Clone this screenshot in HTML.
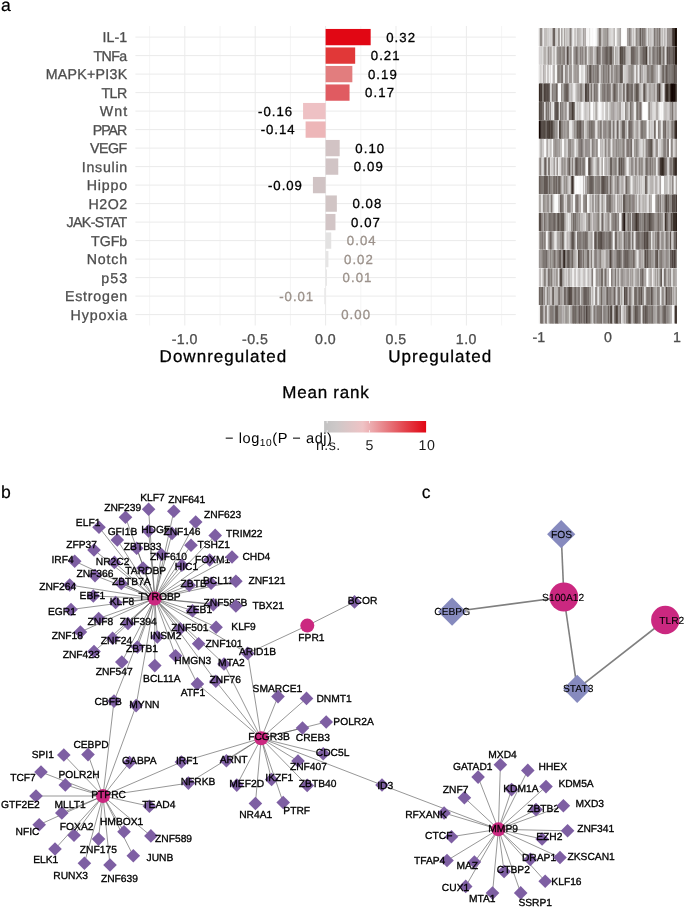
<!DOCTYPE html>
<html><head><meta charset="utf-8"><title>figure</title>
<style>html,body{margin:0;padding:0;background:#fff;}body{width:685px;height:908px;overflow:hidden;font-family:"Liberation Sans", sans-serif;}svg{display:block;position:absolute;left:0;top:0;will-change:transform;}text{text-rendering:geometricPrecision;}</style></head>
<body>
<svg width="685" height="908" viewBox="0 0 685 908" font-family='"Liberation Sans", sans-serif'>
<g id="bars" class="t" stroke-width="0.3"><line x1="135.4" x2="515.8" y1="37.10" y2="37.10" stroke="#ebebeb" stroke-width="1"/>
<line x1="135.4" x2="515.8" y1="55.60" y2="55.60" stroke="#ebebeb" stroke-width="1"/>
<line x1="135.4" x2="515.8" y1="74.10" y2="74.10" stroke="#ebebeb" stroke-width="1"/>
<line x1="135.4" x2="515.8" y1="92.60" y2="92.60" stroke="#ebebeb" stroke-width="1"/>
<line x1="135.4" x2="515.8" y1="111.10" y2="111.10" stroke="#ebebeb" stroke-width="1"/>
<line x1="135.4" x2="515.8" y1="129.60" y2="129.60" stroke="#ebebeb" stroke-width="1"/>
<line x1="135.4" x2="515.8" y1="148.10" y2="148.10" stroke="#ebebeb" stroke-width="1"/>
<line x1="135.4" x2="515.8" y1="166.60" y2="166.60" stroke="#ebebeb" stroke-width="1"/>
<line x1="135.4" x2="515.8" y1="185.10" y2="185.10" stroke="#ebebeb" stroke-width="1"/>
<line x1="135.4" x2="515.8" y1="203.60" y2="203.60" stroke="#ebebeb" stroke-width="1"/>
<line x1="135.4" x2="515.8" y1="222.10" y2="222.10" stroke="#ebebeb" stroke-width="1"/>
<line x1="135.4" x2="515.8" y1="240.60" y2="240.60" stroke="#ebebeb" stroke-width="1"/>
<line x1="135.4" x2="515.8" y1="259.10" y2="259.10" stroke="#ebebeb" stroke-width="1"/>
<line x1="135.4" x2="515.8" y1="277.60" y2="277.60" stroke="#ebebeb" stroke-width="1"/>
<line x1="135.4" x2="515.8" y1="296.10" y2="296.10" stroke="#ebebeb" stroke-width="1"/>
<line x1="135.4" x2="515.8" y1="314.60" y2="314.60" stroke="#ebebeb" stroke-width="1"/>
<line x1="149.60" x2="149.60" y1="26.0" y2="325.5" stroke="#ebebeb" stroke-width="0.55"/>
<line x1="184.80" x2="184.80" y1="26.0" y2="325.5" stroke="#ebebeb" stroke-width="1.0"/>
<line x1="220.00" x2="220.00" y1="26.0" y2="325.5" stroke="#ebebeb" stroke-width="0.55"/>
<line x1="255.20" x2="255.20" y1="26.0" y2="325.5" stroke="#ebebeb" stroke-width="1.0"/>
<line x1="290.40" x2="290.40" y1="26.0" y2="325.5" stroke="#ebebeb" stroke-width="0.55"/>
<line x1="325.60" x2="325.60" y1="26.0" y2="325.5" stroke="#ebebeb" stroke-width="1.0"/>
<line x1="360.80" x2="360.80" y1="26.0" y2="325.5" stroke="#ebebeb" stroke-width="0.55"/>
<line x1="396.00" x2="396.00" y1="26.0" y2="325.5" stroke="#ebebeb" stroke-width="1.0"/>
<line x1="431.20" x2="431.20" y1="26.0" y2="325.5" stroke="#ebebeb" stroke-width="0.55"/>
<line x1="466.40" x2="466.40" y1="26.0" y2="325.5" stroke="#ebebeb" stroke-width="1.0"/>
<line x1="501.60" x2="501.60" y1="26.0" y2="325.5" stroke="#ebebeb" stroke-width="0.55"/>
<rect x="325.60" y="28.95" width="45.06" height="16.3" fill="#e10714"/>
<text x="102.60" y="42.20" textLength="24.6" lengthAdjust="spacing" font-size="14.2" fill="#4d4d4d" stroke="#4d4d4d">IL-1</text>
<text x="386.21" y="41.80" textLength="28.9" lengthAdjust="spacing" font-size="13.2" fill="#000" stroke="#000">0.32</text>
<rect x="325.60" y="47.45" width="29.57" height="16.3" fill="#e13838"/>
<text x="93.50" y="60.70" textLength="33.7" lengthAdjust="spacing" font-size="14.2" fill="#4d4d4d" stroke="#4d4d4d">TNFa</text>
<text x="370.72" y="60.30" textLength="28.9" lengthAdjust="spacing" font-size="13.2" fill="#000" stroke="#000">0.21</text>
<rect x="325.60" y="65.95" width="26.75" height="16.3" fill="#e27d7e"/>
<text x="45.70" y="79.20" textLength="81.5" lengthAdjust="spacing" font-size="14.2" fill="#4d4d4d" stroke="#4d4d4d">MAPK+PI3K</text>
<text x="367.90" y="78.80" textLength="28.9" lengthAdjust="spacing" font-size="13.2" fill="#000" stroke="#000">0.19</text>
<rect x="325.60" y="84.45" width="23.94" height="16.3" fill="#e05b61"/>
<text x="101.40" y="97.70" textLength="25.8" lengthAdjust="spacing" font-size="14.2" fill="#4d4d4d" stroke="#4d4d4d">TLR</text>
<text x="365.09" y="97.30" textLength="28.9" lengthAdjust="spacing" font-size="13.2" fill="#000" stroke="#000">0.17</text>
<rect x="303.07" y="102.95" width="22.53" height="16.3" fill="#eec1c4"/>
<text x="99.70" y="116.20" textLength="27.5" lengthAdjust="spacing" font-size="14.2" fill="#4d4d4d" stroke="#4d4d4d">Wnt</text>
<text x="258.12" y="115.80" textLength="33.9" lengthAdjust="spacing" font-size="13.2" fill="#000" stroke="#000">-0.16</text>
<rect x="305.61" y="121.45" width="19.99" height="16.3" fill="#edb6b8"/>
<text x="92.70" y="134.70" textLength="34.5" lengthAdjust="spacing" font-size="14.2" fill="#4d4d4d" stroke="#4d4d4d">PPAR</text>
<text x="260.66" y="134.30" textLength="33.9" lengthAdjust="spacing" font-size="13.2" fill="#000" stroke="#000">-0.14</text>
<rect x="325.60" y="139.95" width="14.08" height="16.3" fill="#d2c3c4"/>
<text x="90.10" y="153.20" textLength="37.1" lengthAdjust="spacing" font-size="14.2" fill="#4d4d4d" stroke="#4d4d4d">VEGF</text>
<text x="355.23" y="152.80" textLength="28.9" lengthAdjust="spacing" font-size="13.2" fill="#000" stroke="#000">0.10</text>
<rect x="325.60" y="158.45" width="12.67" height="16.3" fill="#d1c4c5"/>
<text x="81.80" y="171.70" textLength="45.4" lengthAdjust="spacing" font-size="14.2" fill="#4d4d4d" stroke="#4d4d4d">Insulin</text>
<text x="353.82" y="171.30" textLength="28.9" lengthAdjust="spacing" font-size="13.2" fill="#000" stroke="#000">0.09</text>
<rect x="312.93" y="176.95" width="12.67" height="16.3" fill="#d0c3c4"/>
<text x="86.70" y="190.20" textLength="40.5" lengthAdjust="spacing" font-size="14.2" fill="#4d4d4d" stroke="#4d4d4d">Hippo</text>
<text x="267.98" y="189.80" textLength="33.9" lengthAdjust="spacing" font-size="13.2" fill="#000" stroke="#000">-0.09</text>
<rect x="325.60" y="195.45" width="11.26" height="16.3" fill="#d1c5c5"/>
<text x="88.60" y="208.70" textLength="38.6" lengthAdjust="spacing" font-size="14.2" fill="#4d4d4d" stroke="#4d4d4d">H2O2</text>
<text x="352.41" y="208.30" textLength="28.9" lengthAdjust="spacing" font-size="13.2" fill="#000" stroke="#000">0.08</text>
<rect x="325.60" y="213.95" width="9.86" height="16.3" fill="#d2c5c6"/>
<text x="66.40" y="227.20" textLength="60.8" lengthAdjust="spacing" font-size="14.2" fill="#4d4d4d" stroke="#4d4d4d">JAK-STAT</text>
<text x="351.01" y="226.80" textLength="28.9" lengthAdjust="spacing" font-size="13.2" fill="#000" stroke="#000">0.07</text>
<rect x="325.60" y="232.45" width="5.63" height="16.3" fill="#e3e2e2"/>
<text x="91.00" y="245.70" textLength="36.2" lengthAdjust="spacing" font-size="14.2" fill="#4d4d4d" stroke="#4d4d4d">TGFb</text>
<text x="346.78" y="245.30" textLength="28.9" lengthAdjust="spacing" font-size="13.2" fill="#9c928b" stroke="#9c928b">0.04</text>
<rect x="325.60" y="250.95" width="2.82" height="16.3" fill="#e6e5e5"/>
<text x="86.70" y="264.20" textLength="40.5" lengthAdjust="spacing" font-size="14.2" fill="#4d4d4d" stroke="#4d4d4d">Notch</text>
<text x="343.97" y="263.80" textLength="28.9" lengthAdjust="spacing" font-size="13.2" fill="#9c928b" stroke="#9c928b">0.02</text>
<rect x="325.60" y="269.45" width="1.41" height="16.3" fill="#e9e8e8"/>
<text x="101.20" y="282.70" textLength="26.0" lengthAdjust="spacing" font-size="14.2" fill="#4d4d4d" stroke="#4d4d4d">p53</text>
<text x="342.56" y="282.30" textLength="28.9" lengthAdjust="spacing" font-size="13.2" fill="#9c928b" stroke="#9c928b">0.01</text>
<rect x="324.19" y="287.95" width="1.41" height="16.3" fill="#ebeaea"/>
<text x="65.00" y="301.20" textLength="62.2" lengthAdjust="spacing" font-size="14.2" fill="#4d4d4d" stroke="#4d4d4d">Estrogen</text>
<text x="279.24" y="300.80" textLength="33.9" lengthAdjust="spacing" font-size="13.2" fill="#9c928b" stroke="#9c928b">-0.01</text>
<text x="70.60" y="319.70" textLength="56.6" lengthAdjust="spacing" font-size="14.2" fill="#4d4d4d" stroke="#4d4d4d">Hypoxia</text>
<text x="341.15" y="319.30" textLength="28.9" lengthAdjust="spacing" font-size="13.2" fill="#9c928b" stroke="#9c928b">0.00</text>
<text x="184.80" y="343.7" text-anchor="middle" font-size="14.2" letter-spacing="0.45" fill="#4d4d4d" stroke="#4d4d4d">-1.0</text>
<text x="255.20" y="343.7" text-anchor="middle" font-size="14.2" letter-spacing="0.45" fill="#4d4d4d" stroke="#4d4d4d">-0.5</text>
<text x="325.60" y="343.7" text-anchor="middle" font-size="14.2" letter-spacing="0.45" fill="#4d4d4d" stroke="#4d4d4d">0.0</text>
<text x="396.00" y="343.7" text-anchor="middle" font-size="14.2" letter-spacing="0.45" fill="#4d4d4d" stroke="#4d4d4d">0.5</text>
<text x="466.40" y="343.7" text-anchor="middle" font-size="14.2" letter-spacing="0.45" fill="#4d4d4d" stroke="#4d4d4d">1.0</text>
<text x="159.6" y="362.2" textLength="126.6" lengthAdjust="spacing" font-size="17" fill="#000" stroke="#000">Downregulated</text>
<text x="388.2" y="362.2" textLength="103" lengthAdjust="spacing" font-size="17" fill="#000" stroke="#000">Upregulated</text>
<text x="282.2" y="398" textLength="86.6" lengthAdjust="spacing" font-size="17" fill="#000" stroke="#000">Mean rank</text>
<defs><linearGradient id="lg" x1="0" x2="1" y1="0" y2="0"><stop offset="0" stop-color="#c2c2c2"/><stop offset="0.12" stop-color="#cdc8c8"/><stop offset="0.38" stop-color="#efc3c5"/><stop offset="0.6" stop-color="#e78085"/><stop offset="0.8" stop-color="#e3414a"/><stop offset="1" stop-color="#e10714"/></linearGradient></defs>
<rect x="324.1" y="421" width="102" height="11.5" fill="url(#lg)"/>
<line x1="327.2" x2="327.2" y1="421" y2="423.3" stroke="#fff" stroke-width="0.7"/>
<line x1="327.2" x2="327.2" y1="430.2" y2="432.5" stroke="#fff" stroke-width="0.7"/>
<line x1="369.5" x2="369.5" y1="421" y2="423.3" stroke="#fff" stroke-width="0.7"/>
<line x1="369.5" x2="369.5" y1="430.2" y2="432.5" stroke="#fff" stroke-width="0.7"/>
<text x="225" y="443" font-size="14.6" letter-spacing="0.55" fill="#000">− log<tspan font-size="10.2" dy="2.6">10</tspan><tspan dy="-2.6">(P − adj)</tspan></text>
<text x="328.3" y="450.2" text-anchor="middle" font-size="14.2" letter-spacing="0.4" fill="#1a1a1a">n.s.</text>
<text x="369.5" y="450.2" text-anchor="middle" font-size="14.2" fill="#1a1a1a">5</text>
<text x="427" y="450.2" text-anchor="middle" font-size="14.2" letter-spacing="0.6" fill="#1a1a1a">10</text></g>
<g id="heat" shape-rendering="auto"><g transform="translate(0,28.10)"><path d="M538.80 0h0.62v18.09h-0.62z" fill="#ffffff"/><path d="M538.82 0h1.21v18.09h-1.21z" fill="#bab7b5"/><path d="M539.43 0h1.21v18.09h-1.21z" fill="#dfdddc"/><path d="M540.04 0h1.24v18.09h-1.24z" fill="#817a76"/><path d="M540.68 0h1.24v18.09h-1.24z" fill="#aca7a4"/><path d="M541.32 0h1.24v18.09h-1.24z" fill="#817a77"/><path d="M541.96 0h1.24v18.09h-1.24z" fill="#c4c1bf"/><path d="M542.60 0h1.37v18.09h-1.37z" fill="#dbd9d8"/><path d="M543.36 0h1.37v18.09h-1.37z" fill="#f2f1f1"/><path d="M544.13 0h1.24v18.09h-1.24z" fill="#b8b4b2"/><path d="M544.77 0h1.24v18.09h-1.24z" fill="#cac7c5"/><path d="M545.41 0h1.24v18.09h-1.24z" fill="#bcb9b7"/><path d="M546.05 0h1.24v18.09h-1.24z" fill="#b3afad"/><path d="M546.69 0h1.37v18.09h-1.37z" fill="#dfdddc"/><path d="M547.45 0h1.37v18.09h-1.37z" fill="#c3bfbd"/><path d="M548.22 0h1.24v18.09h-1.24z" fill="#cac7c6"/><path d="M548.86 0h1.24v18.09h-1.24z" fill="#dfdedd"/><path d="M549.50 0h1.24v18.09h-1.24z" fill="#d3d0cf"/><path d="M550.14 0h1.24v18.09h-1.24z" fill="#c9c6c5"/><path d="M550.77 0h1.28v18.09h-1.28z" fill="#eeedec"/><path d="M551.45 0h1.28v18.09h-1.28z" fill="#c3c0be"/><path d="M552.14 0h1.28v18.09h-1.28z" fill="#b6b2b0"/><path d="M552.82 0h1.24v18.09h-1.24z" fill="#736c67"/><path d="M553.46 0h1.24v18.09h-1.24z" fill="#665d59"/><path d="M554.09 0h1.24v18.09h-1.24z" fill="#68605c"/><path d="M554.73 0h1.24v18.09h-1.24z" fill="#69615c"/><path d="M555.37 0h1.24v18.09h-1.24z" fill="#fafafa"/><path d="M556.01 0h1.24v18.09h-1.24z" fill="#d2cfce"/><path d="M556.65 0h1.24v18.09h-1.24z" fill="#d5d3d1"/><path d="M557.29 0h1.24v18.09h-1.24z" fill="#dfdddc"/><path d="M557.93 0h1.37v18.09h-1.37z" fill="#aba7a4"/><path d="M558.69 0h1.37v18.09h-1.37z" fill="#7e7773"/><path d="M559.46 0h1.37v18.09h-1.37z" fill="#cfcdcb"/><path d="M560.23 0h1.37v18.09h-1.37z" fill="#ffffff"/><path d="M560.99 0h1.32v18.09h-1.32z" fill="#a5a09d"/><path d="M561.71 0h1.32v18.09h-1.32z" fill="#bbb7b5"/><path d="M562.42 0h1.32v18.09h-1.32z" fill="#cfcdcb"/><path d="M563.14 0h1.32v18.09h-1.32z" fill="#f0efee"/><path d="M563.85 0h1.32v18.09h-1.32z" fill="#afaba8"/><path d="M564.57 0h1.28v18.09h-1.28z" fill="#a19c99"/><path d="M565.25 0h1.28v18.09h-1.28z" fill="#dfdddc"/><path d="M565.93 0h1.28v18.09h-1.28z" fill="#c7c4c2"/><path d="M566.61 0h1.37v18.09h-1.37z" fill="#bfbcba"/><path d="M567.38 0h1.37v18.09h-1.37z" fill="#d0cecc"/><path d="M568.15 0h1.37v18.09h-1.37z" fill="#ccc9c7"/><path d="M568.91 0h1.37v18.09h-1.37z" fill="#cdcac9"/><path d="M569.68 0h1.28v18.09h-1.28z" fill="#6c6460"/><path d="M570.36 0h1.28v18.09h-1.28z" fill="#8f8885"/><path d="M571.04 0h1.28v18.09h-1.28z" fill="#938d8a"/><path d="M571.72 0h1.28v18.09h-1.28z" fill="#e7e5e5"/><path d="M572.40 0h1.28v18.09h-1.28z" fill="#dddbda"/><path d="M573.09 0h1.28v18.09h-1.28z" fill="#f5f4f4"/><path d="M573.77 0h1.37v18.09h-1.37z" fill="#dbd9d8"/><path d="M574.53 0h1.37v18.09h-1.37z" fill="#bdb9b7"/><path d="M575.30 0h1.37v18.09h-1.37z" fill="#c8c5c4"/><path d="M576.07 0h1.37v18.09h-1.37z" fill="#e6e5e4"/><path d="M576.83 0h1.37v18.09h-1.37z" fill="#b6b2b0"/><path d="M577.60 0h1.37v18.09h-1.37z" fill="#b2adab"/><path d="M578.36 0h1.37v18.09h-1.37z" fill="#bcb9b7"/><path d="M579.13 0h1.37v18.09h-1.37z" fill="#b8b4b1"/><path d="M579.90 0h1.37v18.09h-1.37z" fill="#d1cfce"/><path d="M580.66 0h1.37v18.09h-1.37z" fill="#aba6a4"/><path d="M581.43 0h1.37v18.09h-1.37z" fill="#f4f4f4"/><path d="M582.20 0h1.37v18.09h-1.37z" fill="#d5d3d2"/><path d="M582.96 0h1.37v18.09h-1.37z" fill="#9b9592"/><path d="M583.73 0h1.37v18.09h-1.37z" fill="#c0bdbb"/><path d="M584.50 0h1.37v18.09h-1.37z" fill="#b3aeac"/><path d="M585.26 0h1.37v18.09h-1.37z" fill="#ada8a6"/><path d="M586.03 0h1.37v18.09h-1.37z" fill="#f4f3f3"/><path d="M586.80 0h1.37v18.09h-1.37z" fill="#ffffff"/><path d="M587.56 0h1.37v18.09h-1.37z" fill="#eae9e8"/><path d="M588.33 0h1.37v18.09h-1.37z" fill="#fffefe"/><path d="M589.09 0h1.62v18.09h-1.62z" fill="#e3e2e1"/><path d="M590.12 0h1.28v18.09h-1.28z" fill="#f9f9f8"/><path d="M590.80 0h1.28v18.09h-1.28z" fill="#fafafa"/><path d="M591.48 0h1.28v18.09h-1.28z" fill="#fefefe"/><path d="M592.16 0h1.28v18.09h-1.28z" fill="#f7f6f6"/><path d="M592.84 0h1.28v18.09h-1.28z" fill="#fbfbfb"/><path d="M593.52 0h1.28v18.09h-1.28z" fill="#ffffff"/><path d="M594.20 0h1.28v18.09h-1.28z" fill="#ffffff"/><path d="M594.89 0h1.28v18.09h-1.28z" fill="#fefefe"/><path d="M595.57 0h1.28v18.09h-1.28z" fill="#f6f6f6"/><path d="M596.25 0h1.28v18.09h-1.28z" fill="#f1f0f0"/><path d="M596.93 0h1.28v18.09h-1.28z" fill="#cdcac9"/><path d="M597.61 0h1.28v18.09h-1.28z" fill="#d1cfcd"/><path d="M598.29 0h1.32v18.09h-1.32z" fill="#a5a09d"/><path d="M599.01 0h1.32v18.09h-1.32z" fill="#78716d"/><path d="M599.72 0h1.32v18.09h-1.32z" fill="#7e7773"/><path d="M600.44 0h1.32v18.09h-1.32z" fill="#827c78"/><path d="M601.15 0h1.32v18.09h-1.32z" fill="#c1bebc"/><path d="M601.87 0h1.37v18.09h-1.37z" fill="#c1bdbc"/><path d="M602.64 0h1.37v18.09h-1.37z" fill="#cdcac8"/><path d="M603.40 0h1.37v18.09h-1.37z" fill="#948e8b"/><path d="M604.17 0h1.37v18.09h-1.37z" fill="#a49f9d"/><path d="M604.93 0h1.37v18.09h-1.37z" fill="#a39e9b"/><path d="M605.70 0h1.37v18.09h-1.37z" fill="#9e9996"/><path d="M606.47 0h1.37v18.09h-1.37z" fill="#a9a4a1"/><path d="M607.23 0h1.37v18.09h-1.37z" fill="#837c79"/><path d="M608.00 0h1.37v18.09h-1.37z" fill="#b7b3b0"/><path d="M608.77 0h1.37v18.09h-1.37z" fill="#b9b5b3"/><path d="M609.53 0h1.28v18.09h-1.28z" fill="#eae9e8"/><path d="M610.21 0h1.28v18.09h-1.28z" fill="#cfcdcb"/><path d="M610.90 0h1.28v18.09h-1.28z" fill="#c5c2c0"/><path d="M611.58 0h1.28v18.09h-1.28z" fill="#fafafa"/><path d="M612.26 0h1.28v18.09h-1.28z" fill="#d3d0cf"/><path d="M612.94 0h1.28v18.09h-1.28z" fill="#dddbda"/><path d="M613.62 0h1.37v18.09h-1.37z" fill="#aea9a7"/><path d="M614.39 0h1.37v18.09h-1.37z" fill="#c8c5c3"/><path d="M615.15 0h1.37v18.09h-1.37z" fill="#ffffff"/><path d="M615.92 0h1.37v18.09h-1.37z" fill="#f5f5f4"/><path d="M616.69 0h1.28v18.09h-1.28z" fill="#d4d2d0"/><path d="M617.37 0h1.28v18.09h-1.28z" fill="#c2bfbd"/><path d="M618.05 0h1.28v18.09h-1.28z" fill="#c3bfbe"/><path d="M618.73 0h1.28v18.09h-1.28z" fill="#b4b0ae"/><path d="M619.41 0h1.28v18.09h-1.28z" fill="#b7b4b1"/><path d="M620.09 0h1.28v18.09h-1.28z" fill="#8d8683"/><path d="M620.77 0h1.28v18.09h-1.28z" fill="#f8f8f8"/><path d="M621.45 0h1.28v18.09h-1.28z" fill="#f8f8f8"/><path d="M622.14 0h1.28v18.09h-1.28z" fill="#fffefe"/><path d="M622.82 0h1.28v18.09h-1.28z" fill="#fefefe"/><path d="M623.50 0h1.28v18.09h-1.28z" fill="#ffffff"/><path d="M624.18 0h1.28v18.09h-1.28z" fill="#ffffff"/><path d="M624.86 0h1.28v18.09h-1.28z" fill="#fbfbfb"/><path d="M625.54 0h1.28v18.09h-1.28z" fill="#ffffff"/><path d="M626.22 0h1.28v18.09h-1.28z" fill="#ffffff"/><path d="M626.91 0h1.37v18.09h-1.37z" fill="#a09a97"/><path d="M627.67 0h1.37v18.09h-1.37z" fill="#b5b1af"/><path d="M628.44 0h1.37v18.09h-1.37z" fill="#9c9794"/><path d="M629.20 0h1.37v18.09h-1.37z" fill="#7f7875"/><path d="M629.97 0h1.37v18.09h-1.37z" fill="#a29d9a"/><path d="M630.74 0h1.37v18.09h-1.37z" fill="#8f8986"/><path d="M631.50 0h1.24v18.09h-1.24z" fill="#dedcdb"/><path d="M632.14 0h1.24v18.09h-1.24z" fill="#d2d0cf"/><path d="M632.78 0h1.24v18.09h-1.24z" fill="#e2e1e0"/><path d="M633.42 0h1.24v18.09h-1.24z" fill="#b1adaa"/><path d="M634.06 0h1.28v18.09h-1.28z" fill="#e7e5e5"/><path d="M634.74 0h1.28v18.09h-1.28z" fill="#d8d6d5"/><path d="M635.42 0h1.28v18.09h-1.28z" fill="#b6b2b0"/><path d="M636.10 0h1.32v18.09h-1.32z" fill="#89827f"/><path d="M636.82 0h1.32v18.09h-1.32z" fill="#9b9592"/><path d="M637.53 0h1.32v18.09h-1.32z" fill="#a8a4a1"/><path d="M638.25 0h1.32v18.09h-1.32z" fill="#a39e9b"/><path d="M638.96 0h1.32v18.09h-1.32z" fill="#a39e9b"/><path d="M639.68 0h1.32v18.09h-1.32z" fill="#5c534e"/><path d="M640.39 0h1.32v18.09h-1.32z" fill="#6c6460"/><path d="M641.11 0h1.32v18.09h-1.32z" fill="#9e9896"/><path d="M641.82 0h1.32v18.09h-1.32z" fill="#88817e"/><path d="M642.54 0h1.32v18.09h-1.32z" fill="#645c57"/><path d="M643.26 0h1.37v18.09h-1.37z" fill="#8e8885"/><path d="M644.02 0h1.37v18.09h-1.37z" fill="#837c78"/><path d="M644.79 0h1.37v18.09h-1.37z" fill="#8b8581"/><path d="M645.55 0h1.37v18.09h-1.37z" fill="#b7b3b1"/><path d="M646.32 0h1.28v18.09h-1.28z" fill="#cdcac9"/><path d="M647.00 0h1.28v18.09h-1.28z" fill="#e8e7e6"/><path d="M647.68 0h1.28v18.09h-1.28z" fill="#d5d3d2"/><path d="M648.36 0h1.24v18.09h-1.24z" fill="#a49f9c"/><path d="M649.00 0h1.24v18.09h-1.24z" fill="#b5b1af"/><path d="M649.64 0h1.24v18.09h-1.24z" fill="#f0f0ef"/><path d="M650.28 0h1.24v18.09h-1.24z" fill="#b2aeac"/><path d="M650.92 0h1.24v18.09h-1.24z" fill="#b7b3b1"/><path d="M651.56 0h1.24v18.09h-1.24z" fill="#e5e4e3"/><path d="M652.20 0h1.24v18.09h-1.24z" fill="#cecbca"/><path d="M652.84 0h1.24v18.09h-1.24z" fill="#ccc9c8"/><path d="M653.47 0h1.28v18.09h-1.28z" fill="#afaaa8"/><path d="M654.16 0h1.28v18.09h-1.28z" fill="#6d6561"/><path d="M654.84 0h1.28v18.09h-1.28z" fill="#9a9491"/><path d="M655.52 0h1.37v18.09h-1.37z" fill="#a39e9b"/><path d="M656.28 0h1.37v18.09h-1.37z" fill="#9c9693"/><path d="M657.05 0h1.37v18.09h-1.37z" fill="#807976"/><path d="M657.82 0h1.37v18.09h-1.37z" fill="#a8a4a1"/><path d="M658.58 0h1.37v18.09h-1.37z" fill="#8e8885"/><path d="M659.35 0h1.37v18.09h-1.37z" fill="#6c635f"/><path d="M660.12 0h1.24v18.09h-1.24z" fill="#9d9794"/><path d="M660.76 0h1.24v18.09h-1.24z" fill="#d2d0cf"/><path d="M661.39 0h1.24v18.09h-1.24z" fill="#c8c5c4"/><path d="M662.03 0h1.24v18.09h-1.24z" fill="#9d9895"/><path d="M662.67 0h1.28v18.09h-1.28z" fill="#ffffff"/><path d="M663.35 0h1.28v18.09h-1.28z" fill="#cac7c5"/><path d="M664.03 0h1.28v18.09h-1.28z" fill="#b9b5b3"/><path d="M664.72 0h1.28v18.09h-1.28z" fill="#bfbcba"/><path d="M665.40 0h1.28v18.09h-1.28z" fill="#d5d3d2"/><path d="M666.08 0h1.28v18.09h-1.28z" fill="#e3e1e1"/><path d="M666.76 0h1.37v18.09h-1.37z" fill="#a6a19e"/><path d="M667.53 0h1.37v18.09h-1.37z" fill="#88827e"/><path d="M668.29 0h1.28v18.09h-1.28z" fill="#9e9996"/><path d="M668.97 0h1.28v18.09h-1.28z" fill="#8c8582"/><path d="M669.65 0h1.28v18.09h-1.28z" fill="#a8a3a1"/><path d="M670.34 0h1.21v18.09h-1.21z" fill="#8f8885"/><path d="M670.95 0h1.21v18.09h-1.21z" fill="#a09b98"/><path d="M671.56 0h1.21v18.09h-1.21z" fill="#817a76"/><path d="M672.18 0h1.29v18.09h-1.29z" fill="#4a403b"/><path d="M672.86 0h1.29v18.09h-1.29z" fill="#423832"/><path d="M673.55 0h1.29v18.09h-1.29z" fill="#3c312b"/><path d="M674.24 0h1.29v18.09h-1.29z" fill="#3c322c"/><path d="M674.93 0h1.29v18.09h-1.29z" fill="#160902"/><path d="M675.62 0h1.29v18.09h-1.29z" fill="#150902"/><path d="M676.31 0h0.69v18.09h-0.69z" fill="#1b0e07"/></g>
<g transform="translate(0,46.59)"><path d="M538.80 0h0.62v18.09h-0.62z" fill="#ffffff"/><path d="M538.82 0h1.21v18.09h-1.21z" fill="#c1bdbb"/><path d="M539.43 0h1.21v18.09h-1.21z" fill="#e6e5e4"/><path d="M540.04 0h1.28v18.09h-1.28z" fill="#cdcac9"/><path d="M540.73 0h1.28v18.09h-1.28z" fill="#e5e4e3"/><path d="M541.41 0h1.28v18.09h-1.28z" fill="#c3c0be"/><path d="M542.09 0h1.37v18.09h-1.37z" fill="#e2e0df"/><path d="M542.85 0h1.37v18.09h-1.37z" fill="#d8d6d5"/><path d="M543.62 0h1.28v18.09h-1.28z" fill="#aca7a5"/><path d="M544.30 0h1.28v18.09h-1.28z" fill="#b4afad"/><path d="M544.98 0h1.28v18.09h-1.28z" fill="#ada9a6"/><path d="M545.66 0h1.28v18.09h-1.28z" fill="#c7c4c2"/><path d="M546.35 0h1.28v18.09h-1.28z" fill="#d8d6d4"/><path d="M547.03 0h1.28v18.09h-1.28z" fill="#cecbca"/><path d="M547.71 0h1.37v18.09h-1.37z" fill="#a5a09d"/><path d="M548.47 0h1.37v18.09h-1.37z" fill="#8d8683"/><path d="M549.24 0h1.30v18.09h-1.30z" fill="#c1bebc"/><path d="M549.94 0h1.30v18.09h-1.30z" fill="#a9a4a1"/><path d="M550.65 0h1.30v18.09h-1.30z" fill="#aca7a5"/><path d="M551.35 0h1.30v18.09h-1.30z" fill="#c0bdbb"/><path d="M552.05 0h1.30v18.09h-1.30z" fill="#e8e7e6"/><path d="M552.75 0h1.30v18.09h-1.30z" fill="#d1cfce"/><path d="M553.46 0h1.30v18.09h-1.30z" fill="#bdbab8"/><path d="M554.16 0h1.30v18.09h-1.30z" fill="#b9b6b4"/><path d="M554.86 0h1.37v18.09h-1.37z" fill="#e6e4e3"/><path d="M555.63 0h1.37v18.09h-1.37z" fill="#eeedec"/><path d="M556.39 0h1.37v18.09h-1.37z" fill="#aaa5a3"/><path d="M557.16 0h1.37v18.09h-1.37z" fill="#8d8784"/><path d="M557.93 0h1.37v18.09h-1.37z" fill="#958f8c"/><path d="M558.69 0h1.37v18.09h-1.37z" fill="#8a8480"/><path d="M559.46 0h1.37v18.09h-1.37z" fill="#8b8581"/><path d="M560.23 0h1.37v18.09h-1.37z" fill="#807975"/><path d="M560.99 0h1.28v18.09h-1.28z" fill="#aeaaa7"/><path d="M561.67 0h1.28v18.09h-1.28z" fill="#87817d"/><path d="M562.36 0h1.28v18.09h-1.28z" fill="#9b9592"/><path d="M563.04 0h1.28v18.09h-1.28z" fill="#908a87"/><path d="M563.72 0h1.28v18.09h-1.28z" fill="#756d69"/><path d="M564.40 0h1.28v18.09h-1.28z" fill="#938d89"/><path d="M565.08 0h1.37v18.09h-1.37z" fill="#c1bebc"/><path d="M565.85 0h1.37v18.09h-1.37z" fill="#d4d2d1"/><path d="M566.61 0h1.28v18.09h-1.28z" fill="#665d59"/><path d="M567.29 0h1.28v18.09h-1.28z" fill="#483e39"/><path d="M567.98 0h1.28v18.09h-1.28z" fill="#4f4540"/><path d="M568.66 0h1.37v18.09h-1.37z" fill="#d2d0ce"/><path d="M569.42 0h1.37v18.09h-1.37z" fill="#928c88"/><path d="M570.19 0h1.37v18.09h-1.37z" fill="#918b88"/><path d="M570.96 0h1.37v18.09h-1.37z" fill="#948e8b"/><path d="M571.72 0h1.37v18.09h-1.37z" fill="#f3f2f2"/><path d="M572.49 0h1.37v18.09h-1.37z" fill="#f1f1f0"/><path d="M573.26 0h1.28v18.09h-1.28z" fill="#a5a09d"/><path d="M573.94 0h1.28v18.09h-1.28z" fill="#a19c99"/><path d="M574.62 0h1.28v18.09h-1.28z" fill="#89827f"/><path d="M575.30 0h1.28v18.09h-1.28z" fill="#8a8380"/><path d="M575.98 0h1.28v18.09h-1.28z" fill="#746c68"/><path d="M576.66 0h1.28v18.09h-1.28z" fill="#726b66"/><path d="M577.34 0h1.24v18.09h-1.24z" fill="#918b87"/><path d="M577.98 0h1.24v18.09h-1.24z" fill="#afaaa8"/><path d="M578.62 0h1.24v18.09h-1.24z" fill="#a29d9a"/><path d="M579.26 0h1.24v18.09h-1.24z" fill="#b0aca9"/><path d="M579.90 0h1.24v18.09h-1.24z" fill="#918b88"/><path d="M580.54 0h1.24v18.09h-1.24z" fill="#7b7470"/><path d="M581.18 0h1.24v18.09h-1.24z" fill="#a9a4a2"/><path d="M581.81 0h1.24v18.09h-1.24z" fill="#736c68"/><path d="M582.45 0h1.24v18.09h-1.24z" fill="#9d9794"/><path d="M583.09 0h1.24v18.09h-1.24z" fill="#a19c99"/><path d="M583.73 0h1.24v18.09h-1.24z" fill="#c1bdbb"/><path d="M584.37 0h1.24v18.09h-1.24z" fill="#a7a29f"/><path d="M585.01 0h1.28v18.09h-1.28z" fill="#7d7672"/><path d="M585.69 0h1.28v18.09h-1.28z" fill="#958f8c"/><path d="M586.37 0h1.28v18.09h-1.28z" fill="#a39e9c"/><path d="M587.05 0h1.21v18.09h-1.21z" fill="#e4e2e1"/><path d="M587.66 0h1.21v18.09h-1.21z" fill="#e1dfde"/><path d="M588.28 0h1.33v18.09h-1.33z" fill="#b1adaa"/><path d="M589.01 0h1.33v18.09h-1.33z" fill="#afaaa8"/><path d="M589.74 0h1.33v18.09h-1.33z" fill="#aeaaa7"/><path d="M590.47 0h1.33v18.09h-1.33z" fill="#8b8581"/><path d="M591.21 0h1.33v18.09h-1.33z" fill="#a19b99"/><path d="M591.94 0h1.33v18.09h-1.33z" fill="#a29d9a"/><path d="M592.67 0h1.28v18.09h-1.28z" fill="#ada8a6"/><path d="M593.35 0h1.28v18.09h-1.28z" fill="#eae9e8"/><path d="M594.03 0h1.28v18.09h-1.28z" fill="#d3d1d0"/><path d="M594.72 0h1.28v18.09h-1.28z" fill="#999390"/><path d="M595.40 0h1.28v18.09h-1.28z" fill="#cecbca"/><path d="M596.08 0h1.28v18.09h-1.28z" fill="#a39e9b"/><path d="M596.76 0h1.36v18.09h-1.36z" fill="#615954"/><path d="M597.52 0h1.36v18.09h-1.36z" fill="#6f6763"/><path d="M598.27 0h1.36v18.09h-1.36z" fill="#7c7470"/><path d="M599.03 0h1.36v18.09h-1.36z" fill="#817a76"/><path d="M599.78 0h1.36v18.09h-1.36z" fill="#6f6763"/><path d="M600.54 0h1.21v18.09h-1.21z" fill="#c0bcba"/><path d="M601.15 0h1.21v18.09h-1.21z" fill="#c3c0be"/><path d="M601.77 0h1.21v18.09h-1.21z" fill="#c1bdbb"/><path d="M602.38 0h1.37v18.09h-1.37z" fill="#726a66"/><path d="M603.15 0h1.37v18.09h-1.37z" fill="#87817d"/><path d="M603.91 0h1.37v18.09h-1.37z" fill="#7e7673"/><path d="M604.68 0h1.37v18.09h-1.37z" fill="#89827f"/><path d="M605.45 0h1.24v18.09h-1.24z" fill="#5f5652"/><path d="M606.08 0h1.24v18.09h-1.24z" fill="#5e5651"/><path d="M606.72 0h1.24v18.09h-1.24z" fill="#6c6460"/><path d="M607.36 0h1.24v18.09h-1.24z" fill="#69615c"/><path d="M608.00 0h1.28v18.09h-1.28z" fill="#8c8683"/><path d="M608.68 0h1.28v18.09h-1.28z" fill="#625a55"/><path d="M609.36 0h1.28v18.09h-1.28z" fill="#79726e"/><path d="M610.04 0h1.28v18.09h-1.28z" fill="#615854"/><path d="M610.73 0h1.28v18.09h-1.28z" fill="#473d38"/><path d="M611.41 0h1.28v18.09h-1.28z" fill="#716965"/><path d="M612.09 0h1.37v18.09h-1.37z" fill="#a39e9b"/><path d="M612.85 0h1.37v18.09h-1.37z" fill="#756d69"/><path d="M613.62 0h1.37v18.09h-1.37z" fill="#dedcdb"/><path d="M614.39 0h1.37v18.09h-1.37z" fill="#e5e3e2"/><path d="M615.15 0h1.28v18.09h-1.28z" fill="#999491"/><path d="M615.83 0h1.28v18.09h-1.28z" fill="#ccc9c8"/><path d="M616.52 0h1.28v18.09h-1.28z" fill="#ada8a6"/><path d="M617.20 0h1.37v18.09h-1.37z" fill="#bab6b4"/><path d="M617.96 0h1.37v18.09h-1.37z" fill="#dddbda"/><path d="M618.73 0h1.37v18.09h-1.37z" fill="#aca7a5"/><path d="M619.50 0h1.37v18.09h-1.37z" fill="#98928f"/><path d="M620.26 0h1.37v18.09h-1.37z" fill="#322620"/><path d="M621.03 0h1.37v18.09h-1.37z" fill="#635a55"/><path d="M621.80 0h1.37v18.09h-1.37z" fill="#4e453f"/><path d="M622.56 0h1.37v18.09h-1.37z" fill="#6b625e"/><path d="M623.33 0h1.24v18.09h-1.24z" fill="#7d7672"/><path d="M623.97 0h1.24v18.09h-1.24z" fill="#6a625e"/><path d="M624.61 0h1.24v18.09h-1.24z" fill="#6a625d"/><path d="M625.24 0h1.24v18.09h-1.24z" fill="#999390"/><path d="M625.88 0h1.37v18.09h-1.37z" fill="#c3bfbd"/><path d="M626.65 0h1.37v18.09h-1.37z" fill="#afaba8"/><path d="M627.42 0h1.28v18.09h-1.28z" fill="#cac7c6"/><path d="M628.10 0h1.28v18.09h-1.28z" fill="#bdbab8"/><path d="M628.78 0h1.28v18.09h-1.28z" fill="#cac7c5"/><path d="M629.46 0h1.37v18.09h-1.37z" fill="#c7c3c2"/><path d="M630.23 0h1.37v18.09h-1.37z" fill="#aeaaa7"/><path d="M630.99 0h1.33v18.09h-1.33z" fill="#6f6763"/><path d="M631.72 0h1.33v18.09h-1.33z" fill="#5c534e"/><path d="M632.45 0h1.33v18.09h-1.33z" fill="#78716d"/><path d="M633.18 0h1.33v18.09h-1.33z" fill="#635a56"/><path d="M633.91 0h1.33v18.09h-1.33z" fill="#756d69"/><path d="M634.64 0h1.33v18.09h-1.33z" fill="#847d79"/><path d="M635.37 0h1.33v18.09h-1.33z" fill="#8b8481"/><path d="M636.10 0h1.24v18.09h-1.24z" fill="#948e8b"/><path d="M636.74 0h1.24v18.09h-1.24z" fill="#8a8480"/><path d="M637.38 0h1.24v18.09h-1.24z" fill="#96908d"/><path d="M638.02 0h1.24v18.09h-1.24z" fill="#b6b2af"/><path d="M638.66 0h1.37v18.09h-1.37z" fill="#cac7c5"/><path d="M639.42 0h1.37v18.09h-1.37z" fill="#a5a19e"/><path d="M640.19 0h1.32v18.09h-1.32z" fill="#8b8581"/><path d="M640.91 0h1.32v18.09h-1.32z" fill="#716964"/><path d="M641.62 0h1.32v18.09h-1.32z" fill="#b2aeac"/><path d="M642.34 0h1.32v18.09h-1.32z" fill="#625954"/><path d="M643.05 0h1.32v18.09h-1.32z" fill="#69615d"/><path d="M643.77 0h1.32v18.09h-1.32z" fill="#655d58"/><path d="M644.48 0h1.32v18.09h-1.32z" fill="#736b67"/><path d="M645.20 0h1.32v18.09h-1.32z" fill="#605752"/><path d="M645.91 0h1.32v18.09h-1.32z" fill="#4d443e"/><path d="M646.63 0h1.32v18.09h-1.32z" fill="#443a34"/><path d="M647.34 0h1.37v18.09h-1.37z" fill="#e3e2e1"/><path d="M648.11 0h1.37v18.09h-1.37z" fill="#dcdad9"/><path d="M648.88 0h1.28v18.09h-1.28z" fill="#7c7571"/><path d="M649.56 0h1.28v18.09h-1.28z" fill="#b3afac"/><path d="M650.24 0h1.28v18.09h-1.28z" fill="#98928f"/><path d="M650.92 0h1.37v18.09h-1.37z" fill="#c9c7c5"/><path d="M651.69 0h1.37v18.09h-1.37z" fill="#a9a4a2"/><path d="M652.45 0h1.24v18.09h-1.24z" fill="#847e7a"/><path d="M653.09 0h1.24v18.09h-1.24z" fill="#7a736f"/><path d="M653.73 0h1.24v18.09h-1.24z" fill="#7a736f"/><path d="M654.37 0h1.24v18.09h-1.24z" fill="#8d8784"/><path d="M655.01 0h1.28v18.09h-1.28z" fill="#999390"/><path d="M655.69 0h1.28v18.09h-1.28z" fill="#928d89"/><path d="M656.37 0h1.28v18.09h-1.28z" fill="#8f8986"/><path d="M657.05 0h1.28v18.09h-1.28z" fill="#6f6763"/><path d="M657.73 0h1.28v18.09h-1.28z" fill="#7d7672"/><path d="M658.41 0h1.28v18.09h-1.28z" fill="#948e8b"/><path d="M659.09 0h1.28v18.09h-1.28z" fill="#645b57"/><path d="M659.78 0h1.28v18.09h-1.28z" fill="#5c534e"/><path d="M660.46 0h1.28v18.09h-1.28z" fill="#736b67"/><path d="M661.14 0h1.37v18.09h-1.37z" fill="#a5a19e"/><path d="M661.91 0h1.37v18.09h-1.37z" fill="#aba6a3"/><path d="M662.67 0h1.28v18.09h-1.28z" fill="#87807d"/><path d="M663.35 0h1.28v18.09h-1.28z" fill="#6e6661"/><path d="M664.03 0h1.28v18.09h-1.28z" fill="#928c89"/><path d="M664.72 0h1.37v18.09h-1.37z" fill="#dcdad9"/><path d="M665.48 0h1.37v18.09h-1.37z" fill="#e2e0df"/><path d="M666.25 0h1.37v18.09h-1.37z" fill="#958f8c"/><path d="M667.01 0h1.37v18.09h-1.37z" fill="#524944"/><path d="M667.78 0h1.37v18.09h-1.37z" fill="#7d7572"/><path d="M668.55 0h1.37v18.09h-1.37z" fill="#645b57"/><path d="M669.31 0h1.24v18.09h-1.24z" fill="#625955"/><path d="M669.95 0h1.24v18.09h-1.24z" fill="#69615d"/><path d="M670.59 0h1.24v18.09h-1.24z" fill="#857e7a"/><path d="M671.23 0h1.24v18.09h-1.24z" fill="#6b625e"/><path d="M671.87 0h1.37v18.09h-1.37z" fill="#7f7874"/><path d="M672.64 0h1.37v18.09h-1.37z" fill="#534944"/><path d="M673.40 0h1.37v18.09h-1.37z" fill="#5c534f"/><path d="M674.17 0h1.37v18.09h-1.37z" fill="#5f5752"/><path d="M674.93 0h1.29v18.09h-1.29z" fill="#261a13"/><path d="M675.62 0h1.29v18.09h-1.29z" fill="#231710"/><path d="M676.31 0h0.69v18.09h-0.69z" fill="#21150e"/></g>
<g transform="translate(0,65.08)"><path d="M538.80 0h0.62v18.09h-0.62z" fill="#ffffff"/><path d="M538.82 0h1.21v18.09h-1.21z" fill="#c4c1bf"/><path d="M539.43 0h1.21v18.09h-1.21z" fill="#fafafa"/><path d="M540.04 0h1.37v18.09h-1.37z" fill="#d1cfcd"/><path d="M540.81 0h1.37v18.09h-1.37z" fill="#cbc8c6"/><path d="M541.58 0h1.37v18.09h-1.37z" fill="#f2f1f0"/><path d="M542.34 0h1.37v18.09h-1.37z" fill="#e0dedd"/><path d="M543.11 0h1.37v18.09h-1.37z" fill="#aba6a4"/><path d="M543.88 0h1.37v18.09h-1.37z" fill="#c4c0bf"/><path d="M544.64 0h1.24v18.09h-1.24z" fill="#c1bebc"/><path d="M545.28 0h1.24v18.09h-1.24z" fill="#c2bebc"/><path d="M545.92 0h1.24v18.09h-1.24z" fill="#f1f1f0"/><path d="M546.56 0h1.24v18.09h-1.24z" fill="#f1f0f0"/><path d="M547.20 0h1.37v18.09h-1.37z" fill="#bebbb9"/><path d="M547.96 0h1.37v18.09h-1.37z" fill="#c3c0be"/><path d="M548.73 0h1.28v18.09h-1.28z" fill="#dfdedd"/><path d="M549.41 0h1.28v18.09h-1.28z" fill="#f9f8f8"/><path d="M550.09 0h1.28v18.09h-1.28z" fill="#d3d0cf"/><path d="M550.77 0h1.37v18.09h-1.37z" fill="#fafafa"/><path d="M551.54 0h1.37v18.09h-1.37z" fill="#fbfbfb"/><path d="M552.31 0h1.24v18.09h-1.24z" fill="#d5d3d2"/><path d="M552.95 0h1.24v18.09h-1.24z" fill="#b3afad"/><path d="M553.58 0h1.24v18.09h-1.24z" fill="#bdb9b7"/><path d="M554.22 0h1.24v18.09h-1.24z" fill="#aeaaa7"/><path d="M554.86 0h1.28v18.09h-1.28z" fill="#f8f8f7"/><path d="M555.54 0h1.28v18.09h-1.28z" fill="#f8f8f7"/><path d="M556.22 0h1.28v18.09h-1.28z" fill="#fafafa"/><path d="M556.91 0h1.37v18.09h-1.37z" fill="#a39e9b"/><path d="M557.67 0h1.37v18.09h-1.37z" fill="#837c78"/><path d="M558.44 0h1.37v18.09h-1.37z" fill="#857e7a"/><path d="M559.20 0h1.37v18.09h-1.37z" fill="#89827f"/><path d="M559.97 0h1.37v18.09h-1.37z" fill="#98928f"/><path d="M560.74 0h1.37v18.09h-1.37z" fill="#9f9a97"/><path d="M561.50 0h1.37v18.09h-1.37z" fill="#5c534e"/><path d="M562.27 0h1.37v18.09h-1.37z" fill="#7c7571"/><path d="M563.04 0h1.28v18.09h-1.28z" fill="#d2cfce"/><path d="M563.72 0h1.28v18.09h-1.28z" fill="#f4f4f3"/><path d="M564.40 0h1.28v18.09h-1.28z" fill="#d3d0cf"/><path d="M565.08 0h1.24v18.09h-1.24z" fill="#8a8380"/><path d="M565.72 0h1.24v18.09h-1.24z" fill="#918b88"/><path d="M566.36 0h1.24v18.09h-1.24z" fill="#9e9996"/><path d="M567.00 0h1.24v18.09h-1.24z" fill="#8c8582"/><path d="M567.64 0h1.37v18.09h-1.37z" fill="#d6d3d2"/><path d="M568.40 0h1.37v18.09h-1.37z" fill="#d4d2d1"/><path d="M569.17 0h1.24v18.09h-1.24z" fill="#938d89"/><path d="M569.81 0h1.24v18.09h-1.24z" fill="#96918e"/><path d="M570.45 0h1.24v18.09h-1.24z" fill="#a39d9b"/><path d="M571.08 0h1.24v18.09h-1.24z" fill="#827b78"/><path d="M571.72 0h1.28v18.09h-1.28z" fill="#e6e5e4"/><path d="M572.40 0h1.28v18.09h-1.28z" fill="#e5e4e3"/><path d="M573.09 0h1.28v18.09h-1.28z" fill="#bdb9b7"/><path d="M573.77 0h1.32v18.09h-1.32z" fill="#b1adab"/><path d="M574.48 0h1.32v18.09h-1.32z" fill="#9a9491"/><path d="M575.20 0h1.32v18.09h-1.32z" fill="#9b9693"/><path d="M575.91 0h1.32v18.09h-1.32z" fill="#a19b99"/><path d="M576.63 0h1.32v18.09h-1.32z" fill="#aba7a4"/><path d="M577.34 0h1.37v18.09h-1.37z" fill="#938d8a"/><path d="M578.11 0h1.37v18.09h-1.37z" fill="#96908d"/><path d="M578.88 0h1.24v18.09h-1.24z" fill="#e4e3e2"/><path d="M579.51 0h1.24v18.09h-1.24z" fill="#ffffff"/><path d="M580.15 0h1.24v18.09h-1.24z" fill="#fafafa"/><path d="M580.79 0h1.24v18.09h-1.24z" fill="#eae9e8"/><path d="M581.43 0h1.28v18.09h-1.28z" fill="#ccc9c8"/><path d="M582.11 0h1.28v18.09h-1.28z" fill="#dcdbd9"/><path d="M582.79 0h1.28v18.09h-1.28z" fill="#d5d3d1"/><path d="M583.47 0h1.47v18.09h-1.47z" fill="#fafafa"/><path d="M584.34 0h1.47v18.09h-1.47z" fill="#eeeded"/><path d="M585.21 0h1.38v18.09h-1.38z" fill="#a8a3a0"/><path d="M585.99 0h1.38v18.09h-1.38z" fill="#bebab8"/><path d="M586.76 0h1.38v18.09h-1.38z" fill="#9a9592"/><path d="M587.54 0h1.38v18.09h-1.38z" fill="#716965"/><path d="M588.32 0h1.38v18.09h-1.38z" fill="#b4afad"/><path d="M589.09 0h1.37v18.09h-1.37z" fill="#69615d"/><path d="M589.86 0h1.37v18.09h-1.37z" fill="#59504b"/><path d="M590.63 0h1.37v18.09h-1.37z" fill="#625954"/><path d="M591.39 0h1.37v18.09h-1.37z" fill="#9a9491"/><path d="M592.16 0h1.24v18.09h-1.24z" fill="#948e8b"/><path d="M592.80 0h1.24v18.09h-1.24z" fill="#928c89"/><path d="M593.44 0h1.24v18.09h-1.24z" fill="#776f6b"/><path d="M594.08 0h1.24v18.09h-1.24z" fill="#9b9693"/><path d="M594.72 0h1.28v18.09h-1.28z" fill="#8f8986"/><path d="M595.40 0h1.28v18.09h-1.28z" fill="#857e7b"/><path d="M596.08 0h1.28v18.09h-1.28z" fill="#928c89"/><path d="M596.76 0h1.28v18.09h-1.28z" fill="#79726e"/><path d="M597.44 0h1.28v18.09h-1.28z" fill="#766e6a"/><path d="M598.12 0h1.28v18.09h-1.28z" fill="#7d7672"/><path d="M598.80 0h1.28v18.09h-1.28z" fill="#a6a19e"/><path d="M599.48 0h1.28v18.09h-1.28z" fill="#f1f0f0"/><path d="M600.17 0h1.28v18.09h-1.28z" fill="#c6c3c1"/><path d="M600.85 0h1.24v18.09h-1.24z" fill="#ada8a6"/><path d="M601.49 0h1.24v18.09h-1.24z" fill="#908a86"/><path d="M602.12 0h1.24v18.09h-1.24z" fill="#a39e9b"/><path d="M602.76 0h1.24v18.09h-1.24z" fill="#9c9794"/><path d="M603.40 0h1.28v18.09h-1.28z" fill="#68605b"/><path d="M604.08 0h1.28v18.09h-1.28z" fill="#8f8986"/><path d="M604.76 0h1.28v18.09h-1.28z" fill="#948e8b"/><path d="M605.45 0h1.24v18.09h-1.24z" fill="#938d8a"/><path d="M606.08 0h1.24v18.09h-1.24z" fill="#807975"/><path d="M606.72 0h1.24v18.09h-1.24z" fill="#9d9794"/><path d="M607.36 0h1.24v18.09h-1.24z" fill="#999390"/><path d="M608.00 0h1.37v18.09h-1.37z" fill="#77706b"/><path d="M608.77 0h1.37v18.09h-1.37z" fill="#746d69"/><path d="M609.53 0h1.37v18.09h-1.37z" fill="#d4d1d0"/><path d="M610.30 0h1.37v18.09h-1.37z" fill="#c0bdbb"/><path d="M611.07 0h1.37v18.09h-1.37z" fill="#8c8682"/><path d="M611.83 0h1.37v18.09h-1.37z" fill="#948e8b"/><path d="M612.60 0h1.37v18.09h-1.37z" fill="#a29d9a"/><path d="M613.36 0h1.37v18.09h-1.37z" fill="#cac7c5"/><path d="M614.13 0h1.37v18.09h-1.37z" fill="#928c89"/><path d="M614.90 0h1.37v18.09h-1.37z" fill="#a29d9b"/><path d="M615.66 0h1.28v18.09h-1.28z" fill="#857e7a"/><path d="M616.35 0h1.28v18.09h-1.28z" fill="#827c78"/><path d="M617.03 0h1.28v18.09h-1.28z" fill="#918b88"/><path d="M617.71 0h1.28v18.09h-1.28z" fill="#928c89"/><path d="M618.39 0h1.28v18.09h-1.28z" fill="#a6a19e"/><path d="M619.07 0h1.28v18.09h-1.28z" fill="#9d9895"/><path d="M619.75 0h1.37v18.09h-1.37z" fill="#5e5550"/><path d="M620.52 0h1.37v18.09h-1.37z" fill="#645b57"/><path d="M621.28 0h1.37v18.09h-1.37z" fill="#584f4a"/><path d="M622.05 0h1.37v18.09h-1.37z" fill="#625954"/><path d="M622.82 0h1.28v18.09h-1.28z" fill="#d1cecd"/><path d="M623.50 0h1.28v18.09h-1.28z" fill="#e6e4e4"/><path d="M624.18 0h1.28v18.09h-1.28z" fill="#cfcdcb"/><path d="M624.86 0h1.28v18.09h-1.28z" fill="#b9b6b3"/><path d="M625.54 0h1.28v18.09h-1.28z" fill="#e7e6e5"/><path d="M626.22 0h1.28v18.09h-1.28z" fill="#c0bcba"/><path d="M626.91 0h1.28v18.09h-1.28z" fill="#bebab8"/><path d="M627.59 0h1.28v18.09h-1.28z" fill="#c9c6c4"/><path d="M628.27 0h1.28v18.09h-1.28z" fill="#9f9a97"/><path d="M628.95 0h1.28v18.09h-1.28z" fill="#9f9a97"/><path d="M629.63 0h1.28v18.09h-1.28z" fill="#a09b98"/><path d="M630.31 0h1.28v18.09h-1.28z" fill="#9a9491"/><path d="M630.99 0h1.24v18.09h-1.24z" fill="#928c88"/><path d="M631.63 0h1.24v18.09h-1.24z" fill="#8e8884"/><path d="M632.27 0h1.24v18.09h-1.24z" fill="#96908d"/><path d="M632.91 0h1.24v18.09h-1.24z" fill="#716a65"/><path d="M633.55 0h1.24v18.09h-1.24z" fill="#e4e3e2"/><path d="M634.19 0h1.24v18.09h-1.24z" fill="#d1cecd"/><path d="M634.82 0h1.24v18.09h-1.24z" fill="#f4f4f4"/><path d="M635.46 0h1.24v18.09h-1.24z" fill="#dedddc"/><path d="M636.10 0h1.37v18.09h-1.37z" fill="#999491"/><path d="M636.87 0h1.37v18.09h-1.37z" fill="#b5b1af"/><path d="M637.64 0h1.28v18.09h-1.28z" fill="#d2d0ce"/><path d="M638.32 0h1.28v18.09h-1.28z" fill="#faf9f9"/><path d="M639.00 0h1.28v18.09h-1.28z" fill="#dfdedd"/><path d="M639.68 0h1.37v18.09h-1.37z" fill="#746c68"/><path d="M640.45 0h1.37v18.09h-1.37z" fill="#98928f"/><path d="M641.21 0h1.37v18.09h-1.37z" fill="#b4b0ae"/><path d="M641.98 0h1.37v18.09h-1.37z" fill="#a6a19f"/><path d="M642.74 0h1.37v18.09h-1.37z" fill="#c5c2c0"/><path d="M643.51 0h1.37v18.09h-1.37z" fill="#dedddc"/><path d="M644.28 0h1.37v18.09h-1.37z" fill="#b5b1af"/><path d="M645.04 0h1.37v18.09h-1.37z" fill="#c7c4c2"/><path d="M645.81 0h1.37v18.09h-1.37z" fill="#bcb8b6"/><path d="M646.58 0h1.37v18.09h-1.37z" fill="#b1adaa"/><path d="M647.34 0h1.37v18.09h-1.37z" fill="#6e6762"/><path d="M648.11 0h1.37v18.09h-1.37z" fill="#847d79"/><path d="M648.88 0h1.24v18.09h-1.24z" fill="#97918e"/><path d="M649.51 0h1.24v18.09h-1.24z" fill="#918b88"/><path d="M650.15 0h1.24v18.09h-1.24z" fill="#999491"/><path d="M650.79 0h1.24v18.09h-1.24z" fill="#79726e"/><path d="M651.43 0h1.28v18.09h-1.28z" fill="#807975"/><path d="M652.11 0h1.28v18.09h-1.28z" fill="#756d69"/><path d="M652.79 0h1.28v18.09h-1.28z" fill="#7c7571"/><path d="M653.47 0h1.24v18.09h-1.24z" fill="#9e9896"/><path d="M654.11 0h1.24v18.09h-1.24z" fill="#9a9491"/><path d="M654.75 0h1.24v18.09h-1.24z" fill="#a5a09d"/><path d="M655.39 0h1.24v18.09h-1.24z" fill="#afaba9"/><path d="M656.03 0h1.28v18.09h-1.28z" fill="#bcb8b6"/><path d="M656.71 0h1.28v18.09h-1.28z" fill="#c8c5c4"/><path d="M657.39 0h1.28v18.09h-1.28z" fill="#b3afac"/><path d="M658.07 0h1.28v18.09h-1.28z" fill="#eeeded"/><path d="M658.75 0h1.28v18.09h-1.28z" fill="#e6e5e4"/><path d="M659.44 0h1.28v18.09h-1.28z" fill="#cdcac8"/><path d="M660.12 0h1.24v18.09h-1.24z" fill="#c1bdbb"/><path d="M660.76 0h1.24v18.09h-1.24z" fill="#98928f"/><path d="M661.39 0h1.24v18.09h-1.24z" fill="#aba6a4"/><path d="M662.03 0h1.24v18.09h-1.24z" fill="#8f8986"/><path d="M662.67 0h1.37v18.09h-1.37z" fill="#524944"/><path d="M663.44 0h1.37v18.09h-1.37z" fill="#827b77"/><path d="M664.20 0h1.37v18.09h-1.37z" fill="#97928f"/><path d="M664.97 0h1.37v18.09h-1.37z" fill="#8a8480"/><path d="M665.74 0h1.32v18.09h-1.32z" fill="#716964"/><path d="M666.45 0h1.32v18.09h-1.32z" fill="#564d48"/><path d="M667.17 0h1.32v18.09h-1.32z" fill="#716965"/><path d="M667.88 0h1.32v18.09h-1.32z" fill="#999490"/><path d="M668.60 0h1.32v18.09h-1.32z" fill="#6d6561"/><path d="M669.31 0h1.24v18.09h-1.24z" fill="#857f7b"/><path d="M669.95 0h1.24v18.09h-1.24z" fill="#89837f"/><path d="M670.59 0h1.24v18.09h-1.24z" fill="#837c79"/><path d="M671.23 0h1.24v18.09h-1.24z" fill="#7c7571"/><path d="M671.87 0h1.24v18.09h-1.24z" fill="#89837f"/><path d="M672.51 0h1.24v18.09h-1.24z" fill="#6a625d"/><path d="M673.15 0h1.24v18.09h-1.24z" fill="#726b67"/><path d="M673.78 0h1.24v18.09h-1.24z" fill="#6e6661"/><path d="M674.42 0h1.24v18.09h-1.24z" fill="#493f39"/><path d="M675.07 0h1.24v18.09h-1.24z" fill="#68605c"/><path d="M675.71 0h1.24v18.09h-1.24z" fill="#635b56"/><path d="M676.36 0h0.64v18.09h-0.64z" fill="#6f6763"/></g>
<g transform="translate(0,83.57)"><path d="M538.80 0h0.62v18.09h-0.62z" fill="#ffffff"/><path d="M538.82 0h1.21v18.09h-1.21z" fill="#5d544f"/><path d="M539.43 0h1.21v18.09h-1.21z" fill="#180c05"/><path d="M540.04 0h1.28v18.09h-1.28z" fill="#493f3a"/><path d="M540.73 0h1.28v18.09h-1.28z" fill="#4b413c"/><path d="M541.41 0h1.28v18.09h-1.28z" fill="#433933"/><path d="M542.09 0h1.28v18.09h-1.28z" fill="#86807c"/><path d="M542.77 0h1.28v18.09h-1.28z" fill="#7d7672"/><path d="M543.45 0h1.28v18.09h-1.28z" fill="#817a76"/><path d="M544.13 0h1.30v18.09h-1.30z" fill="#3d332d"/><path d="M544.83 0h1.30v18.09h-1.30z" fill="#4b413b"/><path d="M545.54 0h1.30v18.09h-1.30z" fill="#5c534e"/><path d="M546.24 0h1.30v18.09h-1.30z" fill="#554b46"/><path d="M546.94 0h1.30v18.09h-1.30z" fill="#514843"/><path d="M547.64 0h1.30v18.09h-1.30z" fill="#5b524d"/><path d="M548.35 0h1.30v18.09h-1.30z" fill="#584f4a"/><path d="M549.05 0h1.30v18.09h-1.30z" fill="#483e39"/><path d="M549.75 0h1.28v18.09h-1.28z" fill="#f2f2f1"/><path d="M550.43 0h1.28v18.09h-1.28z" fill="#c4c1bf"/><path d="M551.11 0h1.28v18.09h-1.28z" fill="#dedcdc"/><path d="M551.80 0h1.37v18.09h-1.37z" fill="#817a76"/><path d="M552.56 0h1.37v18.09h-1.37z" fill="#88817e"/><path d="M553.33 0h1.37v18.09h-1.37z" fill="#999491"/><path d="M554.09 0h1.37v18.09h-1.37z" fill="#918b87"/><path d="M554.86 0h1.28v18.09h-1.28z" fill="#908a87"/><path d="M555.54 0h1.28v18.09h-1.28z" fill="#8d8683"/><path d="M556.22 0h1.28v18.09h-1.28z" fill="#59504b"/><path d="M556.91 0h1.62v18.09h-1.62z" fill="#8e8885"/><path d="M557.93 0h1.37v18.09h-1.37z" fill="#fbfbfb"/><path d="M558.69 0h1.37v18.09h-1.37z" fill="#fcfcfc"/><path d="M559.46 0h1.37v18.09h-1.37z" fill="#fcfcfc"/><path d="M560.23 0h1.37v18.09h-1.37z" fill="#fefefe"/><path d="M560.99 0h1.28v18.09h-1.28z" fill="#7e7773"/><path d="M561.67 0h1.28v18.09h-1.28z" fill="#c5c2c0"/><path d="M562.36 0h1.28v18.09h-1.28z" fill="#a39e9b"/><path d="M563.04 0h1.28v18.09h-1.28z" fill="#aba6a4"/><path d="M563.72 0h1.28v18.09h-1.28z" fill="#96918d"/><path d="M564.40 0h1.28v18.09h-1.28z" fill="#68605b"/><path d="M565.08 0h1.37v18.09h-1.37z" fill="#706864"/><path d="M565.85 0h1.37v18.09h-1.37z" fill="#615853"/><path d="M566.61 0h1.28v18.09h-1.28z" fill="#6b635e"/><path d="M567.29 0h1.28v18.09h-1.28z" fill="#605752"/><path d="M567.98 0h1.28v18.09h-1.28z" fill="#6f6763"/><path d="M568.66 0h1.33v18.09h-1.33z" fill="#b6b2b0"/><path d="M569.39 0h1.33v18.09h-1.33z" fill="#c0bcbb"/><path d="M570.12 0h1.33v18.09h-1.33z" fill="#c7c4c3"/><path d="M570.85 0h1.33v18.09h-1.33z" fill="#b8b4b2"/><path d="M571.58 0h1.33v18.09h-1.33z" fill="#bebbb9"/><path d="M572.31 0h1.33v18.09h-1.33z" fill="#d3d1d0"/><path d="M573.04 0h1.33v18.09h-1.33z" fill="#edecec"/><path d="M573.77 0h1.24v18.09h-1.24z" fill="#e2e0df"/><path d="M574.41 0h1.24v18.09h-1.24z" fill="#f6f6f6"/><path d="M575.04 0h1.24v18.09h-1.24z" fill="#d0cdcb"/><path d="M575.68 0h1.24v18.09h-1.24z" fill="#dddbda"/><path d="M576.32 0h1.32v18.09h-1.32z" fill="#b0aca9"/><path d="M577.04 0h1.32v18.09h-1.32z" fill="#b5b1af"/><path d="M577.75 0h1.32v18.09h-1.32z" fill="#958f8c"/><path d="M578.47 0h1.32v18.09h-1.32z" fill="#b5b1af"/><path d="M579.18 0h1.32v18.09h-1.32z" fill="#aca8a5"/><path d="M579.90 0h1.28v18.09h-1.28z" fill="#8f8985"/><path d="M580.58 0h1.28v18.09h-1.28z" fill="#87817d"/><path d="M581.26 0h1.28v18.09h-1.28z" fill="#807975"/><path d="M581.94 0h1.37v18.09h-1.37z" fill="#aba7a4"/><path d="M582.71 0h1.37v18.09h-1.37z" fill="#b8b5b2"/><path d="M583.47 0h1.37v18.09h-1.37z" fill="#c0bdbb"/><path d="M584.24 0h1.37v18.09h-1.37z" fill="#c1bebc"/><path d="M585.01 0h1.28v18.09h-1.28z" fill="#473d37"/><path d="M585.69 0h1.28v18.09h-1.28z" fill="#524843"/><path d="M586.37 0h1.28v18.09h-1.28z" fill="#524944"/><path d="M587.05 0h1.28v18.09h-1.28z" fill="#69615d"/><path d="M587.73 0h1.28v18.09h-1.28z" fill="#6d6561"/><path d="M588.41 0h1.28v18.09h-1.28z" fill="#514742"/><path d="M589.09 0h1.37v18.09h-1.37z" fill="#b1adab"/><path d="M589.86 0h1.37v18.09h-1.37z" fill="#bbb7b5"/><path d="M590.63 0h1.37v18.09h-1.37z" fill="#87807d"/><path d="M591.39 0h1.37v18.09h-1.37z" fill="#736b67"/><path d="M592.16 0h1.37v18.09h-1.37z" fill="#c6c3c1"/><path d="M592.93 0h1.37v18.09h-1.37z" fill="#bbb7b5"/><path d="M593.69 0h1.37v18.09h-1.37z" fill="#908a87"/><path d="M594.46 0h1.37v18.09h-1.37z" fill="#5f5752"/><path d="M595.23 0h1.28v18.09h-1.28z" fill="#96908d"/><path d="M595.91 0h1.28v18.09h-1.28z" fill="#635b56"/><path d="M596.59 0h1.28v18.09h-1.28z" fill="#b3aeac"/><path d="M597.27 0h1.62v18.09h-1.62z" fill="#87807d"/><path d="M598.29 0h1.28v18.09h-1.28z" fill="#f4f3f3"/><path d="M598.97 0h1.28v18.09h-1.28z" fill="#f8f8f8"/><path d="M599.65 0h1.28v18.09h-1.28z" fill="#f6f5f5"/><path d="M600.34 0h1.37v18.09h-1.37z" fill="#95908c"/><path d="M601.10 0h1.37v18.09h-1.37z" fill="#b0aca9"/><path d="M601.87 0h1.28v18.09h-1.28z" fill="#766f6a"/><path d="M602.55 0h1.28v18.09h-1.28z" fill="#9c9794"/><path d="M603.23 0h1.28v18.09h-1.28z" fill="#7d7672"/><path d="M603.91 0h1.28v18.09h-1.28z" fill="#726a66"/><path d="M604.59 0h1.28v18.09h-1.28z" fill="#867f7c"/><path d="M605.27 0h1.28v18.09h-1.28z" fill="#8f8986"/><path d="M605.96 0h1.28v18.09h-1.28z" fill="#98928f"/><path d="M606.64 0h1.28v18.09h-1.28z" fill="#918b88"/><path d="M607.32 0h1.28v18.09h-1.28z" fill="#6a625d"/><path d="M608.00 0h1.37v18.09h-1.37z" fill="#7c7571"/><path d="M608.77 0h1.37v18.09h-1.37z" fill="#89827e"/><path d="M609.53 0h1.37v18.09h-1.37z" fill="#7c7470"/><path d="M610.30 0h1.37v18.09h-1.37z" fill="#9b9592"/><path d="M611.07 0h1.37v18.09h-1.37z" fill="#cbc8c6"/><path d="M611.83 0h1.37v18.09h-1.37z" fill="#d0cdcc"/><path d="M612.60 0h1.37v18.09h-1.37z" fill="#776f6b"/><path d="M613.36 0h1.37v18.09h-1.37z" fill="#7f7874"/><path d="M614.13 0h1.28v18.09h-1.28z" fill="#4e443f"/><path d="M614.81 0h1.28v18.09h-1.28z" fill="#958f8b"/><path d="M615.49 0h1.28v18.09h-1.28z" fill="#605752"/><path d="M616.18 0h1.37v18.09h-1.37z" fill="#918b88"/><path d="M616.94 0h1.37v18.09h-1.37z" fill="#7c7571"/><path d="M617.71 0h1.37v18.09h-1.37z" fill="#dad8d7"/><path d="M618.47 0h1.37v18.09h-1.37z" fill="#c0bdbb"/><path d="M619.24 0h1.28v18.09h-1.28z" fill="#97918e"/><path d="M619.92 0h1.28v18.09h-1.28z" fill="#a8a4a1"/><path d="M620.60 0h1.28v18.09h-1.28z" fill="#9d9794"/><path d="M621.28 0h1.37v18.09h-1.37z" fill="#b9b5b3"/><path d="M622.05 0h1.37v18.09h-1.37z" fill="#dbd9d8"/><path d="M622.82 0h1.28v18.09h-1.28z" fill="#7a736f"/><path d="M623.50 0h1.28v18.09h-1.28z" fill="#7d7672"/><path d="M624.18 0h1.28v18.09h-1.28z" fill="#7f7874"/><path d="M624.86 0h1.37v18.09h-1.37z" fill="#c8c5c3"/><path d="M625.63 0h1.37v18.09h-1.37z" fill="#d9d7d6"/><path d="M626.39 0h1.24v18.09h-1.24z" fill="#534944"/><path d="M627.03 0h1.24v18.09h-1.24z" fill="#483e39"/><path d="M627.67 0h1.24v18.09h-1.24z" fill="#837c78"/><path d="M628.31 0h1.24v18.09h-1.24z" fill="#5d544f"/><path d="M628.95 0h1.28v18.09h-1.28z" fill="#7c7470"/><path d="M629.63 0h1.28v18.09h-1.28z" fill="#89837f"/><path d="M630.31 0h1.28v18.09h-1.28z" fill="#79726e"/><path d="M630.99 0h1.28v18.09h-1.28z" fill="#6b635f"/><path d="M631.67 0h1.28v18.09h-1.28z" fill="#7f7874"/><path d="M632.36 0h1.28v18.09h-1.28z" fill="#706864"/><path d="M633.04 0h1.37v18.09h-1.37z" fill="#bebab8"/><path d="M633.80 0h1.37v18.09h-1.37z" fill="#aaa6a3"/><path d="M634.57 0h1.37v18.09h-1.37z" fill="#6f6863"/><path d="M635.34 0h1.37v18.09h-1.37z" fill="#847d79"/><path d="M636.10 0h1.37v18.09h-1.37z" fill="#564d48"/><path d="M636.87 0h1.37v18.09h-1.37z" fill="#574e49"/><path d="M637.64 0h1.37v18.09h-1.37z" fill="#706864"/><path d="M638.40 0h1.37v18.09h-1.37z" fill="#7b736f"/><path d="M639.17 0h1.24v18.09h-1.24z" fill="#b5b1ae"/><path d="M639.81 0h1.24v18.09h-1.24z" fill="#a5a09d"/><path d="M640.45 0h1.24v18.09h-1.24z" fill="#cbc8c7"/><path d="M641.08 0h1.24v18.09h-1.24z" fill="#bdbab8"/><path d="M641.72 0h1.37v18.09h-1.37z" fill="#f0efee"/><path d="M642.49 0h1.37v18.09h-1.37z" fill="#b8b4b2"/><path d="M643.26 0h1.37v18.09h-1.37z" fill="#69605c"/><path d="M644.02 0h1.37v18.09h-1.37z" fill="#574e49"/><path d="M644.79 0h1.28v18.09h-1.28z" fill="#7b7470"/><path d="M645.47 0h1.28v18.09h-1.28z" fill="#9c9794"/><path d="M646.15 0h1.28v18.09h-1.28z" fill="#9f9a97"/><path d="M646.83 0h1.37v18.09h-1.37z" fill="#c8c5c3"/><path d="M647.60 0h1.37v18.09h-1.37z" fill="#ccc9c8"/><path d="M648.36 0h1.24v18.09h-1.24z" fill="#bab7b5"/><path d="M649.00 0h1.24v18.09h-1.24z" fill="#aca8a5"/><path d="M649.64 0h1.24v18.09h-1.24z" fill="#9d9895"/><path d="M650.28 0h1.24v18.09h-1.24z" fill="#a9a5a2"/><path d="M650.92 0h1.28v18.09h-1.28z" fill="#c4c1bf"/><path d="M651.60 0h1.28v18.09h-1.28z" fill="#a9a4a2"/><path d="M652.28 0h1.28v18.09h-1.28z" fill="#b8b4b2"/><path d="M652.96 0h1.28v18.09h-1.28z" fill="#afaaa8"/><path d="M653.64 0h1.28v18.09h-1.28z" fill="#b5b1af"/><path d="M654.33 0h1.28v18.09h-1.28z" fill="#928c88"/><path d="M655.01 0h1.28v18.09h-1.28z" fill="#c1bebc"/><path d="M655.69 0h1.28v18.09h-1.28z" fill="#c6c2c1"/><path d="M656.37 0h1.28v18.09h-1.28z" fill="#b3afad"/><path d="M657.05 0h1.24v18.09h-1.24z" fill="#6e6662"/><path d="M657.69 0h1.24v18.09h-1.24z" fill="#625954"/><path d="M658.33 0h1.24v18.09h-1.24z" fill="#726b67"/><path d="M658.97 0h1.24v18.09h-1.24z" fill="#2e221c"/><path d="M659.61 0h1.37v18.09h-1.37z" fill="#6e6662"/><path d="M660.37 0h1.37v18.09h-1.37z" fill="#a29c9a"/><path d="M661.14 0h1.24v18.09h-1.24z" fill="#c0bcba"/><path d="M661.78 0h1.24v18.09h-1.24z" fill="#b8b4b1"/><path d="M662.42 0h1.24v18.09h-1.24z" fill="#e0dedd"/><path d="M663.05 0h1.24v18.09h-1.24z" fill="#fafafa"/><path d="M663.69 0h1.37v18.09h-1.37z" fill="#c4c1c0"/><path d="M664.46 0h1.37v18.09h-1.37z" fill="#a5a09d"/><path d="M665.23 0h1.37v18.09h-1.37z" fill="#392e28"/><path d="M665.99 0h1.37v18.09h-1.37z" fill="#362b25"/><path d="M666.76 0h1.37v18.09h-1.37z" fill="#332822"/><path d="M667.53 0h1.37v18.09h-1.37z" fill="#362b25"/><path d="M668.29 0h1.28v18.09h-1.28z" fill="#574e49"/><path d="M668.97 0h1.28v18.09h-1.28z" fill="#5e5550"/><path d="M669.65 0h1.28v18.09h-1.28z" fill="#625954"/><path d="M670.34 0h1.33v18.09h-1.33z" fill="#170a03"/><path d="M671.07 0h1.33v18.09h-1.33z" fill="#140700"/><path d="M671.80 0h1.33v18.09h-1.33z" fill="#0e0100"/><path d="M672.53 0h1.33v18.09h-1.33z" fill="#160902"/><path d="M673.26 0h1.33v18.09h-1.33z" fill="#100200"/><path d="M673.99 0h1.33v18.09h-1.33z" fill="#1b0e07"/><path d="M674.72 0h1.33v18.09h-1.33z" fill="#110300"/><path d="M675.45 0h1.38v18.09h-1.38z" fill="#504741"/><path d="M676.22 0h0.78v18.09h-0.78z" fill="#504741"/></g>
<g transform="translate(0,102.06)"><path d="M538.80 0h0.62v18.09h-0.62z" fill="#ffffff"/><path d="M538.82 0h1.47v18.09h-1.47z" fill="#4d433d"/><path d="M539.69 0h1.47v18.09h-1.47z" fill="#534a45"/><path d="M540.55 0h1.28v18.09h-1.28z" fill="#675f5a"/><path d="M541.24 0h1.28v18.09h-1.28z" fill="#524944"/><path d="M541.92 0h1.28v18.09h-1.28z" fill="#726a66"/><path d="M542.60 0h1.37v18.09h-1.37z" fill="#837c79"/><path d="M543.36 0h1.37v18.09h-1.37z" fill="#736b67"/><path d="M544.13 0h1.37v18.09h-1.37z" fill="#e3e1e1"/><path d="M544.90 0h1.37v18.09h-1.37z" fill="#dcdad9"/><path d="M545.66 0h1.32v18.09h-1.32z" fill="#6c635f"/><path d="M546.38 0h1.32v18.09h-1.32z" fill="#79726e"/><path d="M547.09 0h1.32v18.09h-1.32z" fill="#928c89"/><path d="M547.81 0h1.32v18.09h-1.32z" fill="#908a87"/><path d="M548.53 0h1.32v18.09h-1.32z" fill="#69615c"/><path d="M549.24 0h1.37v18.09h-1.37z" fill="#c9c6c4"/><path d="M550.01 0h1.37v18.09h-1.37z" fill="#807975"/><path d="M550.77 0h1.24v18.09h-1.24z" fill="#dddbda"/><path d="M551.41 0h1.24v18.09h-1.24z" fill="#e3e1e1"/><path d="M552.05 0h1.24v18.09h-1.24z" fill="#d9d7d6"/><path d="M552.69 0h1.24v18.09h-1.24z" fill="#dedcdb"/><path d="M553.33 0h1.62v18.09h-1.62z" fill="#f5f5f4"/><path d="M554.35 0h1.28v18.09h-1.28z" fill="#5f5652"/><path d="M555.03 0h1.28v18.09h-1.28z" fill="#6c635f"/><path d="M555.71 0h1.28v18.09h-1.28z" fill="#4f4641"/><path d="M556.39 0h1.28v18.09h-1.28z" fill="#645c57"/><path d="M557.08 0h1.28v18.09h-1.28z" fill="#5e5651"/><path d="M557.76 0h1.28v18.09h-1.28z" fill="#352a24"/><path d="M558.44 0h1.37v18.09h-1.37z" fill="#c5c2c0"/><path d="M559.20 0h1.37v18.09h-1.37z" fill="#dddbda"/><path d="M559.97 0h1.28v18.09h-1.28z" fill="#726a66"/><path d="M560.65 0h1.28v18.09h-1.28z" fill="#918b88"/><path d="M561.33 0h1.28v18.09h-1.28z" fill="#97928f"/><path d="M562.01 0h1.33v18.09h-1.33z" fill="#86807c"/><path d="M562.74 0h1.33v18.09h-1.33z" fill="#9b9592"/><path d="M563.47 0h1.33v18.09h-1.33z" fill="#b1adaa"/><path d="M564.20 0h1.33v18.09h-1.33z" fill="#aea9a7"/><path d="M564.93 0h1.33v18.09h-1.33z" fill="#8c8682"/><path d="M565.66 0h1.33v18.09h-1.33z" fill="#b4afad"/><path d="M566.39 0h1.33v18.09h-1.33z" fill="#a6a19f"/><path d="M567.12 0h1.37v18.09h-1.37z" fill="#e8e7e6"/><path d="M567.89 0h1.37v18.09h-1.37z" fill="#ffffff"/><path d="M568.66 0h1.24v18.09h-1.24z" fill="#7a726e"/><path d="M569.30 0h1.24v18.09h-1.24z" fill="#726b67"/><path d="M569.93 0h1.24v18.09h-1.24z" fill="#7e7773"/><path d="M570.57 0h1.24v18.09h-1.24z" fill="#78716d"/><path d="M571.21 0h1.32v18.09h-1.32z" fill="#6d6561"/><path d="M571.93 0h1.32v18.09h-1.32z" fill="#524943"/><path d="M572.64 0h1.32v18.09h-1.32z" fill="#312620"/><path d="M573.36 0h1.32v18.09h-1.32z" fill="#736b67"/><path d="M574.07 0h1.32v18.09h-1.32z" fill="#645c57"/><path d="M574.79 0h1.28v18.09h-1.28z" fill="#e6e5e4"/><path d="M575.47 0h1.28v18.09h-1.28z" fill="#dcdbda"/><path d="M576.15 0h1.28v18.09h-1.28z" fill="#dad8d7"/><path d="M576.83 0h1.28v18.09h-1.28z" fill="#cecbca"/><path d="M577.51 0h1.28v18.09h-1.28z" fill="#b9b6b4"/><path d="M578.19 0h1.28v18.09h-1.28z" fill="#dbd9d8"/><path d="M578.88 0h1.28v18.09h-1.28z" fill="#cecbca"/><path d="M579.56 0h1.28v18.09h-1.28z" fill="#b9b5b3"/><path d="M580.24 0h1.28v18.09h-1.28z" fill="#d1cfce"/><path d="M580.92 0h1.28v18.09h-1.28z" fill="#ebeaea"/><path d="M581.60 0h1.28v18.09h-1.28z" fill="#f1f1f0"/><path d="M582.28 0h1.28v18.09h-1.28z" fill="#fdfcfc"/><path d="M582.96 0h1.28v18.09h-1.28z" fill="#ffffff"/><path d="M583.64 0h1.28v18.09h-1.28z" fill="#bcb9b7"/><path d="M584.33 0h1.28v18.09h-1.28z" fill="#d9d7d6"/><path d="M585.01 0h1.28v18.09h-1.28z" fill="#c6c3c1"/><path d="M585.69 0h1.28v18.09h-1.28z" fill="#c0bdbb"/><path d="M586.37 0h1.28v18.09h-1.28z" fill="#d5d3d2"/><path d="M587.05 0h1.28v18.09h-1.28z" fill="#d3d1cf"/><path d="M587.73 0h1.28v18.09h-1.28z" fill="#d5d3d2"/><path d="M588.41 0h1.28v18.09h-1.28z" fill="#dbd9d8"/><path d="M589.09 0h1.37v18.09h-1.37z" fill="#a7a29f"/><path d="M589.86 0h1.37v18.09h-1.37z" fill="#d8d6d4"/><path d="M590.63 0h1.24v18.09h-1.24z" fill="#f8f8f8"/><path d="M591.27 0h1.24v18.09h-1.24z" fill="#fefefd"/><path d="M591.91 0h1.24v18.09h-1.24z" fill="#ffffff"/><path d="M592.54 0h1.24v18.09h-1.24z" fill="#faf9f9"/><path d="M593.18 0h1.28v18.09h-1.28z" fill="#cecbca"/><path d="M593.86 0h1.28v18.09h-1.28z" fill="#cdcbc9"/><path d="M594.55 0h1.28v18.09h-1.28z" fill="#f3f3f2"/><path d="M595.23 0h1.24v18.09h-1.24z" fill="#b8b5b2"/><path d="M595.86 0h1.24v18.09h-1.24z" fill="#908a87"/><path d="M596.50 0h1.24v18.09h-1.24z" fill="#c8c5c4"/><path d="M597.14 0h1.24v18.09h-1.24z" fill="#c8c5c3"/><path d="M597.78 0h1.32v18.09h-1.32z" fill="#f4f3f3"/><path d="M598.50 0h1.32v18.09h-1.32z" fill="#f2f1f1"/><path d="M599.21 0h1.32v18.09h-1.32z" fill="#ffffff"/><path d="M599.93 0h1.32v18.09h-1.32z" fill="#fafafa"/><path d="M600.64 0h1.32v18.09h-1.32z" fill="#f4f3f3"/><path d="M601.36 0h1.28v18.09h-1.28z" fill="#e6e5e4"/><path d="M602.04 0h1.28v18.09h-1.28z" fill="#edecec"/><path d="M602.72 0h1.28v18.09h-1.28z" fill="#a29d9a"/><path d="M603.40 0h1.28v18.09h-1.28z" fill="#ffffff"/><path d="M604.08 0h1.28v18.09h-1.28z" fill="#fafafa"/><path d="M604.76 0h1.28v18.09h-1.28z" fill="#ebeaea"/><path d="M605.45 0h1.24v18.09h-1.24z" fill="#b4b0ae"/><path d="M606.08 0h1.24v18.09h-1.24z" fill="#cac7c5"/><path d="M606.72 0h1.24v18.09h-1.24z" fill="#b2aeab"/><path d="M607.36 0h1.24v18.09h-1.24z" fill="#c5c2c0"/><path d="M608.00 0h1.37v18.09h-1.37z" fill="#e7e6e5"/><path d="M608.77 0h1.37v18.09h-1.37z" fill="#e3e2e1"/><path d="M609.53 0h1.28v18.09h-1.28z" fill="#b4b0ae"/><path d="M610.21 0h1.28v18.09h-1.28z" fill="#bdb9b7"/><path d="M610.90 0h1.28v18.09h-1.28z" fill="#bbb7b5"/><path d="M611.58 0h1.37v18.09h-1.37z" fill="#9a9491"/><path d="M612.34 0h1.37v18.09h-1.37z" fill="#b2aeac"/><path d="M613.11 0h1.24v18.09h-1.24z" fill="#9a9592"/><path d="M613.75 0h1.24v18.09h-1.24z" fill="#b5b0ae"/><path d="M614.39 0h1.24v18.09h-1.24z" fill="#b7b3b1"/><path d="M615.03 0h1.24v18.09h-1.24z" fill="#cbc8c7"/><path d="M615.66 0h1.37v18.09h-1.37z" fill="#afaaa8"/><path d="M616.43 0h1.37v18.09h-1.37z" fill="#d3d0cf"/><path d="M617.20 0h1.37v18.09h-1.37z" fill="#ada8a6"/><path d="M617.96 0h1.37v18.09h-1.37z" fill="#b7b3b1"/><path d="M618.73 0h1.28v18.09h-1.28z" fill="#bebab8"/><path d="M619.41 0h1.28v18.09h-1.28z" fill="#96908d"/><path d="M620.09 0h1.28v18.09h-1.28z" fill="#8f8986"/><path d="M620.77 0h1.24v18.09h-1.24z" fill="#dad8d7"/><path d="M621.41 0h1.24v18.09h-1.24z" fill="#e5e3e3"/><path d="M622.05 0h1.24v18.09h-1.24z" fill="#cecbca"/><path d="M622.69 0h1.24v18.09h-1.24z" fill="#f3f2f2"/><path d="M623.33 0h1.37v18.09h-1.37z" fill="#dad8d7"/><path d="M624.09 0h1.37v18.09h-1.37z" fill="#ffffff"/><path d="M624.86 0h1.28v18.09h-1.28z" fill="#8c8682"/><path d="M625.54 0h1.28v18.09h-1.28z" fill="#928c89"/><path d="M626.22 0h1.28v18.09h-1.28z" fill="#9d9895"/><path d="M626.91 0h1.37v18.09h-1.37z" fill="#a5a09d"/><path d="M627.67 0h1.37v18.09h-1.37z" fill="#b2adab"/><path d="M628.44 0h1.37v18.09h-1.37z" fill="#d7d4d3"/><path d="M629.20 0h1.37v18.09h-1.37z" fill="#c5c2c1"/><path d="M629.97 0h1.28v18.09h-1.28z" fill="#78716d"/><path d="M630.65 0h1.28v18.09h-1.28z" fill="#78716d"/><path d="M631.33 0h1.28v18.09h-1.28z" fill="#989390"/><path d="M632.01 0h1.28v18.09h-1.28z" fill="#958f8c"/><path d="M632.70 0h1.28v18.09h-1.28z" fill="#a8a4a1"/><path d="M633.38 0h1.28v18.09h-1.28z" fill="#c3c0be"/><path d="M634.06 0h1.28v18.09h-1.28z" fill="#f6f5f5"/><path d="M634.74 0h1.28v18.09h-1.28z" fill="#dad8d6"/><path d="M635.42 0h1.28v18.09h-1.28z" fill="#f5f4f4"/><path d="M636.10 0h1.24v18.09h-1.24z" fill="#908a86"/><path d="M636.74 0h1.24v18.09h-1.24z" fill="#86807c"/><path d="M637.38 0h1.24v18.09h-1.24z" fill="#726a66"/><path d="M638.02 0h1.24v18.09h-1.24z" fill="#958f8c"/><path d="M638.66 0h1.24v18.09h-1.24z" fill="#a19b98"/><path d="M639.30 0h1.24v18.09h-1.24z" fill="#807975"/><path d="M639.93 0h1.24v18.09h-1.24z" fill="#6a615d"/><path d="M640.57 0h1.24v18.09h-1.24z" fill="#8a8380"/><path d="M641.21 0h1.62v18.09h-1.62z" fill="#a7a29f"/><path d="M642.23 0h1.30v18.09h-1.30z" fill="#ffffff"/><path d="M642.94 0h1.30v18.09h-1.30z" fill="#ffffff"/><path d="M643.64 0h1.30v18.09h-1.30z" fill="#ffffff"/><path d="M644.34 0h1.30v18.09h-1.30z" fill="#ffffff"/><path d="M645.04 0h1.30v18.09h-1.30z" fill="#ffffff"/><path d="M645.75 0h1.30v18.09h-1.30z" fill="#ffffff"/><path d="M646.45 0h1.30v18.09h-1.30z" fill="#ffffff"/><path d="M647.15 0h1.30v18.09h-1.30z" fill="#ffffff"/><path d="M647.85 0h1.28v18.09h-1.28z" fill="#bebbb9"/><path d="M648.54 0h1.28v18.09h-1.28z" fill="#908a86"/><path d="M649.22 0h1.28v18.09h-1.28z" fill="#847d79"/><path d="M649.90 0h1.28v18.09h-1.28z" fill="#b1adab"/><path d="M650.58 0h1.28v18.09h-1.28z" fill="#d4d1d0"/><path d="M651.26 0h1.28v18.09h-1.28z" fill="#b7b3b1"/><path d="M651.94 0h1.24v18.09h-1.24z" fill="#b8b4b2"/><path d="M652.58 0h1.24v18.09h-1.24z" fill="#ffffff"/><path d="M653.22 0h1.24v18.09h-1.24z" fill="#d3d1d0"/><path d="M653.86 0h1.24v18.09h-1.24z" fill="#e2e1e0"/><path d="M654.50 0h1.28v18.09h-1.28z" fill="#dddbda"/><path d="M655.18 0h1.28v18.09h-1.28z" fill="#d9d7d5"/><path d="M655.86 0h1.28v18.09h-1.28z" fill="#cecbca"/><path d="M656.54 0h1.37v18.09h-1.37z" fill="#948e8b"/><path d="M657.31 0h1.37v18.09h-1.37z" fill="#bebab8"/><path d="M658.07 0h1.37v18.09h-1.37z" fill="#d2d0cf"/><path d="M658.84 0h1.37v18.09h-1.37z" fill="#e2e1e0"/><path d="M659.61 0h1.32v18.09h-1.32z" fill="#fcfcfc"/><path d="M660.32 0h1.32v18.09h-1.32z" fill="#f9f9f8"/><path d="M661.04 0h1.32v18.09h-1.32z" fill="#f5f4f4"/><path d="M661.75 0h1.32v18.09h-1.32z" fill="#f8f8f8"/><path d="M662.47 0h1.32v18.09h-1.32z" fill="#fcfcfc"/><path d="M663.18 0h1.28v18.09h-1.28z" fill="#e0dedd"/><path d="M663.86 0h1.28v18.09h-1.28z" fill="#b8b4b2"/><path d="M664.55 0h1.28v18.09h-1.28z" fill="#d2d0cf"/><path d="M665.23 0h1.28v18.09h-1.28z" fill="#b9b5b3"/><path d="M665.91 0h1.28v18.09h-1.28z" fill="#c9c6c4"/><path d="M666.59 0h1.28v18.09h-1.28z" fill="#bbb8b6"/><path d="M667.27 0h1.28v18.09h-1.28z" fill="#d5d2d1"/><path d="M667.95 0h1.28v18.09h-1.28z" fill="#cbc8c7"/><path d="M668.63 0h1.28v18.09h-1.28z" fill="#dbd9d8"/><path d="M669.31 0h1.28v18.09h-1.28z" fill="#b4b0ae"/><path d="M670.00 0h1.28v18.09h-1.28z" fill="#a19c99"/><path d="M670.68 0h1.28v18.09h-1.28z" fill="#9f9a97"/><path d="M671.36 0h1.28v18.09h-1.28z" fill="#a19c99"/><path d="M672.04 0h1.28v18.09h-1.28z" fill="#7d7672"/><path d="M672.72 0h1.28v18.09h-1.28z" fill="#6f6762"/><path d="M673.40 0h1.37v18.09h-1.37z" fill="#dfdddc"/><path d="M674.17 0h1.37v18.09h-1.37z" fill="#b9b5b3"/><path d="M674.93 0h1.29v18.09h-1.29z" fill="#9e9895"/><path d="M675.62 0h1.29v18.09h-1.29z" fill="#c5c2c1"/><path d="M676.31 0h0.69v18.09h-0.69z" fill="#b4b0ad"/></g>
<g transform="translate(0,120.55)"><path d="M538.80 0h0.62v18.09h-0.62z" fill="#ffffff"/><path d="M538.82 0h1.47v18.09h-1.47z" fill="#160a03"/><path d="M539.69 0h1.47v18.09h-1.47z" fill="#120500"/><path d="M540.55 0h1.32v18.09h-1.32z" fill="#5e5651"/><path d="M541.27 0h1.32v18.09h-1.32z" fill="#4d433e"/><path d="M541.99 0h1.32v18.09h-1.32z" fill="#59504b"/><path d="M542.70 0h1.32v18.09h-1.32z" fill="#59504b"/><path d="M543.42 0h1.32v18.09h-1.32z" fill="#534944"/><path d="M544.13 0h1.32v18.09h-1.32z" fill="#483e39"/><path d="M544.85 0h1.32v18.09h-1.32z" fill="#68605b"/><path d="M545.56 0h1.32v18.09h-1.32z" fill="#625a55"/><path d="M546.28 0h1.32v18.09h-1.32z" fill="#6c6460"/><path d="M546.99 0h1.32v18.09h-1.32z" fill="#4d433e"/><path d="M547.71 0h1.24v18.09h-1.24z" fill="#4f4641"/><path d="M548.35 0h1.24v18.09h-1.24z" fill="#473d38"/><path d="M548.99 0h1.24v18.09h-1.24z" fill="#433933"/><path d="M549.62 0h1.24v18.09h-1.24z" fill="#463c36"/><path d="M550.26 0h1.37v18.09h-1.37z" fill="#5d544f"/><path d="M551.03 0h1.37v18.09h-1.37z" fill="#473d37"/><path d="M551.80 0h1.37v18.09h-1.37z" fill="#574e49"/><path d="M552.56 0h1.37v18.09h-1.37z" fill="#59504b"/><path d="M553.33 0h1.28v18.09h-1.28z" fill="#87817d"/><path d="M554.01 0h1.28v18.09h-1.28z" fill="#7b7470"/><path d="M554.69 0h1.28v18.09h-1.28z" fill="#9a9592"/><path d="M555.37 0h1.28v18.09h-1.28z" fill="#9d9795"/><path d="M556.05 0h1.28v18.09h-1.28z" fill="#97928e"/><path d="M556.73 0h1.28v18.09h-1.28z" fill="#958f8c"/><path d="M557.42 0h1.37v18.09h-1.37z" fill="#cac7c5"/><path d="M558.18 0h1.37v18.09h-1.37z" fill="#edecec"/><path d="M558.95 0h1.28v18.09h-1.28z" fill="#645c57"/><path d="M559.63 0h1.28v18.09h-1.28z" fill="#372c26"/><path d="M560.31 0h1.28v18.09h-1.28z" fill="#665d58"/><path d="M560.99 0h1.37v18.09h-1.37z" fill="#8a8480"/><path d="M561.76 0h1.37v18.09h-1.37z" fill="#847d79"/><path d="M562.53 0h1.33v18.09h-1.33z" fill="#9c9794"/><path d="M563.26 0h1.33v18.09h-1.33z" fill="#a5a09d"/><path d="M563.99 0h1.33v18.09h-1.33z" fill="#958f8c"/><path d="M564.72 0h1.33v18.09h-1.33z" fill="#a49f9d"/><path d="M565.45 0h1.33v18.09h-1.33z" fill="#a6a19e"/><path d="M566.18 0h1.33v18.09h-1.33z" fill="#a6a19e"/><path d="M566.91 0h1.33v18.09h-1.33z" fill="#8d8683"/><path d="M567.64 0h1.37v18.09h-1.37z" fill="#a39e9b"/><path d="M568.40 0h1.37v18.09h-1.37z" fill="#847d7a"/><path d="M569.17 0h1.28v18.09h-1.28z" fill="#eeedec"/><path d="M569.85 0h1.28v18.09h-1.28z" fill="#f2f1f0"/><path d="M570.53 0h1.28v18.09h-1.28z" fill="#e2e0df"/><path d="M571.21 0h1.24v18.09h-1.24z" fill="#f2f2f1"/><path d="M571.85 0h1.24v18.09h-1.24z" fill="#c4c1bf"/><path d="M572.49 0h1.24v18.09h-1.24z" fill="#cac7c6"/><path d="M573.13 0h1.24v18.09h-1.24z" fill="#bdb9b8"/><path d="M573.77 0h1.37v18.09h-1.37z" fill="#a6a19f"/><path d="M574.53 0h1.37v18.09h-1.37z" fill="#87807d"/><path d="M575.30 0h1.37v18.09h-1.37z" fill="#aca8a5"/><path d="M576.07 0h1.37v18.09h-1.37z" fill="#989390"/><path d="M576.83 0h1.24v18.09h-1.24z" fill="#584f4a"/><path d="M577.47 0h1.24v18.09h-1.24z" fill="#716965"/><path d="M578.11 0h1.24v18.09h-1.24z" fill="#746c68"/><path d="M578.75 0h1.24v18.09h-1.24z" fill="#5a514c"/><path d="M579.39 0h1.28v18.09h-1.28z" fill="#6a625d"/><path d="M580.07 0h1.28v18.09h-1.28z" fill="#574d48"/><path d="M580.75 0h1.28v18.09h-1.28z" fill="#6b625e"/><path d="M581.43 0h1.24v18.09h-1.24z" fill="#9b9592"/><path d="M582.07 0h1.24v18.09h-1.24z" fill="#9d9895"/><path d="M582.71 0h1.24v18.09h-1.24z" fill="#78716d"/><path d="M583.35 0h1.24v18.09h-1.24z" fill="#928c89"/><path d="M583.99 0h1.24v18.09h-1.24z" fill="#e6e5e4"/><path d="M584.62 0h1.24v18.09h-1.24z" fill="#c2bfbd"/><path d="M585.26 0h1.24v18.09h-1.24z" fill="#c7c3c2"/><path d="M585.90 0h1.24v18.09h-1.24z" fill="#c0bcba"/><path d="M586.54 0h1.28v18.09h-1.28z" fill="#c0bdbb"/><path d="M587.22 0h1.28v18.09h-1.28z" fill="#938d8a"/><path d="M587.90 0h1.28v18.09h-1.28z" fill="#b6b2af"/><path d="M588.58 0h1.32v18.09h-1.32z" fill="#7e7773"/><path d="M589.30 0h1.32v18.09h-1.32z" fill="#746c68"/><path d="M590.01 0h1.32v18.09h-1.32z" fill="#88817d"/><path d="M590.73 0h1.32v18.09h-1.32z" fill="#817a76"/><path d="M591.45 0h1.32v18.09h-1.32z" fill="#6b635e"/><path d="M592.16 0h1.37v18.09h-1.37z" fill="#7d7672"/><path d="M592.93 0h1.37v18.09h-1.37z" fill="#7c7571"/><path d="M593.69 0h1.37v18.09h-1.37z" fill="#9b9592"/><path d="M594.46 0h1.37v18.09h-1.37z" fill="#8e8885"/><path d="M595.23 0h1.28v18.09h-1.28z" fill="#e8e7e6"/><path d="M595.91 0h1.28v18.09h-1.28z" fill="#d4d2d0"/><path d="M596.59 0h1.28v18.09h-1.28z" fill="#fdfcfc"/><path d="M597.27 0h1.28v18.09h-1.28z" fill="#aca7a5"/><path d="M597.95 0h1.28v18.09h-1.28z" fill="#aaa5a2"/><path d="M598.63 0h1.28v18.09h-1.28z" fill="#857e7a"/><path d="M599.31 0h1.24v18.09h-1.24z" fill="#b1adaa"/><path d="M599.95 0h1.24v18.09h-1.24z" fill="#8f8985"/><path d="M600.59 0h1.24v18.09h-1.24z" fill="#69615c"/><path d="M601.23 0h1.24v18.09h-1.24z" fill="#918b88"/><path d="M601.87 0h1.37v18.09h-1.37z" fill="#cfcccb"/><path d="M602.64 0h1.37v18.09h-1.37z" fill="#c2bfbd"/><path d="M603.40 0h1.37v18.09h-1.37z" fill="#79716d"/><path d="M604.17 0h1.37v18.09h-1.37z" fill="#918b88"/><path d="M604.93 0h1.37v18.09h-1.37z" fill="#8e8784"/><path d="M605.70 0h1.37v18.09h-1.37z" fill="#8c8582"/><path d="M606.47 0h1.37v18.09h-1.37z" fill="#afaba8"/><path d="M607.23 0h1.37v18.09h-1.37z" fill="#9f9a97"/><path d="M608.00 0h1.37v18.09h-1.37z" fill="#96908d"/><path d="M608.77 0h1.37v18.09h-1.37z" fill="#8c8582"/><path d="M609.53 0h1.37v18.09h-1.37z" fill="#716965"/><path d="M610.30 0h1.37v18.09h-1.37z" fill="#817a76"/><path d="M611.07 0h1.28v18.09h-1.28z" fill="#d4d2d1"/><path d="M611.75 0h1.28v18.09h-1.28z" fill="#a7a2a0"/><path d="M612.43 0h1.28v18.09h-1.28z" fill="#c6c3c1"/><path d="M613.11 0h1.37v18.09h-1.37z" fill="#706864"/><path d="M613.88 0h1.37v18.09h-1.37z" fill="#8f8885"/><path d="M614.64 0h1.28v18.09h-1.28z" fill="#dedcdb"/><path d="M615.32 0h1.28v18.09h-1.28z" fill="#d2d0ce"/><path d="M616.00 0h1.28v18.09h-1.28z" fill="#d6d4d3"/><path d="M616.69 0h1.28v18.09h-1.28z" fill="#665d59"/><path d="M617.37 0h1.28v18.09h-1.28z" fill="#6e6662"/><path d="M618.05 0h1.28v18.09h-1.28z" fill="#87817d"/><path d="M618.73 0h1.37v18.09h-1.37z" fill="#c7c4c2"/><path d="M619.50 0h1.37v18.09h-1.37z" fill="#e4e3e2"/><path d="M620.26 0h1.37v18.09h-1.37z" fill="#a5a09d"/><path d="M621.03 0h1.37v18.09h-1.37z" fill="#afaba8"/><path d="M621.80 0h1.37v18.09h-1.37z" fill="#6d6561"/><path d="M622.56 0h1.37v18.09h-1.37z" fill="#6d6560"/><path d="M623.33 0h1.37v18.09h-1.37z" fill="#625954"/><path d="M624.09 0h1.37v18.09h-1.37z" fill="#635b56"/><path d="M624.86 0h1.28v18.09h-1.28z" fill="#a8a3a0"/><path d="M625.54 0h1.28v18.09h-1.28z" fill="#c2bfbd"/><path d="M626.22 0h1.28v18.09h-1.28z" fill="#a7a3a0"/><path d="M626.91 0h1.37v18.09h-1.37z" fill="#d7d5d4"/><path d="M627.67 0h1.37v18.09h-1.37z" fill="#ecebea"/><path d="M628.44 0h1.37v18.09h-1.37z" fill="#4b413c"/><path d="M629.20 0h1.37v18.09h-1.37z" fill="#6d6561"/><path d="M629.97 0h1.37v18.09h-1.37z" fill="#726a66"/><path d="M630.74 0h1.37v18.09h-1.37z" fill="#847d7a"/><path d="M631.50 0h1.37v18.09h-1.37z" fill="#736b67"/><path d="M632.27 0h1.37v18.09h-1.37z" fill="#9c9693"/><path d="M633.04 0h1.37v18.09h-1.37z" fill="#a8a3a1"/><path d="M633.80 0h1.37v18.09h-1.37z" fill="#d0cecc"/><path d="M634.57 0h1.37v18.09h-1.37z" fill="#cdcac8"/><path d="M635.34 0h1.37v18.09h-1.37z" fill="#b4b0ae"/><path d="M636.10 0h1.24v18.09h-1.24z" fill="#b3aeac"/><path d="M636.74 0h1.24v18.09h-1.24z" fill="#938d8a"/><path d="M637.38 0h1.24v18.09h-1.24z" fill="#aea9a7"/><path d="M638.02 0h1.24v18.09h-1.24z" fill="#afaaa8"/><path d="M638.66 0h1.28v18.09h-1.28z" fill="#e6e5e4"/><path d="M639.34 0h1.28v18.09h-1.28z" fill="#c9c6c4"/><path d="M640.02 0h1.28v18.09h-1.28z" fill="#a8a3a0"/><path d="M640.70 0h1.30v18.09h-1.30z" fill="#938d89"/><path d="M641.40 0h1.30v18.09h-1.30z" fill="#6e6662"/><path d="M642.11 0h1.30v18.09h-1.30z" fill="#78716d"/><path d="M642.81 0h1.30v18.09h-1.30z" fill="#7c7571"/><path d="M643.51 0h1.30v18.09h-1.30z" fill="#a39e9b"/><path d="M644.21 0h1.30v18.09h-1.30z" fill="#827b77"/><path d="M644.92 0h1.30v18.09h-1.30z" fill="#999491"/><path d="M645.62 0h1.30v18.09h-1.30z" fill="#847e7a"/><path d="M646.32 0h1.24v18.09h-1.24z" fill="#d1cecd"/><path d="M646.96 0h1.24v18.09h-1.24z" fill="#f5f4f4"/><path d="M647.60 0h1.24v18.09h-1.24z" fill="#f6f6f5"/><path d="M648.24 0h1.24v18.09h-1.24z" fill="#e1dfdf"/><path d="M648.88 0h1.28v18.09h-1.28z" fill="#8b8581"/><path d="M649.56 0h1.28v18.09h-1.28z" fill="#e1dfde"/><path d="M650.24 0h1.28v18.09h-1.28z" fill="#d3d1cf"/><path d="M650.92 0h1.37v18.09h-1.37z" fill="#cac7c6"/><path d="M651.69 0h1.37v18.09h-1.37z" fill="#cbc8c7"/><path d="M652.45 0h1.37v18.09h-1.37z" fill="#d4d2d1"/><path d="M653.22 0h1.37v18.09h-1.37z" fill="#cecbc9"/><path d="M653.99 0h1.28v18.09h-1.28z" fill="#746d68"/><path d="M654.67 0h1.28v18.09h-1.28z" fill="#766f6a"/><path d="M655.35 0h1.28v18.09h-1.28z" fill="#a19c99"/><path d="M656.03 0h1.28v18.09h-1.28z" fill="#f6f6f5"/><path d="M656.71 0h1.28v18.09h-1.28z" fill="#f1f0ef"/><path d="M657.39 0h1.28v18.09h-1.28z" fill="#ecebea"/><path d="M658.07 0h1.24v18.09h-1.24z" fill="#7e7773"/><path d="M658.71 0h1.24v18.09h-1.24z" fill="#918b88"/><path d="M659.35 0h1.24v18.09h-1.24z" fill="#9c9794"/><path d="M659.99 0h1.24v18.09h-1.24z" fill="#89827e"/><path d="M660.63 0h1.24v18.09h-1.24z" fill="#eae9e8"/><path d="M661.27 0h1.24v18.09h-1.24z" fill="#e9e8e7"/><path d="M661.91 0h1.24v18.09h-1.24z" fill="#c4c0bf"/><path d="M662.54 0h1.24v18.09h-1.24z" fill="#e8e7e6"/><path d="M663.18 0h1.24v18.09h-1.24z" fill="#665e59"/><path d="M663.82 0h1.24v18.09h-1.24z" fill="#635a56"/><path d="M664.46 0h1.24v18.09h-1.24z" fill="#948e8b"/><path d="M665.10 0h1.24v18.09h-1.24z" fill="#554b46"/><path d="M665.74 0h1.24v18.09h-1.24z" fill="#a6a19e"/><path d="M666.38 0h1.24v18.09h-1.24z" fill="#bbb7b5"/><path d="M667.01 0h1.24v18.09h-1.24z" fill="#b1adab"/><path d="M667.65 0h1.24v18.09h-1.24z" fill="#a29d9a"/><path d="M668.29 0h1.37v18.09h-1.37z" fill="#a19c99"/><path d="M669.06 0h1.37v18.09h-1.37z" fill="#bdbab8"/><path d="M669.82 0h1.37v18.09h-1.37z" fill="#bebab8"/><path d="M670.59 0h1.37v18.09h-1.37z" fill="#b2aeab"/><path d="M671.36 0h1.37v18.09h-1.37z" fill="#7e7773"/><path d="M672.12 0h1.37v18.09h-1.37z" fill="#756e69"/><path d="M672.89 0h1.37v18.09h-1.37z" fill="#918b88"/><path d="M673.66 0h1.37v18.09h-1.37z" fill="#908a87"/><path d="M674.42 0h1.24v18.09h-1.24z" fill="#493f3a"/><path d="M675.07 0h1.24v18.09h-1.24z" fill="#332821"/><path d="M675.71 0h1.24v18.09h-1.24z" fill="#4b413b"/><path d="M676.36 0h0.64v18.09h-0.64z" fill="#21150f"/></g>
<g transform="translate(0,139.04)"><path d="M538.80 0h0.62v18.09h-0.62z" fill="#ffffff"/><path d="M538.82 0h1.47v18.09h-1.47z" fill="#e4e2e1"/><path d="M539.69 0h1.47v18.09h-1.47z" fill="#c9c6c5"/><path d="M540.55 0h1.37v18.09h-1.37z" fill="#a8a3a1"/><path d="M541.32 0h1.37v18.09h-1.37z" fill="#b5b1af"/><path d="M542.09 0h1.28v18.09h-1.28z" fill="#c9c6c5"/><path d="M542.77 0h1.28v18.09h-1.28z" fill="#dad8d7"/><path d="M543.45 0h1.28v18.09h-1.28z" fill="#c6c3c1"/><path d="M544.13 0h1.28v18.09h-1.28z" fill="#fbfafa"/><path d="M544.81 0h1.28v18.09h-1.28z" fill="#f8f8f8"/><path d="M545.49 0h1.28v18.09h-1.28z" fill="#fafaf9"/><path d="M546.18 0h1.28v18.09h-1.28z" fill="#b8b4b2"/><path d="M546.86 0h1.28v18.09h-1.28z" fill="#c1bebc"/><path d="M547.54 0h1.28v18.09h-1.28z" fill="#97918e"/><path d="M548.22 0h1.28v18.09h-1.28z" fill="#e9e8e7"/><path d="M548.90 0h1.28v18.09h-1.28z" fill="#e1dfde"/><path d="M549.58 0h1.28v18.09h-1.28z" fill="#d0cdcc"/><path d="M550.26 0h1.37v18.09h-1.37z" fill="#bdb9b7"/><path d="M551.03 0h1.37v18.09h-1.37z" fill="#ccc9c7"/><path d="M551.80 0h1.37v18.09h-1.37z" fill="#f5f5f4"/><path d="M552.56 0h1.37v18.09h-1.37z" fill="#ffffff"/><path d="M553.33 0h1.24v18.09h-1.24z" fill="#8b8481"/><path d="M553.97 0h1.24v18.09h-1.24z" fill="#948e8b"/><path d="M554.61 0h1.24v18.09h-1.24z" fill="#b6b3b0"/><path d="M555.24 0h1.24v18.09h-1.24z" fill="#867f7b"/><path d="M555.88 0h1.28v18.09h-1.28z" fill="#999491"/><path d="M556.56 0h1.28v18.09h-1.28z" fill="#a19b99"/><path d="M557.25 0h1.28v18.09h-1.28z" fill="#9e9996"/><path d="M557.93 0h1.28v18.09h-1.28z" fill="#a9a4a2"/><path d="M558.61 0h1.28v18.09h-1.28z" fill="#aca8a5"/><path d="M559.29 0h1.28v18.09h-1.28z" fill="#9b9592"/><path d="M559.97 0h1.28v18.09h-1.28z" fill="#bbb8b6"/><path d="M560.65 0h1.28v18.09h-1.28z" fill="#d0cecc"/><path d="M561.33 0h1.28v18.09h-1.28z" fill="#bab6b4"/><path d="M562.01 0h1.28v18.09h-1.28z" fill="#f8f7f7"/><path d="M562.70 0h1.28v18.09h-1.28z" fill="#fbfbfb"/><path d="M563.38 0h1.28v18.09h-1.28z" fill="#faf9f9"/><path d="M564.06 0h1.28v18.09h-1.28z" fill="#bebbb9"/><path d="M564.74 0h1.28v18.09h-1.28z" fill="#b6b2b0"/><path d="M565.42 0h1.28v18.09h-1.28z" fill="#bebbb9"/><path d="M566.10 0h1.37v18.09h-1.37z" fill="#c9c6c5"/><path d="M566.87 0h1.37v18.09h-1.37z" fill="#f0f0ef"/><path d="M567.64 0h1.37v18.09h-1.37z" fill="#96908d"/><path d="M568.40 0h1.37v18.09h-1.37z" fill="#8d8784"/><path d="M569.17 0h1.37v18.09h-1.37z" fill="#8e8784"/><path d="M569.93 0h1.37v18.09h-1.37z" fill="#7e7773"/><path d="M570.70 0h1.24v18.09h-1.24z" fill="#ada8a6"/><path d="M571.34 0h1.24v18.09h-1.24z" fill="#aba6a4"/><path d="M571.98 0h1.24v18.09h-1.24z" fill="#aaa6a3"/><path d="M572.62 0h1.24v18.09h-1.24z" fill="#a09b98"/><path d="M573.26 0h1.37v18.09h-1.37z" fill="#ada9a6"/><path d="M574.02 0h1.37v18.09h-1.37z" fill="#c8c5c3"/><path d="M574.79 0h1.37v18.09h-1.37z" fill="#f9f9f9"/><path d="M575.55 0h1.37v18.09h-1.37z" fill="#dcdbda"/><path d="M576.32 0h1.28v18.09h-1.28z" fill="#bebab8"/><path d="M577.00 0h1.28v18.09h-1.28z" fill="#c1bebc"/><path d="M577.68 0h1.28v18.09h-1.28z" fill="#ccc9c7"/><path d="M578.36 0h1.37v18.09h-1.37z" fill="#7f7874"/><path d="M579.13 0h1.37v18.09h-1.37z" fill="#857e7a"/><path d="M579.90 0h1.37v18.09h-1.37z" fill="#857e7b"/><path d="M580.66 0h1.37v18.09h-1.37z" fill="#88817e"/><path d="M581.43 0h1.37v18.09h-1.37z" fill="#69615d"/><path d="M582.20 0h1.37v18.09h-1.37z" fill="#8f8885"/><path d="M582.96 0h1.28v18.09h-1.28z" fill="#938d8a"/><path d="M583.64 0h1.28v18.09h-1.28z" fill="#d3d0cf"/><path d="M584.33 0h1.28v18.09h-1.28z" fill="#afaaa8"/><path d="M585.01 0h1.33v18.09h-1.33z" fill="#9a9491"/><path d="M585.74 0h1.33v18.09h-1.33z" fill="#8b8582"/><path d="M586.47 0h1.33v18.09h-1.33z" fill="#9d9895"/><path d="M587.20 0h1.33v18.09h-1.33z" fill="#948e8b"/><path d="M587.93 0h1.33v18.09h-1.33z" fill="#9c9693"/><path d="M588.66 0h1.33v18.09h-1.33z" fill="#98928f"/><path d="M589.39 0h1.33v18.09h-1.33z" fill="#989390"/><path d="M590.12 0h1.37v18.09h-1.37z" fill="#d9d7d6"/><path d="M590.88 0h1.37v18.09h-1.37z" fill="#e7e5e5"/><path d="M591.65 0h1.24v18.09h-1.24z" fill="#88817e"/><path d="M592.29 0h1.24v18.09h-1.24z" fill="#7e7673"/><path d="M592.93 0h1.24v18.09h-1.24z" fill="#a6a19f"/><path d="M593.57 0h1.24v18.09h-1.24z" fill="#7e7773"/><path d="M594.20 0h1.32v18.09h-1.32z" fill="#a39d9b"/><path d="M594.92 0h1.32v18.09h-1.32z" fill="#c3c0be"/><path d="M595.64 0h1.32v18.09h-1.32z" fill="#8f8885"/><path d="M596.35 0h1.32v18.09h-1.32z" fill="#96908d"/><path d="M597.07 0h1.32v18.09h-1.32z" fill="#8e8884"/><path d="M597.78 0h1.24v18.09h-1.24z" fill="#f7f7f7"/><path d="M598.42 0h1.24v18.09h-1.24z" fill="#fcfcfc"/><path d="M599.06 0h1.24v18.09h-1.24z" fill="#f9f9f9"/><path d="M599.70 0h1.24v18.09h-1.24z" fill="#fafafa"/><path d="M600.34 0h1.28v18.09h-1.28z" fill="#a19c99"/><path d="M601.02 0h1.28v18.09h-1.28z" fill="#cbc9c7"/><path d="M601.70 0h1.28v18.09h-1.28z" fill="#b4b0ae"/><path d="M602.38 0h1.28v18.09h-1.28z" fill="#c1bdbc"/><path d="M603.06 0h1.28v18.09h-1.28z" fill="#d8d6d5"/><path d="M603.74 0h1.28v18.09h-1.28z" fill="#c7c4c2"/><path d="M604.42 0h1.28v18.09h-1.28z" fill="#bebbb9"/><path d="M605.10 0h1.28v18.09h-1.28z" fill="#7f7874"/><path d="M605.79 0h1.28v18.09h-1.28z" fill="#a5a09e"/><path d="M606.47 0h1.37v18.09h-1.37z" fill="#bdbab8"/><path d="M607.23 0h1.37v18.09h-1.37z" fill="#c2bebc"/><path d="M608.00 0h1.24v18.09h-1.24z" fill="#87807d"/><path d="M608.64 0h1.24v18.09h-1.24z" fill="#b7b3b1"/><path d="M609.28 0h1.24v18.09h-1.24z" fill="#8a8481"/><path d="M609.92 0h1.24v18.09h-1.24z" fill="#948e8a"/><path d="M610.55 0h1.37v18.09h-1.37z" fill="#f1f0ef"/><path d="M611.32 0h1.37v18.09h-1.37z" fill="#e5e3e3"/><path d="M612.09 0h1.37v18.09h-1.37z" fill="#c1bdbb"/><path d="M612.85 0h1.37v18.09h-1.37z" fill="#a5a09d"/><path d="M613.62 0h1.37v18.09h-1.37z" fill="#948e8b"/><path d="M614.39 0h1.37v18.09h-1.37z" fill="#bcb8b6"/><path d="M615.15 0h1.28v18.09h-1.28z" fill="#a8a3a1"/><path d="M615.83 0h1.28v18.09h-1.28z" fill="#9b9693"/><path d="M616.52 0h1.28v18.09h-1.28z" fill="#817a76"/><path d="M617.20 0h1.28v18.09h-1.28z" fill="#a8a3a0"/><path d="M617.88 0h1.28v18.09h-1.28z" fill="#a09b98"/><path d="M618.56 0h1.28v18.09h-1.28z" fill="#8a8380"/><path d="M619.24 0h1.24v18.09h-1.24z" fill="#a8a3a1"/><path d="M619.88 0h1.24v18.09h-1.24z" fill="#9f9a97"/><path d="M620.52 0h1.24v18.09h-1.24z" fill="#a29d9a"/><path d="M621.16 0h1.24v18.09h-1.24z" fill="#aca8a5"/><path d="M621.80 0h1.24v18.09h-1.24z" fill="#a29d9a"/><path d="M622.43 0h1.24v18.09h-1.24z" fill="#938d8a"/><path d="M623.07 0h1.24v18.09h-1.24z" fill="#928c89"/><path d="M623.71 0h1.24v18.09h-1.24z" fill="#615854"/><path d="M624.35 0h1.28v18.09h-1.28z" fill="#c2bfbd"/><path d="M625.03 0h1.28v18.09h-1.28z" fill="#dad8d7"/><path d="M625.71 0h1.28v18.09h-1.28z" fill="#c2bfbd"/><path d="M626.39 0h1.30v18.09h-1.30z" fill="#857f7b"/><path d="M627.10 0h1.30v18.09h-1.30z" fill="#7a736f"/><path d="M627.80 0h1.30v18.09h-1.30z" fill="#807975"/><path d="M628.50 0h1.30v18.09h-1.30z" fill="#807975"/><path d="M629.20 0h1.30v18.09h-1.30z" fill="#98928f"/><path d="M629.91 0h1.30v18.09h-1.30z" fill="#88817e"/><path d="M630.61 0h1.30v18.09h-1.30z" fill="#7f7874"/><path d="M631.31 0h1.30v18.09h-1.30z" fill="#675f5b"/><path d="M632.01 0h1.28v18.09h-1.28z" fill="#e3e1e1"/><path d="M632.70 0h1.28v18.09h-1.28z" fill="#c7c4c2"/><path d="M633.38 0h1.28v18.09h-1.28z" fill="#f4f3f3"/><path d="M634.06 0h1.28v18.09h-1.28z" fill="#9c9794"/><path d="M634.74 0h1.28v18.09h-1.28z" fill="#9e9895"/><path d="M635.42 0h1.28v18.09h-1.28z" fill="#a7a29f"/><path d="M636.10 0h1.28v18.09h-1.28z" fill="#7e7773"/><path d="M636.78 0h1.28v18.09h-1.28z" fill="#9b9592"/><path d="M637.46 0h1.28v18.09h-1.28z" fill="#97928f"/><path d="M638.15 0h1.24v18.09h-1.24z" fill="#aba7a4"/><path d="M638.78 0h1.24v18.09h-1.24z" fill="#aeaaa7"/><path d="M639.42 0h1.24v18.09h-1.24z" fill="#dcdad9"/><path d="M640.06 0h1.24v18.09h-1.24z" fill="#cfccca"/><path d="M640.70 0h1.37v18.09h-1.37z" fill="#e1e0df"/><path d="M641.47 0h1.37v18.09h-1.37z" fill="#dcdad9"/><path d="M642.23 0h1.37v18.09h-1.37z" fill="#d0cecc"/><path d="M643.00 0h1.37v18.09h-1.37z" fill="#aca7a5"/><path d="M643.77 0h1.28v18.09h-1.28z" fill="#d7d5d3"/><path d="M644.45 0h1.28v18.09h-1.28z" fill="#d9d7d6"/><path d="M645.13 0h1.28v18.09h-1.28z" fill="#c7c4c3"/><path d="M645.81 0h1.32v18.09h-1.32z" fill="#776f6b"/><path d="M646.53 0h1.32v18.09h-1.32z" fill="#aba7a4"/><path d="M647.24 0h1.32v18.09h-1.32z" fill="#8b8481"/><path d="M647.96 0h1.32v18.09h-1.32z" fill="#776f6b"/><path d="M648.67 0h1.32v18.09h-1.32z" fill="#837c79"/><path d="M649.39 0h1.24v18.09h-1.24z" fill="#625a55"/><path d="M650.03 0h1.24v18.09h-1.24z" fill="#635b56"/><path d="M650.66 0h1.24v18.09h-1.24z" fill="#6a625e"/><path d="M651.30 0h1.24v18.09h-1.24z" fill="#4f4640"/><path d="M651.94 0h1.37v18.09h-1.37z" fill="#87807d"/><path d="M652.71 0h1.37v18.09h-1.37z" fill="#a6a19e"/><path d="M653.47 0h1.28v18.09h-1.28z" fill="#e2e0df"/><path d="M654.16 0h1.28v18.09h-1.28z" fill="#d0cdcc"/><path d="M654.84 0h1.28v18.09h-1.28z" fill="#e4e3e2"/><path d="M655.52 0h1.24v18.09h-1.24z" fill="#86807c"/><path d="M656.16 0h1.24v18.09h-1.24z" fill="#958f8c"/><path d="M656.80 0h1.24v18.09h-1.24z" fill="#8d8783"/><path d="M657.43 0h1.24v18.09h-1.24z" fill="#a7a29f"/><path d="M658.07 0h1.24v18.09h-1.24z" fill="#ecebeb"/><path d="M658.71 0h1.24v18.09h-1.24z" fill="#dedddc"/><path d="M659.35 0h1.24v18.09h-1.24z" fill="#d2d0ce"/><path d="M659.99 0h1.24v18.09h-1.24z" fill="#e2e0e0"/><path d="M660.63 0h1.24v18.09h-1.24z" fill="#c2bebc"/><path d="M661.27 0h1.24v18.09h-1.24z" fill="#bcb9b7"/><path d="M661.91 0h1.24v18.09h-1.24z" fill="#c2bfbd"/><path d="M662.54 0h1.24v18.09h-1.24z" fill="#aca8a5"/><path d="M663.18 0h1.24v18.09h-1.24z" fill="#8d8784"/><path d="M663.82 0h1.24v18.09h-1.24z" fill="#89827f"/><path d="M664.46 0h1.24v18.09h-1.24z" fill="#86807c"/><path d="M665.10 0h1.24v18.09h-1.24z" fill="#7b7470"/><path d="M665.74 0h1.37v18.09h-1.37z" fill="#aca7a5"/><path d="M666.50 0h1.37v18.09h-1.37z" fill="#bfbbb9"/><path d="M667.27 0h1.37v18.09h-1.37z" fill="#6c635f"/><path d="M668.04 0h1.37v18.09h-1.37z" fill="#615853"/><path d="M668.80 0h1.28v18.09h-1.28z" fill="#ffffff"/><path d="M669.48 0h1.28v18.09h-1.28z" fill="#ffffff"/><path d="M670.17 0h1.28v18.09h-1.28z" fill="#dedcdb"/><path d="M670.85 0h1.28v18.09h-1.28z" fill="#aca7a5"/><path d="M671.53 0h1.28v18.09h-1.28z" fill="#6a625e"/><path d="M672.21 0h1.28v18.09h-1.28z" fill="#9d9794"/><path d="M672.89 0h1.28v18.09h-1.28z" fill="#dfdddc"/><path d="M673.57 0h1.28v18.09h-1.28z" fill="#d7d4d3"/><path d="M674.25 0h1.28v18.09h-1.28z" fill="#cecbca"/><path d="M674.93 0h1.29v18.09h-1.29z" fill="#b9b5b3"/><path d="M675.62 0h1.29v18.09h-1.29z" fill="#b4b0ad"/><path d="M676.31 0h0.69v18.09h-0.69z" fill="#948e8b"/></g>
<g transform="translate(0,157.53)"><path d="M538.80 0h0.62v18.09h-0.62z" fill="#ffffff"/><path d="M538.82 0h1.35v18.09h-1.35z" fill="#a5a09d"/><path d="M539.57 0h1.35v18.09h-1.35z" fill="#a09a98"/><path d="M540.32 0h1.35v18.09h-1.35z" fill="#7c7470"/><path d="M541.07 0h1.37v18.09h-1.37z" fill="#c0bcba"/><path d="M541.83 0h1.37v18.09h-1.37z" fill="#e5e3e2"/><path d="M542.60 0h1.37v18.09h-1.37z" fill="#cccac8"/><path d="M543.36 0h1.37v18.09h-1.37z" fill="#ceccca"/><path d="M544.13 0h1.24v18.09h-1.24z" fill="#756d69"/><path d="M544.77 0h1.24v18.09h-1.24z" fill="#837c78"/><path d="M545.41 0h1.24v18.09h-1.24z" fill="#584f4a"/><path d="M546.05 0h1.24v18.09h-1.24z" fill="#8e8784"/><path d="M546.69 0h1.37v18.09h-1.37z" fill="#cbc8c6"/><path d="M547.45 0h1.37v18.09h-1.37z" fill="#e3e2e1"/><path d="M548.22 0h1.37v18.09h-1.37z" fill="#69615c"/><path d="M548.99 0h1.37v18.09h-1.37z" fill="#6e6662"/><path d="M549.75 0h1.32v18.09h-1.32z" fill="#d6d4d3"/><path d="M550.47 0h1.32v18.09h-1.32z" fill="#e0dedd"/><path d="M551.18 0h1.32v18.09h-1.32z" fill="#ccc9c7"/><path d="M551.90 0h1.32v18.09h-1.32z" fill="#c6c3c2"/><path d="M552.61 0h1.32v18.09h-1.32z" fill="#e6e5e4"/><path d="M553.33 0h1.37v18.09h-1.37z" fill="#a6a19f"/><path d="M554.09 0h1.37v18.09h-1.37z" fill="#97918e"/><path d="M554.86 0h1.37v18.09h-1.37z" fill="#d8d5d4"/><path d="M555.63 0h1.37v18.09h-1.37z" fill="#f4f4f3"/><path d="M556.39 0h1.37v18.09h-1.37z" fill="#9f9997"/><path d="M557.16 0h1.37v18.09h-1.37z" fill="#8b8481"/><path d="M557.93 0h1.37v18.09h-1.37z" fill="#eeeded"/><path d="M558.69 0h1.37v18.09h-1.37z" fill="#e7e6e5"/><path d="M559.46 0h1.37v18.09h-1.37z" fill="#d6d4d3"/><path d="M560.23 0h1.37v18.09h-1.37z" fill="#dbd9d8"/><path d="M560.99 0h1.24v18.09h-1.24z" fill="#b4b0ad"/><path d="M561.63 0h1.24v18.09h-1.24z" fill="#9c9794"/><path d="M562.27 0h1.24v18.09h-1.24z" fill="#8e8885"/><path d="M562.91 0h1.24v18.09h-1.24z" fill="#bcb8b6"/><path d="M563.55 0h1.28v18.09h-1.28z" fill="#958f8c"/><path d="M564.23 0h1.28v18.09h-1.28z" fill="#97918e"/><path d="M564.91 0h1.28v18.09h-1.28z" fill="#999390"/><path d="M565.59 0h1.28v18.09h-1.28z" fill="#bdbab8"/><path d="M566.27 0h1.28v18.09h-1.28z" fill="#c8c5c3"/><path d="M566.95 0h1.28v18.09h-1.28z" fill="#a7a3a0"/><path d="M567.64 0h1.24v18.09h-1.24z" fill="#7b7470"/><path d="M568.27 0h1.24v18.09h-1.24z" fill="#827b77"/><path d="M568.91 0h1.24v18.09h-1.24z" fill="#7d7672"/><path d="M569.55 0h1.24v18.09h-1.24z" fill="#4a403b"/><path d="M570.19 0h1.37v18.09h-1.37z" fill="#b9b5b3"/><path d="M570.96 0h1.37v18.09h-1.37z" fill="#ccc9c8"/><path d="M571.72 0h1.37v18.09h-1.37z" fill="#8f8985"/><path d="M572.49 0h1.37v18.09h-1.37z" fill="#817a77"/><path d="M573.26 0h1.37v18.09h-1.37z" fill="#dbd9d8"/><path d="M574.02 0h1.37v18.09h-1.37z" fill="#cdcac8"/><path d="M574.79 0h1.28v18.09h-1.28z" fill="#756d69"/><path d="M575.47 0h1.28v18.09h-1.28z" fill="#746d68"/><path d="M576.15 0h1.28v18.09h-1.28z" fill="#554b46"/><path d="M576.83 0h1.28v18.09h-1.28z" fill="#655d58"/><path d="M577.51 0h1.28v18.09h-1.28z" fill="#79726e"/><path d="M578.19 0h1.28v18.09h-1.28z" fill="#7e7773"/><path d="M578.88 0h1.28v18.09h-1.28z" fill="#87807d"/><path d="M579.56 0h1.28v18.09h-1.28z" fill="#87817d"/><path d="M580.24 0h1.28v18.09h-1.28z" fill="#6c6460"/><path d="M580.92 0h1.28v18.09h-1.28z" fill="#908a87"/><path d="M581.60 0h1.28v18.09h-1.28z" fill="#ada8a6"/><path d="M582.28 0h1.28v18.09h-1.28z" fill="#78706c"/><path d="M582.96 0h1.24v18.09h-1.24z" fill="#89827f"/><path d="M583.60 0h1.24v18.09h-1.24z" fill="#6e6662"/><path d="M584.24 0h1.24v18.09h-1.24z" fill="#837c78"/><path d="M584.88 0h1.24v18.09h-1.24z" fill="#a29d9a"/><path d="M585.52 0h1.24v18.09h-1.24z" fill="#fbfbfb"/><path d="M586.16 0h1.24v18.09h-1.24z" fill="#f9f8f8"/><path d="M586.80 0h1.24v18.09h-1.24z" fill="#f8f8f8"/><path d="M587.43 0h1.24v18.09h-1.24z" fill="#f6f6f5"/><path d="M588.07 0h1.37v18.09h-1.37z" fill="#756d69"/><path d="M588.84 0h1.37v18.09h-1.37z" fill="#4a403a"/><path d="M589.61 0h1.37v18.09h-1.37z" fill="#746c68"/><path d="M590.37 0h1.37v18.09h-1.37z" fill="#78706c"/><path d="M591.14 0h1.24v18.09h-1.24z" fill="#999390"/><path d="M591.78 0h1.24v18.09h-1.24z" fill="#9b9592"/><path d="M592.42 0h1.24v18.09h-1.24z" fill="#c1bdbc"/><path d="M593.05 0h1.24v18.09h-1.24z" fill="#c2bfbd"/><path d="M593.69 0h1.37v18.09h-1.37z" fill="#eae9e8"/><path d="M594.46 0h1.37v18.09h-1.37z" fill="#d9d6d5"/><path d="M595.23 0h1.37v18.09h-1.37z" fill="#c9c6c4"/><path d="M595.99 0h1.37v18.09h-1.37z" fill="#bebbb9"/><path d="M596.76 0h1.24v18.09h-1.24z" fill="#a09b98"/><path d="M597.40 0h1.24v18.09h-1.24z" fill="#958f8c"/><path d="M598.04 0h1.24v18.09h-1.24z" fill="#8c8582"/><path d="M598.68 0h1.24v18.09h-1.24z" fill="#aba6a4"/><path d="M599.31 0h1.28v18.09h-1.28z" fill="#d9d7d6"/><path d="M600.00 0h1.28v18.09h-1.28z" fill="#e0dedd"/><path d="M600.68 0h1.28v18.09h-1.28z" fill="#f1f1f0"/><path d="M601.36 0h1.37v18.09h-1.37z" fill="#aaa5a2"/><path d="M602.12 0h1.37v18.09h-1.37z" fill="#a29d9a"/><path d="M602.89 0h1.37v18.09h-1.37z" fill="#ffffff"/><path d="M603.66 0h1.37v18.09h-1.37z" fill="#ffffff"/><path d="M604.42 0h1.32v18.09h-1.32z" fill="#a49f9c"/><path d="M605.14 0h1.32v18.09h-1.32z" fill="#b7b4b1"/><path d="M605.85 0h1.32v18.09h-1.32z" fill="#b2aeac"/><path d="M606.57 0h1.32v18.09h-1.32z" fill="#ada9a6"/><path d="M607.28 0h1.32v18.09h-1.32z" fill="#cac7c6"/><path d="M608.00 0h1.28v18.09h-1.28z" fill="#a9a4a1"/><path d="M608.68 0h1.28v18.09h-1.28z" fill="#cbc8c6"/><path d="M609.36 0h1.28v18.09h-1.28z" fill="#97928e"/><path d="M610.04 0h1.28v18.09h-1.28z" fill="#6f6762"/><path d="M610.73 0h1.28v18.09h-1.28z" fill="#5c534f"/><path d="M611.41 0h1.28v18.09h-1.28z" fill="#736b67"/><path d="M612.09 0h1.33v18.09h-1.33z" fill="#9f9a97"/><path d="M612.82 0h1.33v18.09h-1.33z" fill="#9c9794"/><path d="M613.55 0h1.33v18.09h-1.33z" fill="#96908d"/><path d="M614.28 0h1.33v18.09h-1.33z" fill="#8d8683"/><path d="M615.01 0h1.33v18.09h-1.33z" fill="#7a736f"/><path d="M615.74 0h1.33v18.09h-1.33z" fill="#a29d9a"/><path d="M616.47 0h1.33v18.09h-1.33z" fill="#928c89"/><path d="M617.20 0h1.37v18.09h-1.37z" fill="#d9d7d6"/><path d="M617.96 0h1.37v18.09h-1.37z" fill="#a29d9a"/><path d="M618.73 0h1.30v18.09h-1.30z" fill="#6c645f"/><path d="M619.43 0h1.30v18.09h-1.30z" fill="#504641"/><path d="M620.14 0h1.30v18.09h-1.30z" fill="#867f7c"/><path d="M620.84 0h1.30v18.09h-1.30z" fill="#635a55"/><path d="M621.54 0h1.30v18.09h-1.30z" fill="#5d544f"/><path d="M622.24 0h1.30v18.09h-1.30z" fill="#827b77"/><path d="M622.95 0h1.30v18.09h-1.30z" fill="#6f6763"/><path d="M623.65 0h1.30v18.09h-1.30z" fill="#756e6a"/><path d="M624.35 0h1.28v18.09h-1.28z" fill="#9e9996"/><path d="M625.03 0h1.28v18.09h-1.28z" fill="#b6b2b0"/><path d="M625.71 0h1.28v18.09h-1.28z" fill="#a6a19e"/><path d="M626.39 0h1.28v18.09h-1.28z" fill="#f2f1f0"/><path d="M627.08 0h1.28v18.09h-1.28z" fill="#ecebeb"/><path d="M627.76 0h1.28v18.09h-1.28z" fill="#ffffff"/><path d="M628.44 0h1.37v18.09h-1.37z" fill="#cac7c5"/><path d="M629.20 0h1.37v18.09h-1.37z" fill="#ada9a6"/><path d="M629.97 0h1.37v18.09h-1.37z" fill="#c4c1bf"/><path d="M630.74 0h1.37v18.09h-1.37z" fill="#97918e"/><path d="M631.50 0h1.28v18.09h-1.28z" fill="#8c8682"/><path d="M632.18 0h1.28v18.09h-1.28z" fill="#918b88"/><path d="M632.87 0h1.28v18.09h-1.28z" fill="#8d8783"/><path d="M633.55 0h1.37v18.09h-1.37z" fill="#dcdad9"/><path d="M634.31 0h1.37v18.09h-1.37z" fill="#b7b3b1"/><path d="M635.08 0h1.28v18.09h-1.28z" fill="#7d7672"/><path d="M635.76 0h1.28v18.09h-1.28z" fill="#9f9a97"/><path d="M636.44 0h1.28v18.09h-1.28z" fill="#8b8481"/><path d="M637.12 0h1.37v18.09h-1.37z" fill="#c4c0bf"/><path d="M637.89 0h1.37v18.09h-1.37z" fill="#c4c1bf"/><path d="M638.66 0h1.37v18.09h-1.37z" fill="#857e7a"/><path d="M639.42 0h1.37v18.09h-1.37z" fill="#8a8380"/><path d="M640.19 0h1.37v18.09h-1.37z" fill="#a29d9a"/><path d="M640.96 0h1.37v18.09h-1.37z" fill="#928c88"/><path d="M641.72 0h1.37v18.09h-1.37z" fill="#938d8a"/><path d="M642.49 0h1.37v18.09h-1.37z" fill="#9e9996"/><path d="M643.26 0h1.28v18.09h-1.28z" fill="#cecbca"/><path d="M643.94 0h1.28v18.09h-1.28z" fill="#c5c2c0"/><path d="M644.62 0h1.28v18.09h-1.28z" fill="#d5d3d2"/><path d="M645.30 0h1.37v18.09h-1.37z" fill="#7d7672"/><path d="M646.07 0h1.37v18.09h-1.37z" fill="#6a615d"/><path d="M646.83 0h1.37v18.09h-1.37z" fill="#89827f"/><path d="M647.60 0h1.37v18.09h-1.37z" fill="#716965"/><path d="M648.36 0h1.30v18.09h-1.30z" fill="#b2aeab"/><path d="M649.06 0h1.30v18.09h-1.30z" fill="#97918e"/><path d="M649.76 0h1.30v18.09h-1.30z" fill="#817a76"/><path d="M650.46 0h1.30v18.09h-1.30z" fill="#77706c"/><path d="M651.15 0h1.30v18.09h-1.30z" fill="#a39e9b"/><path d="M651.85 0h1.30v18.09h-1.30z" fill="#8b8481"/><path d="M652.55 0h1.30v18.09h-1.30z" fill="#89837f"/><path d="M653.24 0h1.30v18.09h-1.30z" fill="#aba6a4"/><path d="M653.94 0h1.30v18.09h-1.30z" fill="#a6a19e"/><path d="M654.64 0h1.30v18.09h-1.30z" fill="#87817d"/><path d="M655.33 0h1.30v18.09h-1.30z" fill="#a5a09d"/><path d="M656.03 0h1.28v18.09h-1.28z" fill="#edeceb"/><path d="M656.71 0h1.28v18.09h-1.28z" fill="#e4e2e2"/><path d="M657.39 0h1.28v18.09h-1.28z" fill="#c4c1c0"/><path d="M658.07 0h1.28v18.09h-1.28z" fill="#a49f9c"/><path d="M658.75 0h1.28v18.09h-1.28z" fill="#6b635f"/><path d="M659.44 0h1.28v18.09h-1.28z" fill="#8c8582"/><path d="M660.12 0h1.28v18.09h-1.28z" fill="#362b25"/><path d="M660.80 0h1.28v18.09h-1.28z" fill="#564d48"/><path d="M661.48 0h1.28v18.09h-1.28z" fill="#271b15"/><path d="M662.16 0h1.28v18.09h-1.28z" fill="#2c201a"/><path d="M662.84 0h1.28v18.09h-1.28z" fill="#382d27"/><path d="M663.52 0h1.28v18.09h-1.28z" fill="#4d433e"/><path d="M664.20 0h1.24v18.09h-1.24z" fill="#645b56"/><path d="M664.84 0h1.24v18.09h-1.24z" fill="#837c79"/><path d="M665.48 0h1.24v18.09h-1.24z" fill="#78706c"/><path d="M666.12 0h1.24v18.09h-1.24z" fill="#766e6a"/><path d="M666.76 0h1.24v18.09h-1.24z" fill="#b9b5b3"/><path d="M667.40 0h1.24v18.09h-1.24z" fill="#dad8d7"/><path d="M668.04 0h1.24v18.09h-1.24z" fill="#d5d2d1"/><path d="M668.68 0h1.24v18.09h-1.24z" fill="#dad8d7"/><path d="M669.31 0h1.28v18.09h-1.28z" fill="#8b8581"/><path d="M670.00 0h1.28v18.09h-1.28z" fill="#867f7c"/><path d="M670.68 0h1.28v18.09h-1.28z" fill="#776f6b"/><path d="M671.36 0h1.28v18.09h-1.28z" fill="#88817e"/><path d="M672.04 0h1.28v18.09h-1.28z" fill="#97918e"/><path d="M672.72 0h1.28v18.09h-1.28z" fill="#8b8481"/><path d="M673.40 0h1.37v18.09h-1.37z" fill="#3e342e"/><path d="M674.17 0h1.37v18.09h-1.37z" fill="#453b35"/><path d="M674.93 0h1.37v18.09h-1.37z" fill="#3b302a"/><path d="M675.70 0h1.30v18.09h-1.30z" fill="#2f241e"/><path d="M676.47 0h0.53v18.09h-0.53z" fill="#504641"/></g>
<g transform="translate(0,176.02)"><path d="M538.80 0h0.62v18.09h-0.62z" fill="#ffffff"/><path d="M538.82 0h1.25v18.09h-1.25z" fill="#68605c"/><path d="M539.47 0h1.25v18.09h-1.25z" fill="#69605c"/><path d="M540.13 0h1.25v18.09h-1.25z" fill="#6e6661"/><path d="M540.78 0h1.25v18.09h-1.25z" fill="#7c7470"/><path d="M541.43 0h1.25v18.09h-1.25z" fill="#7c7571"/><path d="M542.09 0h1.37v18.09h-1.37z" fill="#7a736f"/><path d="M542.85 0h1.37v18.09h-1.37z" fill="#87807c"/><path d="M543.62 0h1.28v18.09h-1.28z" fill="#746d69"/><path d="M544.30 0h1.28v18.09h-1.28z" fill="#524943"/><path d="M544.98 0h1.28v18.09h-1.28z" fill="#5f5651"/><path d="M545.66 0h1.28v18.09h-1.28z" fill="#655c58"/><path d="M546.35 0h1.28v18.09h-1.28z" fill="#59504b"/><path d="M547.03 0h1.28v18.09h-1.28z" fill="#5c534e"/><path d="M547.71 0h1.32v18.09h-1.32z" fill="#958f8b"/><path d="M548.42 0h1.32v18.09h-1.32z" fill="#97928f"/><path d="M549.14 0h1.32v18.09h-1.32z" fill="#5f5752"/><path d="M549.85 0h1.32v18.09h-1.32z" fill="#8c8683"/><path d="M550.57 0h1.32v18.09h-1.32z" fill="#8d8783"/><path d="M551.28 0h1.37v18.09h-1.37z" fill="#8c8682"/><path d="M552.05 0h1.37v18.09h-1.37z" fill="#a9a4a1"/><path d="M552.82 0h1.28v18.09h-1.28z" fill="#665e59"/><path d="M553.50 0h1.28v18.09h-1.28z" fill="#8f8986"/><path d="M554.18 0h1.28v18.09h-1.28z" fill="#625955"/><path d="M554.86 0h1.34v18.09h-1.34z" fill="#938d89"/><path d="M555.60 0h1.34v18.09h-1.34z" fill="#685f5b"/><path d="M556.34 0h1.34v18.09h-1.34z" fill="#6b625e"/><path d="M557.08 0h1.34v18.09h-1.34z" fill="#9a9592"/><path d="M557.81 0h1.34v18.09h-1.34z" fill="#706864"/><path d="M558.55 0h1.34v18.09h-1.34z" fill="#766f6b"/><path d="M559.29 0h1.34v18.09h-1.34z" fill="#605752"/><path d="M560.03 0h1.34v18.09h-1.34z" fill="#827b77"/><path d="M560.77 0h1.34v18.09h-1.34z" fill="#9a9491"/><path d="M561.50 0h1.28v18.09h-1.28z" fill="#ccc9c8"/><path d="M562.18 0h1.28v18.09h-1.28z" fill="#cdcac8"/><path d="M562.87 0h1.28v18.09h-1.28z" fill="#d2cfce"/><path d="M563.55 0h1.32v18.09h-1.32z" fill="#9b9693"/><path d="M564.26 0h1.32v18.09h-1.32z" fill="#918b88"/><path d="M564.98 0h1.32v18.09h-1.32z" fill="#aba6a4"/><path d="M565.69 0h1.32v18.09h-1.32z" fill="#a49f9c"/><path d="M566.41 0h1.32v18.09h-1.32z" fill="#88817e"/><path d="M567.12 0h1.24v18.09h-1.24z" fill="#a39e9b"/><path d="M567.76 0h1.24v18.09h-1.24z" fill="#dbd9d8"/><path d="M568.40 0h1.24v18.09h-1.24z" fill="#b9b5b3"/><path d="M569.04 0h1.24v18.09h-1.24z" fill="#dad8d7"/><path d="M569.68 0h1.37v18.09h-1.37z" fill="#cac7c5"/><path d="M570.45 0h1.37v18.09h-1.37z" fill="#b7b3b1"/><path d="M571.21 0h1.37v18.09h-1.37z" fill="#4e443f"/><path d="M571.98 0h1.37v18.09h-1.37z" fill="#281c16"/><path d="M572.74 0h1.37v18.09h-1.37z" fill="#776f6b"/><path d="M573.51 0h1.37v18.09h-1.37z" fill="#6b625e"/><path d="M574.28 0h1.30v18.09h-1.30z" fill="#fafaf9"/><path d="M574.98 0h1.30v18.09h-1.30z" fill="#f9f9f8"/><path d="M575.68 0h1.30v18.09h-1.30z" fill="#fdfdfd"/><path d="M576.39 0h1.30v18.09h-1.30z" fill="#f6f6f5"/><path d="M577.09 0h1.30v18.09h-1.30z" fill="#fefefe"/><path d="M577.79 0h1.30v18.09h-1.30z" fill="#ffffff"/><path d="M578.49 0h1.30v18.09h-1.30z" fill="#f9f8f8"/><path d="M579.20 0h1.30v18.09h-1.30z" fill="#f9f9f8"/><path d="M579.90 0h1.62v18.09h-1.62z" fill="#f4f4f3"/><path d="M580.92 0h1.28v18.09h-1.28z" fill="#f9f8f8"/><path d="M581.60 0h1.28v18.09h-1.28z" fill="#fbfafa"/><path d="M582.28 0h1.28v18.09h-1.28z" fill="#f9f9f9"/><path d="M582.96 0h1.24v18.09h-1.24z" fill="#aaa5a3"/><path d="M583.60 0h1.24v18.09h-1.24z" fill="#e5e4e3"/><path d="M584.24 0h1.24v18.09h-1.24z" fill="#f1f0f0"/><path d="M584.88 0h1.24v18.09h-1.24z" fill="#c6c3c1"/><path d="M585.52 0h1.32v18.09h-1.32z" fill="#8f8885"/><path d="M586.23 0h1.32v18.09h-1.32z" fill="#bdbab8"/><path d="M586.95 0h1.32v18.09h-1.32z" fill="#837c78"/><path d="M587.66 0h1.32v18.09h-1.32z" fill="#9a9491"/><path d="M588.38 0h1.32v18.09h-1.32z" fill="#867f7b"/><path d="M589.09 0h1.28v18.09h-1.28z" fill="#69615c"/><path d="M589.78 0h1.28v18.09h-1.28z" fill="#7c7571"/><path d="M590.46 0h1.28v18.09h-1.28z" fill="#544a45"/><path d="M591.14 0h1.24v18.09h-1.24z" fill="#5d5550"/><path d="M591.78 0h1.24v18.09h-1.24z" fill="#766e6a"/><path d="M592.42 0h1.24v18.09h-1.24z" fill="#675e5a"/><path d="M593.05 0h1.24v18.09h-1.24z" fill="#5f5752"/><path d="M593.69 0h1.28v18.09h-1.28z" fill="#c1bebc"/><path d="M594.37 0h1.28v18.09h-1.28z" fill="#a09b98"/><path d="M595.06 0h1.28v18.09h-1.28z" fill="#87817d"/><path d="M595.74 0h1.32v18.09h-1.32z" fill="#948e8a"/><path d="M596.45 0h1.32v18.09h-1.32z" fill="#8b8481"/><path d="M597.17 0h1.32v18.09h-1.32z" fill="#827b77"/><path d="M597.88 0h1.32v18.09h-1.32z" fill="#8d8683"/><path d="M598.60 0h1.32v18.09h-1.32z" fill="#77706c"/><path d="M599.31 0h1.37v18.09h-1.37z" fill="#867f7c"/><path d="M600.08 0h1.37v18.09h-1.37z" fill="#b4b0ad"/><path d="M600.85 0h1.37v18.09h-1.37z" fill="#68605b"/><path d="M601.61 0h1.37v18.09h-1.37z" fill="#847e7a"/><path d="M602.38 0h1.37v18.09h-1.37z" fill="#403530"/><path d="M603.15 0h1.37v18.09h-1.37z" fill="#554c47"/><path d="M603.91 0h1.28v18.09h-1.28z" fill="#5e5651"/><path d="M604.59 0h1.28v18.09h-1.28z" fill="#736b67"/><path d="M605.27 0h1.28v18.09h-1.28z" fill="#6f6763"/><path d="M605.96 0h1.28v18.09h-1.28z" fill="#837c79"/><path d="M606.64 0h1.28v18.09h-1.28z" fill="#7a736f"/><path d="M607.32 0h1.28v18.09h-1.28z" fill="#706864"/><path d="M608.00 0h1.28v18.09h-1.28z" fill="#aaa5a3"/><path d="M608.68 0h1.28v18.09h-1.28z" fill="#aea9a7"/><path d="M609.36 0h1.28v18.09h-1.28z" fill="#a5a09e"/><path d="M610.04 0h1.24v18.09h-1.24z" fill="#625954"/><path d="M610.68 0h1.24v18.09h-1.24z" fill="#88817e"/><path d="M611.32 0h1.24v18.09h-1.24z" fill="#9d9895"/><path d="M611.96 0h1.24v18.09h-1.24z" fill="#89837f"/><path d="M612.60 0h1.28v18.09h-1.28z" fill="#edeceb"/><path d="M613.28 0h1.28v18.09h-1.28z" fill="#c8c4c3"/><path d="M613.96 0h1.28v18.09h-1.28z" fill="#d3d0cf"/><path d="M614.64 0h1.28v18.09h-1.28z" fill="#908a87"/><path d="M615.32 0h1.28v18.09h-1.28z" fill="#9d9895"/><path d="M616.00 0h1.28v18.09h-1.28z" fill="#b5b1af"/><path d="M616.69 0h1.28v18.09h-1.28z" fill="#87807d"/><path d="M617.37 0h1.28v18.09h-1.28z" fill="#7c7571"/><path d="M618.05 0h1.28v18.09h-1.28z" fill="#79716d"/><path d="M618.73 0h1.24v18.09h-1.24z" fill="#c5c1c0"/><path d="M619.37 0h1.24v18.09h-1.24z" fill="#a9a4a2"/><path d="M620.01 0h1.24v18.09h-1.24z" fill="#ceccca"/><path d="M620.65 0h1.24v18.09h-1.24z" fill="#b6b1af"/><path d="M621.28 0h1.28v18.09h-1.28z" fill="#afaba8"/><path d="M621.97 0h1.28v18.09h-1.28z" fill="#a8a3a0"/><path d="M622.65 0h1.28v18.09h-1.28z" fill="#bab6b4"/><path d="M623.33 0h1.28v18.09h-1.28z" fill="#c5c1c0"/><path d="M624.01 0h1.28v18.09h-1.28z" fill="#e1dfde"/><path d="M624.69 0h1.28v18.09h-1.28z" fill="#d2cfce"/><path d="M625.37 0h1.37v18.09h-1.37z" fill="#827b77"/><path d="M626.14 0h1.37v18.09h-1.37z" fill="#605752"/><path d="M626.91 0h1.37v18.09h-1.37z" fill="#9d9794"/><path d="M627.67 0h1.37v18.09h-1.37z" fill="#7b7470"/><path d="M628.44 0h1.37v18.09h-1.37z" fill="#b1adaa"/><path d="M629.20 0h1.37v18.09h-1.37z" fill="#a09b98"/><path d="M629.97 0h1.24v18.09h-1.24z" fill="#bbb7b5"/><path d="M630.61 0h1.24v18.09h-1.24z" fill="#efefee"/><path d="M631.25 0h1.24v18.09h-1.24z" fill="#f0efee"/><path d="M631.89 0h1.24v18.09h-1.24z" fill="#e0dedd"/><path d="M632.53 0h1.32v18.09h-1.32z" fill="#cdcac8"/><path d="M633.24 0h1.32v18.09h-1.32z" fill="#b1adab"/><path d="M633.96 0h1.32v18.09h-1.32z" fill="#b1acaa"/><path d="M634.67 0h1.32v18.09h-1.32z" fill="#bbb7b5"/><path d="M635.39 0h1.32v18.09h-1.32z" fill="#9e9895"/><path d="M636.10 0h1.30v18.09h-1.30z" fill="#c8c5c3"/><path d="M636.80 0h1.30v18.09h-1.30z" fill="#ada8a6"/><path d="M637.51 0h1.30v18.09h-1.30z" fill="#c2bfbd"/><path d="M638.21 0h1.30v18.09h-1.30z" fill="#d3d0cf"/><path d="M638.91 0h1.30v18.09h-1.30z" fill="#b6b2b0"/><path d="M639.61 0h1.30v18.09h-1.30z" fill="#b1adaa"/><path d="M640.32 0h1.30v18.09h-1.30z" fill="#dedcdb"/><path d="M641.02 0h1.30v18.09h-1.30z" fill="#bebab8"/><path d="M641.72 0h1.37v18.09h-1.37z" fill="#e1e0df"/><path d="M642.49 0h1.37v18.09h-1.37z" fill="#d8d6d5"/><path d="M643.26 0h1.37v18.09h-1.37z" fill="#d5d3d2"/><path d="M644.02 0h1.37v18.09h-1.37z" fill="#e8e7e6"/><path d="M644.79 0h1.24v18.09h-1.24z" fill="#7e7773"/><path d="M645.43 0h1.24v18.09h-1.24z" fill="#615853"/><path d="M646.07 0h1.24v18.09h-1.24z" fill="#7a726e"/><path d="M646.70 0h1.24v18.09h-1.24z" fill="#736b67"/><path d="M647.34 0h1.28v18.09h-1.28z" fill="#c6c3c1"/><path d="M648.02 0h1.28v18.09h-1.28z" fill="#d4d2d1"/><path d="M648.71 0h1.28v18.09h-1.28z" fill="#e4e3e2"/><path d="M649.39 0h1.32v18.09h-1.32z" fill="#c2bfbd"/><path d="M650.10 0h1.32v18.09h-1.32z" fill="#bab6b4"/><path d="M650.82 0h1.32v18.09h-1.32z" fill="#b6b2b0"/><path d="M651.53 0h1.32v18.09h-1.32z" fill="#bab6b4"/><path d="M652.25 0h1.32v18.09h-1.32z" fill="#b0aca9"/><path d="M652.96 0h1.24v18.09h-1.24z" fill="#c1bebc"/><path d="M653.60 0h1.24v18.09h-1.24z" fill="#d3d1cf"/><path d="M654.24 0h1.24v18.09h-1.24z" fill="#e3e1e0"/><path d="M654.88 0h1.24v18.09h-1.24z" fill="#c4c0bf"/><path d="M655.52 0h1.37v18.09h-1.37z" fill="#aaa5a3"/><path d="M656.28 0h1.37v18.09h-1.37z" fill="#b7b3b1"/><path d="M657.05 0h1.28v18.09h-1.28z" fill="#c9c6c5"/><path d="M657.73 0h1.28v18.09h-1.28z" fill="#e3e2e1"/><path d="M658.41 0h1.28v18.09h-1.28z" fill="#dfdddd"/><path d="M659.09 0h1.28v18.09h-1.28z" fill="#c8c5c3"/><path d="M659.78 0h1.28v18.09h-1.28z" fill="#a39e9b"/><path d="M660.46 0h1.28v18.09h-1.28z" fill="#aba7a4"/><path d="M661.14 0h1.37v18.09h-1.37z" fill="#ffffff"/><path d="M661.91 0h1.37v18.09h-1.37z" fill="#ffffff"/><path d="M662.67 0h1.37v18.09h-1.37z" fill="#f8f8f7"/><path d="M663.44 0h1.37v18.09h-1.37z" fill="#ffffff"/><path d="M664.20 0h1.24v18.09h-1.24z" fill="#a8a3a0"/><path d="M664.84 0h1.24v18.09h-1.24z" fill="#c7c4c3"/><path d="M665.48 0h1.24v18.09h-1.24z" fill="#bab6b4"/><path d="M666.12 0h1.24v18.09h-1.24z" fill="#c1bebc"/><path d="M666.76 0h1.24v18.09h-1.24z" fill="#bab7b5"/><path d="M667.40 0h1.24v18.09h-1.24z" fill="#d5d3d2"/><path d="M668.04 0h1.24v18.09h-1.24z" fill="#e0dedd"/><path d="M668.68 0h1.24v18.09h-1.24z" fill="#e8e7e6"/><path d="M669.31 0h1.28v18.09h-1.28z" fill="#b3afac"/><path d="M670.00 0h1.28v18.09h-1.28z" fill="#b3aeac"/><path d="M670.68 0h1.28v18.09h-1.28z" fill="#bdbab8"/><path d="M671.36 0h1.28v18.09h-1.28z" fill="#ccc9c7"/><path d="M672.04 0h1.28v18.09h-1.28z" fill="#8f8986"/><path d="M672.72 0h1.28v18.09h-1.28z" fill="#87807c"/><path d="M673.40 0h1.28v18.09h-1.28z" fill="#d3d1cf"/><path d="M674.08 0h1.28v18.09h-1.28z" fill="#f2f1f1"/><path d="M674.76 0h1.28v18.09h-1.28z" fill="#f6f5f5"/><path d="M675.45 0h1.38v18.09h-1.38z" fill="#c3bfbd"/><path d="M676.22 0h0.78v18.09h-0.78z" fill="#a29d9a"/></g>
<g transform="translate(0,194.51)"><path d="M538.80 0h0.62v18.09h-0.62z" fill="#ffffff"/><path d="M538.82 0h1.35v18.09h-1.35z" fill="#9e9996"/><path d="M539.57 0h1.35v18.09h-1.35z" fill="#bbb7b5"/><path d="M540.32 0h1.35v18.09h-1.35z" fill="#a7a3a0"/><path d="M541.07 0h1.28v18.09h-1.28z" fill="#f3f3f2"/><path d="M541.75 0h1.28v18.09h-1.28z" fill="#c0bdbb"/><path d="M542.43 0h1.28v18.09h-1.28z" fill="#efeeee"/><path d="M543.11 0h1.28v18.09h-1.28z" fill="#847d7a"/><path d="M543.79 0h1.28v18.09h-1.28z" fill="#a09a97"/><path d="M544.47 0h1.28v18.09h-1.28z" fill="#98938f"/><path d="M545.15 0h1.28v18.09h-1.28z" fill="#aaa5a2"/><path d="M545.83 0h1.28v18.09h-1.28z" fill="#9e9895"/><path d="M546.52 0h1.28v18.09h-1.28z" fill="#c0bcba"/><path d="M547.20 0h1.37v18.09h-1.37z" fill="#8c8682"/><path d="M547.96 0h1.37v18.09h-1.37z" fill="#86807c"/><path d="M548.73 0h1.28v18.09h-1.28z" fill="#c7c4c3"/><path d="M549.41 0h1.28v18.09h-1.28z" fill="#bfbbba"/><path d="M550.09 0h1.28v18.09h-1.28z" fill="#c5c2c0"/><path d="M550.77 0h1.37v18.09h-1.37z" fill="#746d69"/><path d="M551.54 0h1.37v18.09h-1.37z" fill="#867f7b"/><path d="M552.31 0h1.28v18.09h-1.28z" fill="#c0bcba"/><path d="M552.99 0h1.28v18.09h-1.28z" fill="#d6d4d3"/><path d="M553.67 0h1.28v18.09h-1.28z" fill="#dbdad8"/><path d="M554.35 0h1.32v18.09h-1.32z" fill="#fdfdfc"/><path d="M555.07 0h1.32v18.09h-1.32z" fill="#fefefe"/><path d="M555.78 0h1.32v18.09h-1.32z" fill="#f7f7f6"/><path d="M556.50 0h1.32v18.09h-1.32z" fill="#ffffff"/><path d="M557.21 0h1.32v18.09h-1.32z" fill="#ffffff"/><path d="M557.93 0h1.28v18.09h-1.28z" fill="#cdcac9"/><path d="M558.61 0h1.28v18.09h-1.28z" fill="#c9c6c5"/><path d="M559.29 0h1.28v18.09h-1.28z" fill="#c0bcba"/><path d="M559.97 0h1.32v18.09h-1.32z" fill="#665e59"/><path d="M560.69 0h1.32v18.09h-1.32z" fill="#776f6b"/><path d="M561.40 0h1.32v18.09h-1.32z" fill="#79716d"/><path d="M562.12 0h1.32v18.09h-1.32z" fill="#847d79"/><path d="M562.83 0h1.32v18.09h-1.32z" fill="#736b67"/><path d="M563.55 0h1.28v18.09h-1.28z" fill="#d6d4d3"/><path d="M564.23 0h1.28v18.09h-1.28z" fill="#dfdddc"/><path d="M564.91 0h1.28v18.09h-1.28z" fill="#d6d3d2"/><path d="M565.59 0h1.28v18.09h-1.28z" fill="#b7b3b1"/><path d="M566.27 0h1.28v18.09h-1.28z" fill="#e2e0e0"/><path d="M566.95 0h1.28v18.09h-1.28z" fill="#a5a09d"/><path d="M567.64 0h1.24v18.09h-1.24z" fill="#726a66"/><path d="M568.27 0h1.24v18.09h-1.24z" fill="#8f8985"/><path d="M568.91 0h1.24v18.09h-1.24z" fill="#78706c"/><path d="M569.55 0h1.24v18.09h-1.24z" fill="#a19b98"/><path d="M570.19 0h1.24v18.09h-1.24z" fill="#9d9895"/><path d="M570.83 0h1.24v18.09h-1.24z" fill="#aaa5a3"/><path d="M571.47 0h1.24v18.09h-1.24z" fill="#ccc9c7"/><path d="M572.11 0h1.24v18.09h-1.24z" fill="#8b8581"/><path d="M572.74 0h1.24v18.09h-1.24z" fill="#ffffff"/><path d="M573.38 0h1.24v18.09h-1.24z" fill="#f2f2f1"/><path d="M574.02 0h1.24v18.09h-1.24z" fill="#f1f0f0"/><path d="M574.66 0h1.24v18.09h-1.24z" fill="#ffffff"/><path d="M575.30 0h1.37v18.09h-1.37z" fill="#6a625e"/><path d="M576.07 0h1.37v18.09h-1.37z" fill="#827b77"/><path d="M576.83 0h1.37v18.09h-1.37z" fill="#6c645f"/><path d="M577.60 0h1.37v18.09h-1.37z" fill="#8f8885"/><path d="M578.36 0h1.24v18.09h-1.24z" fill="#a19c99"/><path d="M579.00 0h1.24v18.09h-1.24z" fill="#b8b4b2"/><path d="M579.64 0h1.24v18.09h-1.24z" fill="#afaaa8"/><path d="M580.28 0h1.24v18.09h-1.24z" fill="#a49f9c"/><path d="M580.92 0h1.28v18.09h-1.28z" fill="#ffffff"/><path d="M581.60 0h1.28v18.09h-1.28z" fill="#e5e4e3"/><path d="M582.28 0h1.28v18.09h-1.28z" fill="#f8f8f7"/><path d="M582.96 0h1.37v18.09h-1.37z" fill="#95908c"/><path d="M583.73 0h1.37v18.09h-1.37z" fill="#afaaa8"/><path d="M584.50 0h1.24v18.09h-1.24z" fill="#756e69"/><path d="M585.14 0h1.24v18.09h-1.24z" fill="#8f8986"/><path d="M585.77 0h1.24v18.09h-1.24z" fill="#69615c"/><path d="M586.41 0h1.24v18.09h-1.24z" fill="#8f8985"/><path d="M587.05 0h1.24v18.09h-1.24z" fill="#ffffff"/><path d="M587.69 0h1.24v18.09h-1.24z" fill="#f4f4f3"/><path d="M588.33 0h1.24v18.09h-1.24z" fill="#f5f5f5"/><path d="M588.97 0h1.24v18.09h-1.24z" fill="#ebeae9"/><path d="M589.61 0h1.24v18.09h-1.24z" fill="#a8a3a0"/><path d="M590.24 0h1.24v18.09h-1.24z" fill="#b8b4b2"/><path d="M590.88 0h1.24v18.09h-1.24z" fill="#bdb9b7"/><path d="M591.52 0h1.24v18.09h-1.24z" fill="#d6d3d2"/><path d="M592.16 0h1.37v18.09h-1.37z" fill="#958f8c"/><path d="M592.93 0h1.37v18.09h-1.37z" fill="#847d79"/><path d="M593.69 0h1.37v18.09h-1.37z" fill="#ecebeb"/><path d="M594.46 0h1.37v18.09h-1.37z" fill="#c8c5c3"/><path d="M595.23 0h1.28v18.09h-1.28z" fill="#8c8683"/><path d="M595.91 0h1.28v18.09h-1.28z" fill="#afaba8"/><path d="M596.59 0h1.28v18.09h-1.28z" fill="#a6a19e"/><path d="M597.27 0h1.28v18.09h-1.28z" fill="#9e9895"/><path d="M597.95 0h1.28v18.09h-1.28z" fill="#908a87"/><path d="M598.63 0h1.28v18.09h-1.28z" fill="#78706c"/><path d="M599.31 0h1.28v18.09h-1.28z" fill="#cecbca"/><path d="M600.00 0h1.28v18.09h-1.28z" fill="#d2cfce"/><path d="M600.68 0h1.28v18.09h-1.28z" fill="#ffffff"/><path d="M601.36 0h1.37v18.09h-1.37z" fill="#918b88"/><path d="M602.12 0h1.37v18.09h-1.37z" fill="#95908c"/><path d="M602.89 0h1.37v18.09h-1.37z" fill="#c2bebd"/><path d="M603.66 0h1.37v18.09h-1.37z" fill="#c6c3c2"/><path d="M604.42 0h1.28v18.09h-1.28z" fill="#cbc8c7"/><path d="M605.10 0h1.28v18.09h-1.28z" fill="#ecebeb"/><path d="M605.79 0h1.28v18.09h-1.28z" fill="#d0cdcc"/><path d="M606.47 0h1.37v18.09h-1.37z" fill="#6d6560"/><path d="M607.23 0h1.37v18.09h-1.37z" fill="#7c7571"/><path d="M608.00 0h1.24v18.09h-1.24z" fill="#7d7672"/><path d="M608.64 0h1.24v18.09h-1.24z" fill="#88827e"/><path d="M609.28 0h1.24v18.09h-1.24z" fill="#675f5b"/><path d="M609.92 0h1.24v18.09h-1.24z" fill="#524943"/><path d="M610.55 0h1.24v18.09h-1.24z" fill="#a49f9d"/><path d="M611.19 0h1.24v18.09h-1.24z" fill="#97918e"/><path d="M611.83 0h1.24v18.09h-1.24z" fill="#938d8a"/><path d="M612.47 0h1.24v18.09h-1.24z" fill="#a8a3a1"/><path d="M613.11 0h1.24v18.09h-1.24z" fill="#bdb9b7"/><path d="M613.75 0h1.24v18.09h-1.24z" fill="#a19c99"/><path d="M614.39 0h1.24v18.09h-1.24z" fill="#aba6a4"/><path d="M615.03 0h1.24v18.09h-1.24z" fill="#d4d1d0"/><path d="M615.66 0h1.24v18.09h-1.24z" fill="#cecbc9"/><path d="M616.30 0h1.24v18.09h-1.24z" fill="#f5f4f4"/><path d="M616.94 0h1.24v18.09h-1.24z" fill="#a29d9b"/><path d="M617.58 0h1.24v18.09h-1.24z" fill="#bdb9b7"/><path d="M618.22 0h1.37v18.09h-1.37z" fill="#bebab8"/><path d="M618.99 0h1.37v18.09h-1.37z" fill="#aaa5a3"/><path d="M619.75 0h1.37v18.09h-1.37z" fill="#c1bdbb"/><path d="M620.52 0h1.37v18.09h-1.37z" fill="#bfbbb9"/><path d="M621.28 0h1.37v18.09h-1.37z" fill="#a39e9b"/><path d="M622.05 0h1.37v18.09h-1.37z" fill="#e1dfde"/><path d="M622.82 0h1.28v18.09h-1.28z" fill="#857e7a"/><path d="M623.50 0h1.28v18.09h-1.28z" fill="#413731"/><path d="M624.18 0h1.28v18.09h-1.28z" fill="#5d544f"/><path d="M624.86 0h1.24v18.09h-1.24z" fill="#78706c"/><path d="M625.50 0h1.24v18.09h-1.24z" fill="#89837f"/><path d="M626.14 0h1.24v18.09h-1.24z" fill="#88827e"/><path d="M626.78 0h1.24v18.09h-1.24z" fill="#8c8683"/><path d="M627.42 0h1.32v18.09h-1.32z" fill="#948e8b"/><path d="M628.13 0h1.32v18.09h-1.32z" fill="#96908d"/><path d="M628.85 0h1.32v18.09h-1.32z" fill="#78716d"/><path d="M629.56 0h1.32v18.09h-1.32z" fill="#87807c"/><path d="M630.28 0h1.32v18.09h-1.32z" fill="#8b8582"/><path d="M630.99 0h1.37v18.09h-1.37z" fill="#958f8c"/><path d="M631.76 0h1.37v18.09h-1.37z" fill="#b5b1af"/><path d="M632.53 0h1.28v18.09h-1.28z" fill="#615854"/><path d="M633.21 0h1.28v18.09h-1.28z" fill="#8c8582"/><path d="M633.89 0h1.28v18.09h-1.28z" fill="#8e8784"/><path d="M634.57 0h1.28v18.09h-1.28z" fill="#a6a19f"/><path d="M635.25 0h1.28v18.09h-1.28z" fill="#bdb9b7"/><path d="M635.93 0h1.28v18.09h-1.28z" fill="#9a9592"/><path d="M636.61 0h1.28v18.09h-1.28z" fill="#c2bfbd"/><path d="M637.29 0h1.28v18.09h-1.28z" fill="#ecebeb"/><path d="M637.98 0h1.28v18.09h-1.28z" fill="#d2cfce"/><path d="M638.66 0h1.28v18.09h-1.28z" fill="#bab6b4"/><path d="M639.34 0h1.28v18.09h-1.28z" fill="#9a9491"/><path d="M640.02 0h1.28v18.09h-1.28z" fill="#c2bebc"/><path d="M640.70 0h1.24v18.09h-1.24z" fill="#d0cdcc"/><path d="M641.34 0h1.24v18.09h-1.24z" fill="#cfcccb"/><path d="M641.98 0h1.24v18.09h-1.24z" fill="#bcb9b7"/><path d="M642.62 0h1.24v18.09h-1.24z" fill="#c3bfbd"/><path d="M643.26 0h1.37v18.09h-1.37z" fill="#b0aca9"/><path d="M644.02 0h1.37v18.09h-1.37z" fill="#bbb8b6"/><path d="M644.79 0h1.37v18.09h-1.37z" fill="#d1cfcd"/><path d="M645.55 0h1.37v18.09h-1.37z" fill="#96908d"/><path d="M646.32 0h1.24v18.09h-1.24z" fill="#d7d4d3"/><path d="M646.96 0h1.24v18.09h-1.24z" fill="#dfdedd"/><path d="M647.60 0h1.24v18.09h-1.24z" fill="#e4e2e1"/><path d="M648.24 0h1.24v18.09h-1.24z" fill="#e2e0df"/><path d="M648.88 0h1.37v18.09h-1.37z" fill="#a19c99"/><path d="M649.64 0h1.37v18.09h-1.37z" fill="#aba6a4"/><path d="M650.41 0h1.37v18.09h-1.37z" fill="#c1bdbc"/><path d="M651.18 0h1.37v18.09h-1.37z" fill="#b0aca9"/><path d="M651.94 0h1.37v18.09h-1.37z" fill="#fbfbfb"/><path d="M652.71 0h1.37v18.09h-1.37z" fill="#ffffff"/><path d="M653.47 0h1.37v18.09h-1.37z" fill="#fefefe"/><path d="M654.24 0h1.37v18.09h-1.37z" fill="#fbfbfb"/><path d="M655.01 0h1.28v18.09h-1.28z" fill="#c1bebc"/><path d="M655.69 0h1.28v18.09h-1.28z" fill="#9d9794"/><path d="M656.37 0h1.28v18.09h-1.28z" fill="#96908d"/><path d="M657.05 0h1.28v18.09h-1.28z" fill="#98938f"/><path d="M657.73 0h1.28v18.09h-1.28z" fill="#817a76"/><path d="M658.41 0h1.28v18.09h-1.28z" fill="#7d7672"/><path d="M659.09 0h1.28v18.09h-1.28z" fill="#aca7a5"/><path d="M659.78 0h1.28v18.09h-1.28z" fill="#88817e"/><path d="M660.46 0h1.28v18.09h-1.28z" fill="#7e7773"/><path d="M661.14 0h1.24v18.09h-1.24z" fill="#c6c2c1"/><path d="M661.78 0h1.24v18.09h-1.24z" fill="#bfbcba"/><path d="M662.42 0h1.24v18.09h-1.24z" fill="#9b9693"/><path d="M663.05 0h1.24v18.09h-1.24z" fill="#b9b5b3"/><path d="M663.69 0h1.37v18.09h-1.37z" fill="#9a9592"/><path d="M664.46 0h1.37v18.09h-1.37z" fill="#88817e"/><path d="M665.23 0h1.28v18.09h-1.28z" fill="#625954"/><path d="M665.91 0h1.28v18.09h-1.28z" fill="#423732"/><path d="M666.59 0h1.28v18.09h-1.28z" fill="#69615d"/><path d="M667.27 0h1.28v18.09h-1.28z" fill="#77706c"/><path d="M667.95 0h1.28v18.09h-1.28z" fill="#706863"/><path d="M668.63 0h1.28v18.09h-1.28z" fill="#665d59"/><path d="M669.31 0h1.24v18.09h-1.24z" fill="#a39e9b"/><path d="M669.95 0h1.24v18.09h-1.24z" fill="#908a86"/><path d="M670.59 0h1.24v18.09h-1.24z" fill="#89837f"/><path d="M671.23 0h1.24v18.09h-1.24z" fill="#98928f"/><path d="M671.87 0h1.37v18.09h-1.37z" fill="#564d48"/><path d="M672.64 0h1.37v18.09h-1.37z" fill="#524843"/><path d="M673.40 0h1.37v18.09h-1.37z" fill="#605752"/><path d="M674.17 0h1.37v18.09h-1.37z" fill="#504641"/><path d="M674.93 0h1.29v18.09h-1.29z" fill="#5d5450"/><path d="M675.62 0h1.29v18.09h-1.29z" fill="#79726e"/><path d="M676.31 0h0.69v18.09h-0.69z" fill="#2a1e18"/></g>
<g transform="translate(0,213.00)"><path d="M538.80 0h0.62v18.09h-0.62z" fill="#ffffff"/><path d="M538.82 0h1.47v18.09h-1.47z" fill="#514742"/><path d="M539.69 0h1.47v18.09h-1.47z" fill="#655d58"/><path d="M540.55 0h1.28v18.09h-1.28z" fill="#453b35"/><path d="M541.24 0h1.28v18.09h-1.28z" fill="#958f8c"/><path d="M541.92 0h1.28v18.09h-1.28z" fill="#7b7470"/><path d="M542.60 0h1.37v18.09h-1.37z" fill="#bab6b4"/><path d="M543.36 0h1.37v18.09h-1.37z" fill="#a7a3a0"/><path d="M544.13 0h1.24v18.09h-1.24z" fill="#6a625d"/><path d="M544.77 0h1.24v18.09h-1.24z" fill="#7b7470"/><path d="M545.41 0h1.24v18.09h-1.24z" fill="#9e9996"/><path d="M546.05 0h1.24v18.09h-1.24z" fill="#948f8b"/><path d="M546.69 0h1.37v18.09h-1.37z" fill="#9a9592"/><path d="M547.45 0h1.37v18.09h-1.37z" fill="#afaaa8"/><path d="M548.22 0h1.24v18.09h-1.24z" fill="#86807c"/><path d="M548.86 0h1.24v18.09h-1.24z" fill="#857e7b"/><path d="M549.50 0h1.24v18.09h-1.24z" fill="#645c57"/><path d="M550.14 0h1.24v18.09h-1.24z" fill="#736c67"/><path d="M550.77 0h1.24v18.09h-1.24z" fill="#89837f"/><path d="M551.41 0h1.24v18.09h-1.24z" fill="#7a736f"/><path d="M552.05 0h1.24v18.09h-1.24z" fill="#7a726e"/><path d="M552.69 0h1.24v18.09h-1.24z" fill="#928c88"/><path d="M553.33 0h1.24v18.09h-1.24z" fill="#625a55"/><path d="M553.97 0h1.24v18.09h-1.24z" fill="#615853"/><path d="M554.61 0h1.24v18.09h-1.24z" fill="#79726e"/><path d="M555.24 0h1.24v18.09h-1.24z" fill="#79726e"/><path d="M555.88 0h1.37v18.09h-1.37z" fill="#9c9794"/><path d="M556.65 0h1.37v18.09h-1.37z" fill="#89837f"/><path d="M557.42 0h1.28v18.09h-1.28z" fill="#5c534e"/><path d="M558.10 0h1.28v18.09h-1.28z" fill="#564d48"/><path d="M558.78 0h1.28v18.09h-1.28z" fill="#5f5752"/><path d="M559.46 0h1.28v18.09h-1.28z" fill="#8e8884"/><path d="M560.14 0h1.28v18.09h-1.28z" fill="#6e6662"/><path d="M560.82 0h1.28v18.09h-1.28z" fill="#776f6b"/><path d="M561.50 0h1.37v18.09h-1.37z" fill="#4a403a"/><path d="M562.27 0h1.37v18.09h-1.37z" fill="#615954"/><path d="M563.04 0h1.37v18.09h-1.37z" fill="#554c47"/><path d="M563.80 0h1.37v18.09h-1.37z" fill="#7c7571"/><path d="M564.57 0h1.37v18.09h-1.37z" fill="#c4c1bf"/><path d="M565.34 0h1.37v18.09h-1.37z" fill="#aba6a4"/><path d="M566.10 0h1.28v18.09h-1.28z" fill="#cfcdcb"/><path d="M566.78 0h1.28v18.09h-1.28z" fill="#e7e6e5"/><path d="M567.46 0h1.28v18.09h-1.28z" fill="#c1bdbb"/><path d="M568.15 0h1.24v18.09h-1.24z" fill="#f9f9f9"/><path d="M568.78 0h1.24v18.09h-1.24z" fill="#cecbc9"/><path d="M569.42 0h1.24v18.09h-1.24z" fill="#dfdddc"/><path d="M570.06 0h1.24v18.09h-1.24z" fill="#edeceb"/><path d="M570.70 0h1.24v18.09h-1.24z" fill="#aca8a5"/><path d="M571.34 0h1.24v18.09h-1.24z" fill="#8a8480"/><path d="M571.98 0h1.24v18.09h-1.24z" fill="#9a9491"/><path d="M572.62 0h1.24v18.09h-1.24z" fill="#aca8a5"/><path d="M573.26 0h1.28v18.09h-1.28z" fill="#564d48"/><path d="M573.94 0h1.28v18.09h-1.28z" fill="#98928f"/><path d="M574.62 0h1.28v18.09h-1.28z" fill="#675f5b"/><path d="M575.30 0h1.28v18.09h-1.28z" fill="#78716c"/><path d="M575.98 0h1.28v18.09h-1.28z" fill="#aca7a5"/><path d="M576.66 0h1.28v18.09h-1.28z" fill="#706864"/><path d="M577.34 0h1.24v18.09h-1.24z" fill="#a6a19e"/><path d="M577.98 0h1.24v18.09h-1.24z" fill="#aca7a4"/><path d="M578.62 0h1.24v18.09h-1.24z" fill="#9d9895"/><path d="M579.26 0h1.24v18.09h-1.24z" fill="#8c8682"/><path d="M579.90 0h1.37v18.09h-1.37z" fill="#b3afad"/><path d="M580.66 0h1.37v18.09h-1.37z" fill="#d6d4d3"/><path d="M581.43 0h1.28v18.09h-1.28z" fill="#a6a19e"/><path d="M582.11 0h1.28v18.09h-1.28z" fill="#c4c1bf"/><path d="M582.79 0h1.28v18.09h-1.28z" fill="#aea9a7"/><path d="M583.47 0h1.24v18.09h-1.24z" fill="#e9e8e7"/><path d="M584.11 0h1.24v18.09h-1.24z" fill="#c7c4c3"/><path d="M584.75 0h1.24v18.09h-1.24z" fill="#d6d3d2"/><path d="M585.39 0h1.24v18.09h-1.24z" fill="#e4e3e2"/><path d="M586.03 0h1.28v18.09h-1.28z" fill="#a39e9b"/><path d="M586.71 0h1.28v18.09h-1.28z" fill="#b7b3b1"/><path d="M587.39 0h1.28v18.09h-1.28z" fill="#a29d9a"/><path d="M588.07 0h1.24v18.09h-1.24z" fill="#827c78"/><path d="M588.71 0h1.24v18.09h-1.24z" fill="#908986"/><path d="M589.35 0h1.24v18.09h-1.24z" fill="#716965"/><path d="M589.99 0h1.24v18.09h-1.24z" fill="#bbb7b5"/><path d="M590.63 0h1.37v18.09h-1.37z" fill="#9b9592"/><path d="M591.39 0h1.37v18.09h-1.37z" fill="#d0cecc"/><path d="M592.16 0h1.37v18.09h-1.37z" fill="#d2cfce"/><path d="M592.93 0h1.37v18.09h-1.37z" fill="#afaaa8"/><path d="M593.69 0h1.37v18.09h-1.37z" fill="#a8a3a1"/><path d="M594.46 0h1.37v18.09h-1.37z" fill="#b3afad"/><path d="M595.23 0h1.37v18.09h-1.37z" fill="#a7a2a0"/><path d="M595.99 0h1.37v18.09h-1.37z" fill="#ada8a6"/><path d="M596.76 0h1.24v18.09h-1.24z" fill="#8b8481"/><path d="M597.40 0h1.24v18.09h-1.24z" fill="#9b9693"/><path d="M598.04 0h1.24v18.09h-1.24z" fill="#87807c"/><path d="M598.68 0h1.24v18.09h-1.24z" fill="#7b7470"/><path d="M599.31 0h1.28v18.09h-1.28z" fill="#cecbc9"/><path d="M600.00 0h1.28v18.09h-1.28z" fill="#e0dfde"/><path d="M600.68 0h1.28v18.09h-1.28z" fill="#d8d5d4"/><path d="M601.36 0h1.28v18.09h-1.28z" fill="#7c7571"/><path d="M602.04 0h1.28v18.09h-1.28z" fill="#6d6561"/><path d="M602.72 0h1.28v18.09h-1.28z" fill="#78706c"/><path d="M603.40 0h1.28v18.09h-1.28z" fill="#c2bfbd"/><path d="M604.08 0h1.28v18.09h-1.28z" fill="#cfcdcb"/><path d="M604.76 0h1.28v18.09h-1.28z" fill="#d4d1d0"/><path d="M605.45 0h1.24v18.09h-1.24z" fill="#9a9491"/><path d="M606.08 0h1.24v18.09h-1.24z" fill="#c7c4c3"/><path d="M606.72 0h1.24v18.09h-1.24z" fill="#847d79"/><path d="M607.36 0h1.24v18.09h-1.24z" fill="#b6b3b0"/><path d="M608.00 0h1.37v18.09h-1.37z" fill="#8b8481"/><path d="M608.77 0h1.37v18.09h-1.37z" fill="#a5a09e"/><path d="M609.53 0h1.28v18.09h-1.28z" fill="#c8c5c3"/><path d="M610.21 0h1.28v18.09h-1.28z" fill="#e2e1e0"/><path d="M610.90 0h1.28v18.09h-1.28z" fill="#c3bfbd"/><path d="M611.58 0h1.24v18.09h-1.24z" fill="#827b77"/><path d="M612.22 0h1.24v18.09h-1.24z" fill="#8d8783"/><path d="M612.85 0h1.24v18.09h-1.24z" fill="#928c89"/><path d="M613.49 0h1.24v18.09h-1.24z" fill="#7e7773"/><path d="M614.13 0h1.24v18.09h-1.24z" fill="#96908d"/><path d="M614.77 0h1.24v18.09h-1.24z" fill="#69615d"/><path d="M615.41 0h1.24v18.09h-1.24z" fill="#7a726e"/><path d="M616.05 0h1.24v18.09h-1.24z" fill="#807976"/><path d="M616.69 0h1.24v18.09h-1.24z" fill="#8f8885"/><path d="M617.32 0h1.24v18.09h-1.24z" fill="#a6a19e"/><path d="M617.96 0h1.24v18.09h-1.24z" fill="#7f7874"/><path d="M618.60 0h1.24v18.09h-1.24z" fill="#a49f9d"/><path d="M619.24 0h1.24v18.09h-1.24z" fill="#ffffff"/><path d="M619.88 0h1.24v18.09h-1.24z" fill="#edeceb"/><path d="M620.52 0h1.24v18.09h-1.24z" fill="#ffffff"/><path d="M621.16 0h1.24v18.09h-1.24z" fill="#cdcac9"/><path d="M621.80 0h1.28v18.09h-1.28z" fill="#736b67"/><path d="M622.48 0h1.28v18.09h-1.28z" fill="#625955"/><path d="M623.16 0h1.28v18.09h-1.28z" fill="#423731"/><path d="M623.84 0h1.37v18.09h-1.37z" fill="#100300"/><path d="M624.61 0h1.37v18.09h-1.37z" fill="#443934"/><path d="M625.37 0h1.28v18.09h-1.28z" fill="#bcb8b6"/><path d="M626.05 0h1.28v18.09h-1.28z" fill="#a29d9a"/><path d="M626.73 0h1.28v18.09h-1.28z" fill="#d3d0cf"/><path d="M627.42 0h1.24v18.09h-1.24z" fill="#655c57"/><path d="M628.05 0h1.24v18.09h-1.24z" fill="#766e6a"/><path d="M628.69 0h1.24v18.09h-1.24z" fill="#746c68"/><path d="M629.33 0h1.24v18.09h-1.24z" fill="#9a9491"/><path d="M629.97 0h1.28v18.09h-1.28z" fill="#706864"/><path d="M630.65 0h1.28v18.09h-1.28z" fill="#a39e9b"/><path d="M631.33 0h1.28v18.09h-1.28z" fill="#e2e1e0"/><path d="M632.01 0h1.24v18.09h-1.24z" fill="#756d69"/><path d="M632.65 0h1.24v18.09h-1.24z" fill="#7a736f"/><path d="M633.29 0h1.24v18.09h-1.24z" fill="#736b67"/><path d="M633.93 0h1.24v18.09h-1.24z" fill="#857e7b"/><path d="M634.57 0h1.28v18.09h-1.28z" fill="#544a45"/><path d="M635.25 0h1.28v18.09h-1.28z" fill="#574e49"/><path d="M635.93 0h1.28v18.09h-1.28z" fill="#352a24"/><path d="M636.61 0h1.28v18.09h-1.28z" fill="#4b413c"/><path d="M637.29 0h1.28v18.09h-1.28z" fill="#554b46"/><path d="M637.98 0h1.28v18.09h-1.28z" fill="#4b423c"/><path d="M638.66 0h1.24v18.09h-1.24z" fill="#7f7874"/><path d="M639.30 0h1.24v18.09h-1.24z" fill="#89837f"/><path d="M639.93 0h1.24v18.09h-1.24z" fill="#8f8985"/><path d="M640.57 0h1.24v18.09h-1.24z" fill="#79726e"/><path d="M641.21 0h1.24v18.09h-1.24z" fill="#9c9794"/><path d="M641.85 0h1.24v18.09h-1.24z" fill="#89837f"/><path d="M642.49 0h1.24v18.09h-1.24z" fill="#8a8380"/><path d="M643.13 0h1.24v18.09h-1.24z" fill="#9f9a97"/><path d="M643.77 0h1.37v18.09h-1.37z" fill="#493f39"/><path d="M644.53 0h1.37v18.09h-1.37z" fill="#79726e"/><path d="M645.30 0h1.37v18.09h-1.37z" fill="#716965"/><path d="M646.07 0h1.37v18.09h-1.37z" fill="#867f7b"/><path d="M646.83 0h1.37v18.09h-1.37z" fill="#78716c"/><path d="M647.60 0h1.37v18.09h-1.37z" fill="#766f6b"/><path d="M648.36 0h1.32v18.09h-1.32z" fill="#6b635f"/><path d="M649.08 0h1.32v18.09h-1.32z" fill="#40352f"/><path d="M649.80 0h1.32v18.09h-1.32z" fill="#7e7773"/><path d="M650.51 0h1.32v18.09h-1.32z" fill="#413731"/><path d="M651.23 0h1.32v18.09h-1.32z" fill="#706864"/><path d="M651.94 0h1.37v18.09h-1.37z" fill="#79716d"/><path d="M652.71 0h1.37v18.09h-1.37z" fill="#78716d"/><path d="M653.47 0h1.37v18.09h-1.37z" fill="#857e7a"/><path d="M654.24 0h1.37v18.09h-1.37z" fill="#98928f"/><path d="M655.01 0h1.28v18.09h-1.28z" fill="#a39e9b"/><path d="M655.69 0h1.28v18.09h-1.28z" fill="#928c88"/><path d="M656.37 0h1.28v18.09h-1.28z" fill="#a09a98"/><path d="M657.05 0h1.37v18.09h-1.37z" fill="#928c88"/><path d="M657.82 0h1.37v18.09h-1.37z" fill="#6a625d"/><path d="M658.58 0h1.37v18.09h-1.37z" fill="#847d79"/><path d="M659.35 0h1.37v18.09h-1.37z" fill="#97918e"/><path d="M660.12 0h1.24v18.09h-1.24z" fill="#857e7a"/><path d="M660.76 0h1.24v18.09h-1.24z" fill="#8e8884"/><path d="M661.39 0h1.24v18.09h-1.24z" fill="#a39e9b"/><path d="M662.03 0h1.24v18.09h-1.24z" fill="#857e7b"/><path d="M662.67 0h1.28v18.09h-1.28z" fill="#d1cecd"/><path d="M663.35 0h1.28v18.09h-1.28z" fill="#ccc9c7"/><path d="M664.03 0h1.28v18.09h-1.28z" fill="#d6d4d3"/><path d="M664.72 0h1.24v18.09h-1.24z" fill="#433833"/><path d="M665.35 0h1.24v18.09h-1.24z" fill="#382d27"/><path d="M665.99 0h1.24v18.09h-1.24z" fill="#6f6762"/><path d="M666.63 0h1.24v18.09h-1.24z" fill="#493f3a"/><path d="M667.27 0h1.28v18.09h-1.28z" fill="#7e7773"/><path d="M667.95 0h1.28v18.09h-1.28z" fill="#a29d9a"/><path d="M668.63 0h1.28v18.09h-1.28z" fill="#857f7b"/><path d="M669.31 0h1.37v18.09h-1.37z" fill="#a5a09e"/><path d="M670.08 0h1.37v18.09h-1.37z" fill="#938d8a"/><path d="M670.85 0h1.24v18.09h-1.24z" fill="#534a45"/><path d="M671.49 0h1.24v18.09h-1.24z" fill="#605753"/><path d="M672.12 0h1.24v18.09h-1.24z" fill="#6d6561"/><path d="M672.76 0h1.24v18.09h-1.24z" fill="#685f5b"/><path d="M673.40 0h1.32v18.09h-1.32z" fill="#20140d"/><path d="M674.12 0h1.32v18.09h-1.32z" fill="#322720"/><path d="M674.84 0h1.32v18.09h-1.32z" fill="#463c36"/><path d="M675.56 0h1.32v18.09h-1.32z" fill="#271c15"/><path d="M676.28 0h0.72v18.09h-0.72z" fill="#261a14"/></g>
<g transform="translate(0,231.49)"><path d="M538.80 0h0.62v18.09h-0.62z" fill="#ffffff"/><path d="M538.82 0h1.47v18.09h-1.47z" fill="#b5b1af"/><path d="M539.69 0h1.47v18.09h-1.47z" fill="#88827e"/><path d="M540.55 0h1.28v18.09h-1.28z" fill="#8e8884"/><path d="M541.24 0h1.28v18.09h-1.28z" fill="#8c8682"/><path d="M541.92 0h1.28v18.09h-1.28z" fill="#716965"/><path d="M542.60 0h1.37v18.09h-1.37z" fill="#918a87"/><path d="M543.36 0h1.37v18.09h-1.37z" fill="#a39e9c"/><path d="M544.13 0h1.37v18.09h-1.37z" fill="#807975"/><path d="M544.90 0h1.37v18.09h-1.37z" fill="#7b736f"/><path d="M545.66 0h1.28v18.09h-1.28z" fill="#e7e6e5"/><path d="M546.35 0h1.28v18.09h-1.28z" fill="#ffffff"/><path d="M547.03 0h1.28v18.09h-1.28z" fill="#f8f8f8"/><path d="M547.71 0h1.37v18.09h-1.37z" fill="#b8b4b2"/><path d="M548.47 0h1.37v18.09h-1.37z" fill="#9e9996"/><path d="M549.24 0h1.32v18.09h-1.32z" fill="#87817d"/><path d="M549.96 0h1.32v18.09h-1.32z" fill="#625955"/><path d="M550.67 0h1.32v18.09h-1.32z" fill="#756d69"/><path d="M551.39 0h1.32v18.09h-1.32z" fill="#87807c"/><path d="M552.10 0h1.32v18.09h-1.32z" fill="#9d9895"/><path d="M552.82 0h1.37v18.09h-1.37z" fill="#b4b0ae"/><path d="M553.58 0h1.37v18.09h-1.37z" fill="#aca8a5"/><path d="M554.35 0h1.28v18.09h-1.28z" fill="#f1f0ef"/><path d="M555.03 0h1.28v18.09h-1.28z" fill="#dfdddc"/><path d="M555.71 0h1.28v18.09h-1.28z" fill="#fefefe"/><path d="M556.39 0h1.28v18.09h-1.28z" fill="#c0bdbb"/><path d="M557.08 0h1.28v18.09h-1.28z" fill="#ada9a6"/><path d="M557.76 0h1.28v18.09h-1.28z" fill="#9e9996"/><path d="M558.44 0h1.37v18.09h-1.37z" fill="#b3afac"/><path d="M559.20 0h1.37v18.09h-1.37z" fill="#a5a09d"/><path d="M559.97 0h1.28v18.09h-1.28z" fill="#999490"/><path d="M560.65 0h1.28v18.09h-1.28z" fill="#7e7773"/><path d="M561.33 0h1.28v18.09h-1.28z" fill="#95908d"/><path d="M562.01 0h1.28v18.09h-1.28z" fill="#635a55"/><path d="M562.70 0h1.28v18.09h-1.28z" fill="#837d79"/><path d="M563.38 0h1.28v18.09h-1.28z" fill="#857e7a"/><path d="M564.06 0h1.28v18.09h-1.28z" fill="#ceccca"/><path d="M564.74 0h1.28v18.09h-1.28z" fill="#c6c3c2"/><path d="M565.42 0h1.28v18.09h-1.28z" fill="#ffffff"/><path d="M566.10 0h1.32v18.09h-1.32z" fill="#d4d1d0"/><path d="M566.82 0h1.32v18.09h-1.32z" fill="#cdcac9"/><path d="M567.53 0h1.32v18.09h-1.32z" fill="#a6a19e"/><path d="M568.25 0h1.32v18.09h-1.32z" fill="#d0cdcc"/><path d="M568.96 0h1.32v18.09h-1.32z" fill="#bfbcba"/><path d="M569.68 0h1.37v18.09h-1.37z" fill="#b4b0ad"/><path d="M570.45 0h1.37v18.09h-1.37z" fill="#8f8885"/><path d="M571.21 0h1.24v18.09h-1.24z" fill="#706864"/><path d="M571.85 0h1.24v18.09h-1.24z" fill="#605752"/><path d="M572.49 0h1.24v18.09h-1.24z" fill="#564d48"/><path d="M573.13 0h1.24v18.09h-1.24z" fill="#534a44"/><path d="M573.77 0h1.28v18.09h-1.28z" fill="#89837f"/><path d="M574.45 0h1.28v18.09h-1.28z" fill="#918b88"/><path d="M575.13 0h1.28v18.09h-1.28z" fill="#afaba8"/><path d="M575.81 0h1.37v18.09h-1.37z" fill="#f8f8f8"/><path d="M576.58 0h1.37v18.09h-1.37z" fill="#c6c2c1"/><path d="M577.34 0h1.24v18.09h-1.24z" fill="#514742"/><path d="M577.98 0h1.24v18.09h-1.24z" fill="#847d79"/><path d="M578.62 0h1.24v18.09h-1.24z" fill="#867f7b"/><path d="M579.26 0h1.24v18.09h-1.24z" fill="#766e6a"/><path d="M579.90 0h1.33v18.09h-1.33z" fill="#7e7773"/><path d="M580.63 0h1.33v18.09h-1.33z" fill="#837c78"/><path d="M581.36 0h1.33v18.09h-1.33z" fill="#948e8b"/><path d="M582.09 0h1.33v18.09h-1.33z" fill="#948e8b"/><path d="M582.82 0h1.33v18.09h-1.33z" fill="#6e6662"/><path d="M583.55 0h1.33v18.09h-1.33z" fill="#8e8884"/><path d="M584.28 0h1.33v18.09h-1.33z" fill="#7c7571"/><path d="M585.01 0h1.24v18.09h-1.24z" fill="#6a625e"/><path d="M585.65 0h1.24v18.09h-1.24z" fill="#7f7875"/><path d="M586.28 0h1.24v18.09h-1.24z" fill="#6d6560"/><path d="M586.92 0h1.24v18.09h-1.24z" fill="#827b77"/><path d="M587.56 0h1.28v18.09h-1.28z" fill="#867f7c"/><path d="M588.24 0h1.28v18.09h-1.28z" fill="#c2bfbd"/><path d="M588.92 0h1.28v18.09h-1.28z" fill="#bcb8b6"/><path d="M589.61 0h1.37v18.09h-1.37z" fill="#b8b4b2"/><path d="M590.37 0h1.37v18.09h-1.37z" fill="#b0acaa"/><path d="M591.14 0h1.37v18.09h-1.37z" fill="#a19c9a"/><path d="M591.91 0h1.37v18.09h-1.37z" fill="#aaa6a3"/><path d="M592.67 0h1.37v18.09h-1.37z" fill="#fefefe"/><path d="M593.44 0h1.37v18.09h-1.37z" fill="#e3e1e0"/><path d="M594.20 0h1.28v18.09h-1.28z" fill="#69605c"/><path d="M594.89 0h1.28v18.09h-1.28z" fill="#5e5550"/><path d="M595.57 0h1.28v18.09h-1.28z" fill="#5e5550"/><path d="M596.25 0h1.28v18.09h-1.28z" fill="#6f6763"/><path d="M596.93 0h1.28v18.09h-1.28z" fill="#8d8783"/><path d="M597.61 0h1.28v18.09h-1.28z" fill="#9a9491"/><path d="M598.29 0h1.33v18.09h-1.33z" fill="#483e38"/><path d="M599.02 0h1.33v18.09h-1.33z" fill="#69615c"/><path d="M599.75 0h1.33v18.09h-1.33z" fill="#544a45"/><path d="M600.48 0h1.33v18.09h-1.33z" fill="#635b56"/><path d="M601.21 0h1.33v18.09h-1.33z" fill="#4a403b"/><path d="M601.94 0h1.33v18.09h-1.33z" fill="#6c6460"/><path d="M602.67 0h1.33v18.09h-1.33z" fill="#7e7773"/><path d="M603.40 0h1.28v18.09h-1.28z" fill="#726a66"/><path d="M604.08 0h1.28v18.09h-1.28z" fill="#78706c"/><path d="M604.76 0h1.28v18.09h-1.28z" fill="#908a87"/><path d="M605.45 0h1.24v18.09h-1.24z" fill="#918b88"/><path d="M606.08 0h1.24v18.09h-1.24z" fill="#857e7b"/><path d="M606.72 0h1.24v18.09h-1.24z" fill="#6c6460"/><path d="M607.36 0h1.24v18.09h-1.24z" fill="#948e8b"/><path d="M608.00 0h1.28v18.09h-1.28z" fill="#8b8581"/><path d="M608.68 0h1.28v18.09h-1.28z" fill="#655d58"/><path d="M609.36 0h1.28v18.09h-1.28z" fill="#706864"/><path d="M610.04 0h1.24v18.09h-1.24z" fill="#5e5550"/><path d="M610.68 0h1.24v18.09h-1.24z" fill="#867f7c"/><path d="M611.32 0h1.24v18.09h-1.24z" fill="#8c8682"/><path d="M611.96 0h1.24v18.09h-1.24z" fill="#827b78"/><path d="M612.60 0h1.28v18.09h-1.28z" fill="#f8f8f8"/><path d="M613.28 0h1.28v18.09h-1.28z" fill="#f6f6f5"/><path d="M613.96 0h1.28v18.09h-1.28z" fill="#f7f7f6"/><path d="M614.64 0h1.24v18.09h-1.24z" fill="#8b8481"/><path d="M615.28 0h1.24v18.09h-1.24z" fill="#5c534e"/><path d="M615.92 0h1.24v18.09h-1.24z" fill="#8d8784"/><path d="M616.56 0h1.24v18.09h-1.24z" fill="#584f4a"/><path d="M617.20 0h1.28v18.09h-1.28z" fill="#c2bebc"/><path d="M617.88 0h1.28v18.09h-1.28z" fill="#a6a19e"/><path d="M618.56 0h1.28v18.09h-1.28z" fill="#b5b1af"/><path d="M619.24 0h1.28v18.09h-1.28z" fill="#8c8682"/><path d="M619.92 0h1.28v18.09h-1.28z" fill="#9a9592"/><path d="M620.60 0h1.28v18.09h-1.28z" fill="#c0bcba"/><path d="M621.28 0h1.28v18.09h-1.28z" fill="#a39e9b"/><path d="M621.97 0h1.28v18.09h-1.28z" fill="#c5c1c0"/><path d="M622.65 0h1.28v18.09h-1.28z" fill="#d9d7d6"/><path d="M623.33 0h1.24v18.09h-1.24z" fill="#9b9592"/><path d="M623.97 0h1.24v18.09h-1.24z" fill="#645b57"/><path d="M624.61 0h1.24v18.09h-1.24z" fill="#7f7874"/><path d="M625.24 0h1.24v18.09h-1.24z" fill="#8f8986"/><path d="M625.88 0h1.28v18.09h-1.28z" fill="#86807c"/><path d="M626.56 0h1.28v18.09h-1.28z" fill="#918b88"/><path d="M627.25 0h1.28v18.09h-1.28z" fill="#96908d"/><path d="M627.93 0h1.28v18.09h-1.28z" fill="#7f7874"/><path d="M628.61 0h1.28v18.09h-1.28z" fill="#746c68"/><path d="M629.29 0h1.28v18.09h-1.28z" fill="#736b67"/><path d="M629.97 0h1.28v18.09h-1.28z" fill="#9c9794"/><path d="M630.65 0h1.28v18.09h-1.28z" fill="#9f9a97"/><path d="M631.33 0h1.28v18.09h-1.28z" fill="#d5d3d2"/><path d="M632.01 0h1.37v18.09h-1.37z" fill="#77706c"/><path d="M632.78 0h1.37v18.09h-1.37z" fill="#89837f"/><path d="M633.55 0h1.28v18.09h-1.28z" fill="#dedcdb"/><path d="M634.23 0h1.28v18.09h-1.28z" fill="#edecec"/><path d="M634.91 0h1.28v18.09h-1.28z" fill="#dad8d7"/><path d="M635.59 0h1.37v18.09h-1.37z" fill="#8d8683"/><path d="M636.36 0h1.37v18.09h-1.37z" fill="#6f6763"/><path d="M637.12 0h1.37v18.09h-1.37z" fill="#726b66"/><path d="M637.89 0h1.37v18.09h-1.37z" fill="#5f5651"/><path d="M638.66 0h1.37v18.09h-1.37z" fill="#87817d"/><path d="M639.42 0h1.37v18.09h-1.37z" fill="#716965"/><path d="M640.19 0h1.37v18.09h-1.37z" fill="#8b8481"/><path d="M640.96 0h1.37v18.09h-1.37z" fill="#9b9592"/><path d="M641.72 0h1.28v18.09h-1.28z" fill="#534944"/><path d="M642.40 0h1.28v18.09h-1.28z" fill="#9a9491"/><path d="M643.09 0h1.28v18.09h-1.28z" fill="#857e7a"/><path d="M643.77 0h1.37v18.09h-1.37z" fill="#584f4a"/><path d="M644.53 0h1.37v18.09h-1.37z" fill="#4d433d"/><path d="M645.30 0h1.37v18.09h-1.37z" fill="#69605c"/><path d="M646.07 0h1.37v18.09h-1.37z" fill="#5d544f"/><path d="M646.83 0h1.37v18.09h-1.37z" fill="#4c423c"/><path d="M647.60 0h1.37v18.09h-1.37z" fill="#584e49"/><path d="M648.36 0h1.24v18.09h-1.24z" fill="#938d8a"/><path d="M649.00 0h1.24v18.09h-1.24z" fill="#807975"/><path d="M649.64 0h1.24v18.09h-1.24z" fill="#aca8a5"/><path d="M650.28 0h1.24v18.09h-1.24z" fill="#756e6a"/><path d="M650.92 0h1.37v18.09h-1.37z" fill="#eeeeed"/><path d="M651.69 0h1.37v18.09h-1.37z" fill="#d3d1cf"/><path d="M652.45 0h1.24v18.09h-1.24z" fill="#a8a3a1"/><path d="M653.09 0h1.24v18.09h-1.24z" fill="#a5a09d"/><path d="M653.73 0h1.24v18.09h-1.24z" fill="#ada8a6"/><path d="M654.37 0h1.24v18.09h-1.24z" fill="#c9c6c4"/><path d="M655.01 0h1.28v18.09h-1.28z" fill="#87817d"/><path d="M655.69 0h1.28v18.09h-1.28z" fill="#9c9794"/><path d="M656.37 0h1.28v18.09h-1.28z" fill="#999390"/><path d="M657.05 0h1.28v18.09h-1.28z" fill="#7a726e"/><path d="M657.73 0h1.28v18.09h-1.28z" fill="#5e5550"/><path d="M658.41 0h1.28v18.09h-1.28z" fill="#756d69"/><path d="M659.09 0h1.37v18.09h-1.37z" fill="#97918e"/><path d="M659.86 0h1.37v18.09h-1.37z" fill="#cfcccb"/><path d="M660.63 0h1.24v18.09h-1.24z" fill="#aeaaa8"/><path d="M661.27 0h1.24v18.09h-1.24z" fill="#948e8b"/><path d="M661.91 0h1.24v18.09h-1.24z" fill="#9b9693"/><path d="M662.54 0h1.24v18.09h-1.24z" fill="#908a87"/><path d="M663.18 0h1.28v18.09h-1.28z" fill="#9d9895"/><path d="M663.86 0h1.28v18.09h-1.28z" fill="#bcb8b6"/><path d="M664.55 0h1.28v18.09h-1.28z" fill="#d5d2d1"/><path d="M665.23 0h1.28v18.09h-1.28z" fill="#9e9996"/><path d="M665.91 0h1.28v18.09h-1.28z" fill="#8f8986"/><path d="M666.59 0h1.28v18.09h-1.28z" fill="#655d58"/><path d="M667.27 0h1.28v18.09h-1.28z" fill="#938d8a"/><path d="M667.95 0h1.28v18.09h-1.28z" fill="#9f9a97"/><path d="M668.63 0h1.28v18.09h-1.28z" fill="#a19c99"/><path d="M669.31 0h1.28v18.09h-1.28z" fill="#b2adab"/><path d="M670.00 0h1.28v18.09h-1.28z" fill="#524943"/><path d="M670.68 0h1.28v18.09h-1.28z" fill="#7f7874"/><path d="M671.36 0h1.28v18.09h-1.28z" fill="#dfdddc"/><path d="M672.04 0h1.28v18.09h-1.28z" fill="#c6c3c1"/><path d="M672.72 0h1.28v18.09h-1.28z" fill="#d6d4d3"/><path d="M673.40 0h1.32v18.09h-1.32z" fill="#8c8682"/><path d="M674.12 0h1.32v18.09h-1.32z" fill="#69615c"/><path d="M674.84 0h1.32v18.09h-1.32z" fill="#817b77"/><path d="M675.56 0h1.32v18.09h-1.32z" fill="#615954"/><path d="M676.28 0h0.72v18.09h-0.72z" fill="#433833"/></g>
<g transform="translate(0,249.98)"><path d="M538.80 0h0.62v18.09h-0.62z" fill="#ffffff"/><path d="M538.82 0h1.35v18.09h-1.35z" fill="#9b9693"/><path d="M539.57 0h1.35v18.09h-1.35z" fill="#9b9693"/><path d="M540.32 0h1.35v18.09h-1.35z" fill="#a29c9a"/><path d="M541.07 0h1.37v18.09h-1.37z" fill="#958f8c"/><path d="M541.83 0h1.37v18.09h-1.37z" fill="#b7b3b0"/><path d="M542.60 0h1.37v18.09h-1.37z" fill="#514842"/><path d="M543.36 0h1.37v18.09h-1.37z" fill="#958f8c"/><path d="M544.13 0h1.37v18.09h-1.37z" fill="#766e6a"/><path d="M544.90 0h1.37v18.09h-1.37z" fill="#918b88"/><path d="M545.66 0h1.28v18.09h-1.28z" fill="#5c534e"/><path d="M546.35 0h1.28v18.09h-1.28z" fill="#78716d"/><path d="M547.03 0h1.28v18.09h-1.28z" fill="#86807c"/><path d="M547.71 0h1.28v18.09h-1.28z" fill="#b5b1af"/><path d="M548.39 0h1.28v18.09h-1.28z" fill="#958f8c"/><path d="M549.07 0h1.28v18.09h-1.28z" fill="#bcb8b6"/><path d="M549.75 0h1.37v18.09h-1.37z" fill="#847d79"/><path d="M550.52 0h1.37v18.09h-1.37z" fill="#9a9592"/><path d="M551.28 0h1.28v18.09h-1.28z" fill="#a8a4a1"/><path d="M551.97 0h1.28v18.09h-1.28z" fill="#938e8a"/><path d="M552.65 0h1.28v18.09h-1.28z" fill="#aba6a3"/><path d="M553.33 0h1.24v18.09h-1.24z" fill="#7e7773"/><path d="M553.97 0h1.24v18.09h-1.24z" fill="#7d7672"/><path d="M554.61 0h1.24v18.09h-1.24z" fill="#665d59"/><path d="M555.24 0h1.24v18.09h-1.24z" fill="#948e8b"/><path d="M555.88 0h1.37v18.09h-1.37z" fill="#bab6b4"/><path d="M556.65 0h1.37v18.09h-1.37z" fill="#89827f"/><path d="M557.42 0h1.37v18.09h-1.37z" fill="#9b9592"/><path d="M558.18 0h1.37v18.09h-1.37z" fill="#807975"/><path d="M558.95 0h1.28v18.09h-1.28z" fill="#655d58"/><path d="M559.63 0h1.28v18.09h-1.28z" fill="#736c68"/><path d="M560.31 0h1.28v18.09h-1.28z" fill="#5c534e"/><path d="M560.99 0h1.28v18.09h-1.28z" fill="#9e9996"/><path d="M561.67 0h1.28v18.09h-1.28z" fill="#9f9997"/><path d="M562.36 0h1.28v18.09h-1.28z" fill="#8d8683"/><path d="M563.04 0h1.28v18.09h-1.28z" fill="#564d48"/><path d="M563.72 0h1.28v18.09h-1.28z" fill="#241812"/><path d="M564.40 0h1.28v18.09h-1.28z" fill="#433933"/><path d="M565.08 0h1.24v18.09h-1.24z" fill="#817a76"/><path d="M565.72 0h1.24v18.09h-1.24z" fill="#8b8581"/><path d="M566.36 0h1.24v18.09h-1.24z" fill="#98928f"/><path d="M567.00 0h1.24v18.09h-1.24z" fill="#79726e"/><path d="M567.64 0h1.28v18.09h-1.28z" fill="#59504b"/><path d="M568.32 0h1.28v18.09h-1.28z" fill="#625954"/><path d="M569.00 0h1.28v18.09h-1.28z" fill="#645c57"/><path d="M569.68 0h1.37v18.09h-1.37z" fill="#96918e"/><path d="M570.45 0h1.37v18.09h-1.37z" fill="#8c8683"/><path d="M571.21 0h1.28v18.09h-1.28z" fill="#837d79"/><path d="M571.89 0h1.28v18.09h-1.28z" fill="#655d58"/><path d="M572.57 0h1.28v18.09h-1.28z" fill="#7d7672"/><path d="M573.26 0h1.37v18.09h-1.37z" fill="#a9a4a2"/><path d="M574.02 0h1.37v18.09h-1.37z" fill="#a7a3a0"/><path d="M574.79 0h1.37v18.09h-1.37z" fill="#bebab8"/><path d="M575.55 0h1.37v18.09h-1.37z" fill="#b1acaa"/><path d="M576.32 0h1.37v18.09h-1.37z" fill="#d5d3d1"/><path d="M577.09 0h1.37v18.09h-1.37z" fill="#efeeed"/><path d="M577.85 0h1.24v18.09h-1.24z" fill="#635b56"/><path d="M578.49 0h1.24v18.09h-1.24z" fill="#4f4540"/><path d="M579.13 0h1.24v18.09h-1.24z" fill="#605752"/><path d="M579.77 0h1.24v18.09h-1.24z" fill="#7f7874"/><path d="M580.41 0h1.28v18.09h-1.28z" fill="#736b67"/><path d="M581.09 0h1.28v18.09h-1.28z" fill="#766e6a"/><path d="M581.77 0h1.28v18.09h-1.28z" fill="#908a87"/><path d="M582.45 0h1.28v18.09h-1.28z" fill="#a6a19e"/><path d="M583.13 0h1.28v18.09h-1.28z" fill="#6c645f"/><path d="M583.82 0h1.28v18.09h-1.28z" fill="#8a8480"/><path d="M584.50 0h1.24v18.09h-1.24z" fill="#c8c5c3"/><path d="M585.14 0h1.24v18.09h-1.24z" fill="#9e9996"/><path d="M585.77 0h1.24v18.09h-1.24z" fill="#9b9693"/><path d="M586.41 0h1.24v18.09h-1.24z" fill="#a49f9c"/><path d="M587.05 0h1.28v18.09h-1.28z" fill="#6f6763"/><path d="M587.73 0h1.28v18.09h-1.28z" fill="#7d7672"/><path d="M588.41 0h1.28v18.09h-1.28z" fill="#655c57"/><path d="M589.09 0h1.37v18.09h-1.37z" fill="#bcb8b6"/><path d="M589.86 0h1.37v18.09h-1.37z" fill="#bfbbb9"/><path d="M590.63 0h1.37v18.09h-1.37z" fill="#b1acaa"/><path d="M591.39 0h1.37v18.09h-1.37z" fill="#6b635e"/><path d="M592.16 0h1.28v18.09h-1.28z" fill="#dddbda"/><path d="M592.84 0h1.28v18.09h-1.28z" fill="#cbc8c7"/><path d="M593.52 0h1.28v18.09h-1.28z" fill="#dad8d7"/><path d="M594.20 0h1.24v18.09h-1.24z" fill="#87817d"/><path d="M594.84 0h1.24v18.09h-1.24z" fill="#7f7875"/><path d="M595.48 0h1.24v18.09h-1.24z" fill="#8c8582"/><path d="M596.12 0h1.24v18.09h-1.24z" fill="#817a76"/><path d="M596.76 0h1.24v18.09h-1.24z" fill="#a39e9b"/><path d="M597.40 0h1.24v18.09h-1.24z" fill="#b3afad"/><path d="M598.04 0h1.24v18.09h-1.24z" fill="#a9a4a2"/><path d="M598.68 0h1.24v18.09h-1.24z" fill="#a19b99"/><path d="M599.31 0h1.24v18.09h-1.24z" fill="#948e8b"/><path d="M599.95 0h1.24v18.09h-1.24z" fill="#837c78"/><path d="M600.59 0h1.24v18.09h-1.24z" fill="#918b87"/><path d="M601.23 0h1.24v18.09h-1.24z" fill="#bdb9b7"/><path d="M601.87 0h1.28v18.09h-1.28z" fill="#b1adaa"/><path d="M602.55 0h1.28v18.09h-1.28z" fill="#d1cfcd"/><path d="M603.23 0h1.28v18.09h-1.28z" fill="#b8b4b2"/><path d="M603.91 0h1.28v18.09h-1.28z" fill="#c9c6c4"/><path d="M604.59 0h1.28v18.09h-1.28z" fill="#d6d4d3"/><path d="M605.27 0h1.28v18.09h-1.28z" fill="#bcb8b6"/><path d="M605.96 0h1.28v18.09h-1.28z" fill="#9b9693"/><path d="M606.64 0h1.28v18.09h-1.28z" fill="#a9a4a1"/><path d="M607.32 0h1.28v18.09h-1.28z" fill="#9a9491"/><path d="M608.00 0h1.37v18.09h-1.37z" fill="#b1acaa"/><path d="M608.77 0h1.37v18.09h-1.37z" fill="#a09b98"/><path d="M609.53 0h1.37v18.09h-1.37z" fill="#625955"/><path d="M610.30 0h1.37v18.09h-1.37z" fill="#463c36"/><path d="M611.07 0h1.37v18.09h-1.37z" fill="#746d69"/><path d="M611.83 0h1.37v18.09h-1.37z" fill="#7e7773"/><path d="M612.60 0h1.37v18.09h-1.37z" fill="#bab6b4"/><path d="M613.36 0h1.37v18.09h-1.37z" fill="#a49f9c"/><path d="M614.13 0h1.28v18.09h-1.28z" fill="#9c9794"/><path d="M614.81 0h1.28v18.09h-1.28z" fill="#9b9693"/><path d="M615.49 0h1.28v18.09h-1.28z" fill="#9d9895"/><path d="M616.18 0h1.28v18.09h-1.28z" fill="#837c79"/><path d="M616.86 0h1.28v18.09h-1.28z" fill="#79726e"/><path d="M617.54 0h1.28v18.09h-1.28z" fill="#68605c"/><path d="M618.22 0h1.24v18.09h-1.24z" fill="#6b635f"/><path d="M618.86 0h1.24v18.09h-1.24z" fill="#6c645f"/><path d="M619.50 0h1.24v18.09h-1.24z" fill="#635b56"/><path d="M620.14 0h1.24v18.09h-1.24z" fill="#776f6b"/><path d="M620.77 0h1.32v18.09h-1.32z" fill="#7f7875"/><path d="M621.49 0h1.32v18.09h-1.32z" fill="#9e9996"/><path d="M622.20 0h1.32v18.09h-1.32z" fill="#b9b5b3"/><path d="M622.92 0h1.32v18.09h-1.32z" fill="#96908d"/><path d="M623.64 0h1.32v18.09h-1.32z" fill="#766f6b"/><path d="M624.35 0h1.33v18.09h-1.33z" fill="#6e6662"/><path d="M625.08 0h1.33v18.09h-1.33z" fill="#635a56"/><path d="M625.81 0h1.33v18.09h-1.33z" fill="#706863"/><path d="M626.54 0h1.33v18.09h-1.33z" fill="#68605c"/><path d="M627.27 0h1.33v18.09h-1.33z" fill="#625a55"/><path d="M628.00 0h1.33v18.09h-1.33z" fill="#756d69"/><path d="M628.73 0h1.33v18.09h-1.33z" fill="#837d79"/><path d="M629.46 0h1.32v18.09h-1.32z" fill="#8c8682"/><path d="M630.18 0h1.32v18.09h-1.32z" fill="#918b88"/><path d="M630.89 0h1.32v18.09h-1.32z" fill="#706864"/><path d="M631.61 0h1.32v18.09h-1.32z" fill="#b8b4b2"/><path d="M632.32 0h1.32v18.09h-1.32z" fill="#7e7773"/><path d="M633.04 0h1.37v18.09h-1.37z" fill="#746c68"/><path d="M633.80 0h1.37v18.09h-1.37z" fill="#574e49"/><path d="M634.57 0h1.28v18.09h-1.28z" fill="#c0bdbb"/><path d="M635.25 0h1.28v18.09h-1.28z" fill="#a49f9c"/><path d="M635.93 0h1.28v18.09h-1.28z" fill="#b8b4b2"/><path d="M636.61 0h1.28v18.09h-1.28z" fill="#e4e2e2"/><path d="M637.29 0h1.28v18.09h-1.28z" fill="#eae9e8"/><path d="M637.98 0h1.28v18.09h-1.28z" fill="#e9e8e8"/><path d="M638.66 0h1.28v18.09h-1.28z" fill="#96918d"/><path d="M639.34 0h1.28v18.09h-1.28z" fill="#a49f9d"/><path d="M640.02 0h1.28v18.09h-1.28z" fill="#98928f"/><path d="M640.70 0h1.32v18.09h-1.32z" fill="#b5b0ae"/><path d="M641.42 0h1.32v18.09h-1.32z" fill="#b3afad"/><path d="M642.13 0h1.32v18.09h-1.32z" fill="#a6a19e"/><path d="M642.85 0h1.32v18.09h-1.32z" fill="#bfbcba"/><path d="M643.56 0h1.32v18.09h-1.32z" fill="#c7c4c3"/><path d="M644.28 0h1.32v18.09h-1.32z" fill="#6c6460"/><path d="M644.99 0h1.32v18.09h-1.32z" fill="#4a403b"/><path d="M645.71 0h1.32v18.09h-1.32z" fill="#746c68"/><path d="M646.42 0h1.32v18.09h-1.32z" fill="#7a736f"/><path d="M647.14 0h1.32v18.09h-1.32z" fill="#483e38"/><path d="M647.85 0h1.28v18.09h-1.28z" fill="#a39e9b"/><path d="M648.54 0h1.28v18.09h-1.28z" fill="#605753"/><path d="M649.22 0h1.28v18.09h-1.28z" fill="#958f8c"/><path d="M649.90 0h1.37v18.09h-1.37z" fill="#807975"/><path d="M650.66 0h1.37v18.09h-1.37z" fill="#8c8582"/><path d="M651.43 0h1.32v18.09h-1.32z" fill="#aca8a5"/><path d="M652.15 0h1.32v18.09h-1.32z" fill="#97928f"/><path d="M652.86 0h1.32v18.09h-1.32z" fill="#a19c99"/><path d="M653.58 0h1.32v18.09h-1.32z" fill="#ada9a6"/><path d="M654.29 0h1.32v18.09h-1.32z" fill="#b2aeac"/><path d="M655.01 0h1.37v18.09h-1.37z" fill="#6f6763"/><path d="M655.77 0h1.37v18.09h-1.37z" fill="#7a726e"/><path d="M656.54 0h1.37v18.09h-1.37z" fill="#524843"/><path d="M657.31 0h1.37v18.09h-1.37z" fill="#5a514c"/><path d="M658.07 0h1.28v18.09h-1.28z" fill="#b9b5b3"/><path d="M658.75 0h1.28v18.09h-1.28z" fill="#a6a19e"/><path d="M659.44 0h1.28v18.09h-1.28z" fill="#87807d"/><path d="M660.12 0h1.24v18.09h-1.24z" fill="#8c8682"/><path d="M660.76 0h1.24v18.09h-1.24z" fill="#6d6561"/><path d="M661.39 0h1.24v18.09h-1.24z" fill="#8e8784"/><path d="M662.03 0h1.24v18.09h-1.24z" fill="#a29d9b"/><path d="M662.67 0h1.24v18.09h-1.24z" fill="#867f7c"/><path d="M663.31 0h1.24v18.09h-1.24z" fill="#a7a29f"/><path d="M663.95 0h1.24v18.09h-1.24z" fill="#afaaa8"/><path d="M664.59 0h1.24v18.09h-1.24z" fill="#a5a09d"/><path d="M665.23 0h1.37v18.09h-1.37z" fill="#a19b99"/><path d="M665.99 0h1.37v18.09h-1.37z" fill="#918b87"/><path d="M666.76 0h1.37v18.09h-1.37z" fill="#8e8885"/><path d="M667.53 0h1.37v18.09h-1.37z" fill="#9f9a97"/><path d="M668.29 0h1.28v18.09h-1.28z" fill="#9c9794"/><path d="M668.97 0h1.28v18.09h-1.28z" fill="#bfbbb9"/><path d="M669.65 0h1.28v18.09h-1.28z" fill="#a39e9c"/><path d="M670.34 0h1.33v18.09h-1.33z" fill="#493f3a"/><path d="M671.07 0h1.33v18.09h-1.33z" fill="#756d69"/><path d="M671.80 0h1.33v18.09h-1.33z" fill="#504641"/><path d="M672.53 0h1.33v18.09h-1.33z" fill="#4e443f"/><path d="M673.26 0h1.33v18.09h-1.33z" fill="#68605c"/><path d="M673.99 0h1.33v18.09h-1.33z" fill="#483e39"/><path d="M674.72 0h1.33v18.09h-1.33z" fill="#4c423d"/><path d="M675.45 0h1.38v18.09h-1.38z" fill="#7c7470"/><path d="M676.22 0h0.78v18.09h-0.78z" fill="#89837f"/></g>
<g transform="translate(0,268.47)"><path d="M538.80 0h0.62v18.09h-0.62z" fill="#ffffff"/><path d="M538.82 0h1.47v18.09h-1.47z" fill="#d0cdcc"/><path d="M539.69 0h1.47v18.09h-1.47z" fill="#aba6a4"/><path d="M540.55 0h1.28v18.09h-1.28z" fill="#d8d5d4"/><path d="M541.24 0h1.28v18.09h-1.28z" fill="#efeeed"/><path d="M541.92 0h1.28v18.09h-1.28z" fill="#e4e2e1"/><path d="M542.60 0h1.28v18.09h-1.28z" fill="#ada8a6"/><path d="M543.28 0h1.28v18.09h-1.28z" fill="#b7b3b1"/><path d="M543.96 0h1.28v18.09h-1.28z" fill="#7f7874"/><path d="M544.64 0h1.37v18.09h-1.37z" fill="#96908d"/><path d="M545.41 0h1.37v18.09h-1.37z" fill="#928c89"/><path d="M546.18 0h1.37v18.09h-1.37z" fill="#d4d1d0"/><path d="M546.94 0h1.37v18.09h-1.37z" fill="#dddbda"/><path d="M547.71 0h1.37v18.09h-1.37z" fill="#6d6561"/><path d="M548.47 0h1.37v18.09h-1.37z" fill="#857e7b"/><path d="M549.24 0h1.37v18.09h-1.37z" fill="#807975"/><path d="M550.01 0h1.37v18.09h-1.37z" fill="#a19c99"/><path d="M550.77 0h1.28v18.09h-1.28z" fill="#78716d"/><path d="M551.45 0h1.28v18.09h-1.28z" fill="#8a8380"/><path d="M552.14 0h1.28v18.09h-1.28z" fill="#a6a29f"/><path d="M552.82 0h1.32v18.09h-1.32z" fill="#d4d2d1"/><path d="M553.53 0h1.32v18.09h-1.32z" fill="#a8a4a1"/><path d="M554.25 0h1.32v18.09h-1.32z" fill="#aba6a4"/><path d="M554.96 0h1.32v18.09h-1.32z" fill="#b6b2b0"/><path d="M555.68 0h1.32v18.09h-1.32z" fill="#c8c5c3"/><path d="M556.39 0h1.37v18.09h-1.37z" fill="#7d7672"/><path d="M557.16 0h1.37v18.09h-1.37z" fill="#a29d9a"/><path d="M557.93 0h1.37v18.09h-1.37z" fill="#eeedec"/><path d="M558.69 0h1.37v18.09h-1.37z" fill="#ccc9c7"/><path d="M559.46 0h1.37v18.09h-1.37z" fill="#77706c"/><path d="M560.23 0h1.37v18.09h-1.37z" fill="#433833"/><path d="M560.99 0h1.37v18.09h-1.37z" fill="#4d433d"/><path d="M561.76 0h1.37v18.09h-1.37z" fill="#6c6460"/><path d="M562.53 0h1.28v18.09h-1.28z" fill="#d2d0ce"/><path d="M563.21 0h1.28v18.09h-1.28z" fill="#a6a19f"/><path d="M563.89 0h1.28v18.09h-1.28z" fill="#b8b4b1"/><path d="M564.57 0h1.32v18.09h-1.32z" fill="#d9d7d6"/><path d="M565.28 0h1.32v18.09h-1.32z" fill="#d0cdcb"/><path d="M566.00 0h1.32v18.09h-1.32z" fill="#c1bdbc"/><path d="M566.72 0h1.32v18.09h-1.32z" fill="#d0cdcc"/><path d="M567.43 0h1.32v18.09h-1.32z" fill="#e1dfde"/><path d="M568.15 0h1.28v18.09h-1.28z" fill="#ada9a6"/><path d="M568.83 0h1.28v18.09h-1.28z" fill="#9e9895"/><path d="M569.51 0h1.28v18.09h-1.28z" fill="#d1cecd"/><path d="M570.19 0h1.28v18.09h-1.28z" fill="#d1cfce"/><path d="M570.87 0h1.28v18.09h-1.28z" fill="#b2aeac"/><path d="M571.55 0h1.28v18.09h-1.28z" fill="#e0dedd"/><path d="M572.23 0h1.28v18.09h-1.28z" fill="#edeceb"/><path d="M572.91 0h1.28v18.09h-1.28z" fill="#f0efef"/><path d="M573.60 0h1.28v18.09h-1.28z" fill="#eeedec"/><path d="M574.28 0h1.28v18.09h-1.28z" fill="#c1bdbb"/><path d="M574.96 0h1.28v18.09h-1.28z" fill="#c8c5c3"/><path d="M575.64 0h1.28v18.09h-1.28z" fill="#cac7c6"/><path d="M576.32 0h1.28v18.09h-1.28z" fill="#ffffff"/><path d="M577.00 0h1.28v18.09h-1.28z" fill="#eceaea"/><path d="M577.68 0h1.28v18.09h-1.28z" fill="#c6c3c2"/><path d="M578.36 0h1.37v18.09h-1.37z" fill="#ccc9c7"/><path d="M579.13 0h1.37v18.09h-1.37z" fill="#bbb7b5"/><path d="M579.90 0h1.32v18.09h-1.32z" fill="#d8d6d4"/><path d="M580.61 0h1.32v18.09h-1.32z" fill="#d6d4d3"/><path d="M581.33 0h1.32v18.09h-1.32z" fill="#eae9e9"/><path d="M582.04 0h1.32v18.09h-1.32z" fill="#dbd9d8"/><path d="M582.76 0h1.32v18.09h-1.32z" fill="#e1dfde"/><path d="M583.47 0h1.37v18.09h-1.37z" fill="#b3afac"/><path d="M584.24 0h1.37v18.09h-1.37z" fill="#c6c2c1"/><path d="M585.01 0h1.24v18.09h-1.24z" fill="#ceccca"/><path d="M585.65 0h1.24v18.09h-1.24z" fill="#edecec"/><path d="M586.28 0h1.24v18.09h-1.24z" fill="#f0efee"/><path d="M586.92 0h1.24v18.09h-1.24z" fill="#e5e4e3"/><path d="M587.56 0h1.37v18.09h-1.37z" fill="#bcb9b7"/><path d="M588.33 0h1.37v18.09h-1.37z" fill="#c0bdbb"/><path d="M589.09 0h1.28v18.09h-1.28z" fill="#ccc9c7"/><path d="M589.78 0h1.28v18.09h-1.28z" fill="#eae8e8"/><path d="M590.46 0h1.28v18.09h-1.28z" fill="#c3c0be"/><path d="M591.14 0h1.28v18.09h-1.28z" fill="#a6a19f"/><path d="M591.82 0h1.28v18.09h-1.28z" fill="#96908d"/><path d="M592.50 0h1.28v18.09h-1.28z" fill="#746c68"/><path d="M593.18 0h1.24v18.09h-1.24z" fill="#fcfcfc"/><path d="M593.82 0h1.24v18.09h-1.24z" fill="#fcfbfb"/><path d="M594.46 0h1.24v18.09h-1.24z" fill="#f9f9f8"/><path d="M595.10 0h1.24v18.09h-1.24z" fill="#f6f6f6"/><path d="M595.74 0h1.24v18.09h-1.24z" fill="#8d8784"/><path d="M596.38 0h1.24v18.09h-1.24z" fill="#a5a09d"/><path d="M597.01 0h1.24v18.09h-1.24z" fill="#a49f9c"/><path d="M597.65 0h1.24v18.09h-1.24z" fill="#999390"/><path d="M598.29 0h1.24v18.09h-1.24z" fill="#b2aeac"/><path d="M598.93 0h1.24v18.09h-1.24z" fill="#98928f"/><path d="M599.57 0h1.24v18.09h-1.24z" fill="#9e9895"/><path d="M600.21 0h1.24v18.09h-1.24z" fill="#aca7a5"/><path d="M600.85 0h1.28v18.09h-1.28z" fill="#79726e"/><path d="M601.53 0h1.28v18.09h-1.28z" fill="#6a625d"/><path d="M602.21 0h1.28v18.09h-1.28z" fill="#645c57"/><path d="M602.89 0h1.37v18.09h-1.37z" fill="#cfcccb"/><path d="M603.66 0h1.37v18.09h-1.37z" fill="#b6b2b0"/><path d="M604.42 0h1.28v18.09h-1.28z" fill="#8f8986"/><path d="M605.10 0h1.28v18.09h-1.28z" fill="#736b67"/><path d="M605.79 0h1.28v18.09h-1.28z" fill="#6e6662"/><path d="M606.47 0h1.37v18.09h-1.37z" fill="#cac7c5"/><path d="M607.23 0h1.37v18.09h-1.37z" fill="#bebbb9"/><path d="M608.00 0h1.62v18.09h-1.62z" fill="#b2adab"/><path d="M609.02 0h1.28v18.09h-1.28z" fill="#fcfbfb"/><path d="M609.70 0h1.28v18.09h-1.28z" fill="#fdfdfc"/><path d="M610.38 0h1.28v18.09h-1.28z" fill="#ffffff"/><path d="M611.07 0h1.28v18.09h-1.28z" fill="#78706c"/><path d="M611.75 0h1.28v18.09h-1.28z" fill="#98928f"/><path d="M612.43 0h1.28v18.09h-1.28z" fill="#98928f"/><path d="M613.11 0h1.37v18.09h-1.37z" fill="#a9a4a2"/><path d="M613.88 0h1.37v18.09h-1.37z" fill="#ccc9c8"/><path d="M614.64 0h1.37v18.09h-1.37z" fill="#716965"/><path d="M615.41 0h1.37v18.09h-1.37z" fill="#857f7b"/><path d="M616.18 0h1.37v18.09h-1.37z" fill="#cac7c5"/><path d="M616.94 0h1.37v18.09h-1.37z" fill="#bdbab8"/><path d="M617.71 0h1.37v18.09h-1.37z" fill="#837c79"/><path d="M618.47 0h1.37v18.09h-1.37z" fill="#a5a09d"/><path d="M619.24 0h1.37v18.09h-1.37z" fill="#d8d5d4"/><path d="M620.01 0h1.37v18.09h-1.37z" fill="#cac8c6"/><path d="M620.77 0h1.24v18.09h-1.24z" fill="#78706c"/><path d="M621.41 0h1.24v18.09h-1.24z" fill="#afaba8"/><path d="M622.05 0h1.24v18.09h-1.24z" fill="#9a9491"/><path d="M622.69 0h1.24v18.09h-1.24z" fill="#87807c"/><path d="M623.33 0h1.30v18.09h-1.30z" fill="#b3afad"/><path d="M624.03 0h1.30v18.09h-1.30z" fill="#a7a29f"/><path d="M624.73 0h1.30v18.09h-1.30z" fill="#b2aeac"/><path d="M625.44 0h1.30v18.09h-1.30z" fill="#bab7b5"/><path d="M626.14 0h1.30v18.09h-1.30z" fill="#a9a4a2"/><path d="M626.84 0h1.30v18.09h-1.30z" fill="#a6a19e"/><path d="M627.54 0h1.30v18.09h-1.30z" fill="#9d9895"/><path d="M628.25 0h1.30v18.09h-1.30z" fill="#9a9491"/><path d="M628.95 0h1.37v18.09h-1.37z" fill="#c3bfbd"/><path d="M629.72 0h1.37v18.09h-1.37z" fill="#ccc9c8"/><path d="M630.48 0h1.37v18.09h-1.37z" fill="#7f7875"/><path d="M631.25 0h1.37v18.09h-1.37z" fill="#bbb7b5"/><path d="M632.01 0h1.37v18.09h-1.37z" fill="#98928f"/><path d="M632.78 0h1.37v18.09h-1.37z" fill="#bebab8"/><path d="M633.55 0h1.24v18.09h-1.24z" fill="#ccc9c8"/><path d="M634.19 0h1.24v18.09h-1.24z" fill="#d3d0cf"/><path d="M634.82 0h1.24v18.09h-1.24z" fill="#c2bfbd"/><path d="M635.46 0h1.24v18.09h-1.24z" fill="#a6a19f"/><path d="M636.10 0h1.24v18.09h-1.24z" fill="#b9b5b3"/><path d="M636.74 0h1.24v18.09h-1.24z" fill="#8a8380"/><path d="M637.38 0h1.24v18.09h-1.24z" fill="#b1adaa"/><path d="M638.02 0h1.24v18.09h-1.24z" fill="#827b78"/><path d="M638.66 0h1.37v18.09h-1.37z" fill="#d2cfce"/><path d="M639.42 0h1.37v18.09h-1.37z" fill="#bcb9b7"/><path d="M640.19 0h1.24v18.09h-1.24z" fill="#766e6a"/><path d="M640.83 0h1.24v18.09h-1.24z" fill="#837c78"/><path d="M641.47 0h1.24v18.09h-1.24z" fill="#8a8380"/><path d="M642.11 0h1.24v18.09h-1.24z" fill="#564d48"/><path d="M642.74 0h1.32v18.09h-1.32z" fill="#958f8c"/><path d="M643.46 0h1.32v18.09h-1.32z" fill="#8c8682"/><path d="M644.18 0h1.32v18.09h-1.32z" fill="#b2aeac"/><path d="M644.89 0h1.32v18.09h-1.32z" fill="#a39d9b"/><path d="M645.61 0h1.32v18.09h-1.32z" fill="#b2aeab"/><path d="M646.32 0h1.28v18.09h-1.28z" fill="#fafafa"/><path d="M647.00 0h1.28v18.09h-1.28z" fill="#ffffff"/><path d="M647.68 0h1.28v18.09h-1.28z" fill="#fbfbfb"/><path d="M648.36 0h1.32v18.09h-1.32z" fill="#c3bfbe"/><path d="M649.08 0h1.32v18.09h-1.32z" fill="#c3bfbd"/><path d="M649.80 0h1.32v18.09h-1.32z" fill="#bab7b5"/><path d="M650.51 0h1.32v18.09h-1.32z" fill="#a5a09e"/><path d="M651.23 0h1.32v18.09h-1.32z" fill="#b0aba9"/><path d="M651.94 0h1.37v18.09h-1.37z" fill="#f0efef"/><path d="M652.71 0h1.37v18.09h-1.37z" fill="#efeeed"/><path d="M653.47 0h1.37v18.09h-1.37z" fill="#b3afad"/><path d="M654.24 0h1.37v18.09h-1.37z" fill="#c5c2c0"/><path d="M655.01 0h1.37v18.09h-1.37z" fill="#999491"/><path d="M655.77 0h1.37v18.09h-1.37z" fill="#cfcccb"/><path d="M656.54 0h1.37v18.09h-1.37z" fill="#b7b3b1"/><path d="M657.31 0h1.37v18.09h-1.37z" fill="#8d8783"/><path d="M658.07 0h1.37v18.09h-1.37z" fill="#c0bdbb"/><path d="M658.84 0h1.37v18.09h-1.37z" fill="#cccac8"/><path d="M659.61 0h1.24v18.09h-1.24z" fill="#77706c"/><path d="M660.24 0h1.24v18.09h-1.24z" fill="#7e7773"/><path d="M660.88 0h1.24v18.09h-1.24z" fill="#6e6762"/><path d="M661.52 0h1.24v18.09h-1.24z" fill="#5b524d"/><path d="M662.16 0h1.28v18.09h-1.28z" fill="#ffffff"/><path d="M662.84 0h1.28v18.09h-1.28z" fill="#d9d7d6"/><path d="M663.52 0h1.28v18.09h-1.28z" fill="#d6d4d3"/><path d="M664.20 0h1.28v18.09h-1.28z" fill="#615954"/><path d="M664.89 0h1.28v18.09h-1.28z" fill="#78706c"/><path d="M665.57 0h1.28v18.09h-1.28z" fill="#97918e"/><path d="M666.25 0h1.37v18.09h-1.37z" fill="#b8b4b2"/><path d="M667.01 0h1.37v18.09h-1.37z" fill="#c8c5c3"/><path d="M667.78 0h1.37v18.09h-1.37z" fill="#938d8a"/><path d="M668.55 0h1.37v18.09h-1.37z" fill="#9f9997"/><path d="M669.31 0h1.28v18.09h-1.28z" fill="#ada8a6"/><path d="M670.00 0h1.28v18.09h-1.28z" fill="#8e8885"/><path d="M670.68 0h1.28v18.09h-1.28z" fill="#9a9491"/><path d="M671.36 0h1.37v18.09h-1.37z" fill="#ffffff"/><path d="M672.12 0h1.37v18.09h-1.37z" fill="#dedddc"/><path d="M672.89 0h1.28v18.09h-1.28z" fill="#96908d"/><path d="M673.58 0h1.28v18.09h-1.28z" fill="#b6b2b0"/><path d="M674.26 0h1.28v18.09h-1.28z" fill="#9d9895"/><path d="M674.95 0h1.28v18.09h-1.28z" fill="#a5a09d"/><path d="M675.63 0h1.28v18.09h-1.28z" fill="#c3c0be"/><path d="M676.32 0h0.68v18.09h-0.68z" fill="#b2aeac"/></g>
<g transform="translate(0,286.96)"><path d="M538.80 0h0.62v18.09h-0.62z" fill="#ffffff"/><path d="M538.82 0h1.36v18.09h-1.36z" fill="#685f5b"/><path d="M539.57 0h1.36v18.09h-1.36z" fill="#776f6b"/><path d="M540.33 0h1.36v18.09h-1.36z" fill="#7d7672"/><path d="M541.09 0h1.36v18.09h-1.36z" fill="#7d7672"/><path d="M541.84 0h1.36v18.09h-1.36z" fill="#4d443e"/><path d="M542.60 0h1.28v18.09h-1.28z" fill="#8b8581"/><path d="M543.28 0h1.28v18.09h-1.28z" fill="#aba6a4"/><path d="M543.96 0h1.28v18.09h-1.28z" fill="#7b736f"/><path d="M544.64 0h1.28v18.09h-1.28z" fill="#c5c2c0"/><path d="M545.32 0h1.28v18.09h-1.28z" fill="#d7d5d4"/><path d="M546.00 0h1.28v18.09h-1.28z" fill="#dddbda"/><path d="M546.69 0h1.37v18.09h-1.37z" fill="#8f8985"/><path d="M547.45 0h1.37v18.09h-1.37z" fill="#8b8581"/><path d="M548.22 0h1.28v18.09h-1.28z" fill="#afaba9"/><path d="M548.90 0h1.28v18.09h-1.28z" fill="#a6a19e"/><path d="M549.58 0h1.28v18.09h-1.28z" fill="#a6a19f"/><path d="M550.26 0h1.28v18.09h-1.28z" fill="#d1cecd"/><path d="M550.94 0h1.28v18.09h-1.28z" fill="#c1bdbb"/><path d="M551.63 0h1.28v18.09h-1.28z" fill="#c4c1bf"/><path d="M552.31 0h1.28v18.09h-1.28z" fill="#564d48"/><path d="M552.99 0h1.28v18.09h-1.28z" fill="#59504b"/><path d="M553.67 0h1.28v18.09h-1.28z" fill="#938d8a"/><path d="M554.35 0h1.37v18.09h-1.37z" fill="#d4d1d0"/><path d="M555.12 0h1.37v18.09h-1.37z" fill="#b4b0ad"/><path d="M555.88 0h1.28v18.09h-1.28z" fill="#c2bfbd"/><path d="M556.56 0h1.28v18.09h-1.28z" fill="#b0acaa"/><path d="M557.25 0h1.28v18.09h-1.28z" fill="#b8b4b2"/><path d="M557.93 0h1.28v18.09h-1.28z" fill="#87807d"/><path d="M558.61 0h1.28v18.09h-1.28z" fill="#857e7a"/><path d="M559.29 0h1.28v18.09h-1.28z" fill="#726a66"/><path d="M559.97 0h1.28v18.09h-1.28z" fill="#9f9996"/><path d="M560.65 0h1.28v18.09h-1.28z" fill="#b0aba9"/><path d="M561.33 0h1.28v18.09h-1.28z" fill="#9b9693"/><path d="M562.01 0h1.28v18.09h-1.28z" fill="#b8b4b2"/><path d="M562.70 0h1.28v18.09h-1.28z" fill="#aba7a4"/><path d="M563.38 0h1.28v18.09h-1.28z" fill="#bbb7b5"/><path d="M564.06 0h1.28v18.09h-1.28z" fill="#5d544f"/><path d="M564.74 0h1.28v18.09h-1.28z" fill="#8f8986"/><path d="M565.42 0h1.28v18.09h-1.28z" fill="#645c57"/><path d="M566.10 0h1.28v18.09h-1.28z" fill="#a09b98"/><path d="M566.78 0h1.28v18.09h-1.28z" fill="#756d69"/><path d="M567.46 0h1.28v18.09h-1.28z" fill="#847d7a"/><path d="M568.15 0h1.32v18.09h-1.32z" fill="#5b524d"/><path d="M568.86 0h1.32v18.09h-1.32z" fill="#4d443e"/><path d="M569.58 0h1.32v18.09h-1.32z" fill="#544b45"/><path d="M570.29 0h1.32v18.09h-1.32z" fill="#534944"/><path d="M571.01 0h1.32v18.09h-1.32z" fill="#4d433e"/><path d="M571.72 0h1.28v18.09h-1.28z" fill="#827b77"/><path d="M572.40 0h1.28v18.09h-1.28z" fill="#999390"/><path d="M573.09 0h1.28v18.09h-1.28z" fill="#a6a19e"/><path d="M573.77 0h1.24v18.09h-1.24z" fill="#6b625e"/><path d="M574.41 0h1.24v18.09h-1.24z" fill="#8b8581"/><path d="M575.04 0h1.24v18.09h-1.24z" fill="#6c6460"/><path d="M575.68 0h1.24v18.09h-1.24z" fill="#6f6762"/><path d="M576.32 0h1.37v18.09h-1.37z" fill="#9b9693"/><path d="M577.09 0h1.37v18.09h-1.37z" fill="#918b88"/><path d="M577.85 0h1.28v18.09h-1.28z" fill="#8a8480"/><path d="M578.54 0h1.28v18.09h-1.28z" fill="#6e6662"/><path d="M579.22 0h1.28v18.09h-1.28z" fill="#756d69"/><path d="M579.90 0h1.37v18.09h-1.37z" fill="#d8d5d4"/><path d="M580.66 0h1.37v18.09h-1.37z" fill="#c6c3c2"/><path d="M581.43 0h1.37v18.09h-1.37z" fill="#837d79"/><path d="M582.20 0h1.37v18.09h-1.37z" fill="#9a9592"/><path d="M582.96 0h1.28v18.09h-1.28z" fill="#847d79"/><path d="M583.64 0h1.28v18.09h-1.28z" fill="#6c645f"/><path d="M584.33 0h1.28v18.09h-1.28z" fill="#5e5651"/><path d="M585.01 0h1.28v18.09h-1.28z" fill="#645c57"/><path d="M585.69 0h1.28v18.09h-1.28z" fill="#6b635f"/><path d="M586.37 0h1.28v18.09h-1.28z" fill="#6b625e"/><path d="M587.05 0h1.28v18.09h-1.28z" fill="#6e6662"/><path d="M587.73 0h1.28v18.09h-1.28z" fill="#999390"/><path d="M588.41 0h1.28v18.09h-1.28z" fill="#5b524d"/><path d="M589.09 0h1.28v18.09h-1.28z" fill="#95908c"/><path d="M589.78 0h1.28v18.09h-1.28z" fill="#9f9a97"/><path d="M590.46 0h1.28v18.09h-1.28z" fill="#8f8985"/><path d="M591.14 0h1.28v18.09h-1.28z" fill="#e5e4e3"/><path d="M591.82 0h1.28v18.09h-1.28z" fill="#b6b2b0"/><path d="M592.50 0h1.28v18.09h-1.28z" fill="#c3bfbd"/><path d="M593.18 0h1.28v18.09h-1.28z" fill="#d9d7d6"/><path d="M593.86 0h1.28v18.09h-1.28z" fill="#f3f2f2"/><path d="M594.55 0h1.28v18.09h-1.28z" fill="#eae9e8"/><path d="M595.23 0h1.28v18.09h-1.28z" fill="#857e7a"/><path d="M595.91 0h1.28v18.09h-1.28z" fill="#89827f"/><path d="M596.59 0h1.28v18.09h-1.28z" fill="#9d9895"/><path d="M597.27 0h1.28v18.09h-1.28z" fill="#dcdad9"/><path d="M597.95 0h1.28v18.09h-1.28z" fill="#f8f7f7"/><path d="M598.63 0h1.28v18.09h-1.28z" fill="#c5c2c0"/><path d="M599.31 0h1.24v18.09h-1.24z" fill="#9c9794"/><path d="M599.95 0h1.24v18.09h-1.24z" fill="#aaa5a2"/><path d="M600.59 0h1.24v18.09h-1.24z" fill="#8c8682"/><path d="M601.23 0h1.24v18.09h-1.24z" fill="#5e5550"/><path d="M601.87 0h1.28v18.09h-1.28z" fill="#97928f"/><path d="M602.55 0h1.28v18.09h-1.28z" fill="#a6a29f"/><path d="M603.23 0h1.28v18.09h-1.28z" fill="#a29d9a"/><path d="M603.91 0h1.28v18.09h-1.28z" fill="#b0aba9"/><path d="M604.59 0h1.28v18.09h-1.28z" fill="#9a9592"/><path d="M605.27 0h1.28v18.09h-1.28z" fill="#bab6b4"/><path d="M605.96 0h1.28v18.09h-1.28z" fill="#89837f"/><path d="M606.64 0h1.28v18.09h-1.28z" fill="#827b78"/><path d="M607.32 0h1.28v18.09h-1.28z" fill="#5d544f"/><path d="M608.00 0h1.28v18.09h-1.28z" fill="#8e8885"/><path d="M608.68 0h1.28v18.09h-1.28z" fill="#857e7b"/><path d="M609.36 0h1.28v18.09h-1.28z" fill="#8c8683"/><path d="M610.04 0h1.28v18.09h-1.28z" fill="#766e6a"/><path d="M610.73 0h1.28v18.09h-1.28z" fill="#a19c99"/><path d="M611.41 0h1.28v18.09h-1.28z" fill="#938d8a"/><path d="M612.09 0h1.28v18.09h-1.28z" fill="#a9a4a2"/><path d="M612.77 0h1.28v18.09h-1.28z" fill="#8c8682"/><path d="M613.45 0h1.28v18.09h-1.28z" fill="#958f8c"/><path d="M614.13 0h1.37v18.09h-1.37z" fill="#5f5651"/><path d="M614.90 0h1.37v18.09h-1.37z" fill="#857e7b"/><path d="M615.66 0h1.28v18.09h-1.28z" fill="#d1cecd"/><path d="M616.35 0h1.28v18.09h-1.28z" fill="#d6d4d3"/><path d="M617.03 0h1.28v18.09h-1.28z" fill="#afaaa8"/><path d="M617.71 0h1.37v18.09h-1.37z" fill="#8d8784"/><path d="M618.47 0h1.37v18.09h-1.37z" fill="#706864"/><path d="M619.24 0h1.24v18.09h-1.24z" fill="#746c68"/><path d="M619.88 0h1.24v18.09h-1.24z" fill="#c2bfbd"/><path d="M620.52 0h1.24v18.09h-1.24z" fill="#c4c1bf"/><path d="M621.16 0h1.24v18.09h-1.24z" fill="#9e9996"/><path d="M621.80 0h1.28v18.09h-1.28z" fill="#b7b3b0"/><path d="M622.48 0h1.28v18.09h-1.28z" fill="#dfdddc"/><path d="M623.16 0h1.28v18.09h-1.28z" fill="#f2f1f0"/><path d="M623.84 0h1.32v18.09h-1.32z" fill="#443934"/><path d="M624.55 0h1.32v18.09h-1.32z" fill="#675f5a"/><path d="M625.27 0h1.32v18.09h-1.32z" fill="#69615c"/><path d="M625.99 0h1.32v18.09h-1.32z" fill="#605853"/><path d="M626.70 0h1.32v18.09h-1.32z" fill="#625955"/><path d="M627.42 0h1.28v18.09h-1.28z" fill="#ada8a6"/><path d="M628.10 0h1.28v18.09h-1.28z" fill="#b8b4b2"/><path d="M628.78 0h1.28v18.09h-1.28z" fill="#aba6a4"/><path d="M629.46 0h1.28v18.09h-1.28z" fill="#615854"/><path d="M630.14 0h1.28v18.09h-1.28z" fill="#8f8885"/><path d="M630.82 0h1.28v18.09h-1.28z" fill="#79716d"/><path d="M631.50 0h1.24v18.09h-1.24z" fill="#e2e1e0"/><path d="M632.14 0h1.24v18.09h-1.24z" fill="#cccac8"/><path d="M632.78 0h1.24v18.09h-1.24z" fill="#bebab8"/><path d="M633.42 0h1.24v18.09h-1.24z" fill="#edeceb"/><path d="M634.06 0h1.28v18.09h-1.28z" fill="#837c78"/><path d="M634.74 0h1.28v18.09h-1.28z" fill="#685f5b"/><path d="M635.42 0h1.28v18.09h-1.28z" fill="#766e6a"/><path d="M636.10 0h1.24v18.09h-1.24z" fill="#6d6561"/><path d="M636.74 0h1.24v18.09h-1.24z" fill="#867f7c"/><path d="M637.38 0h1.24v18.09h-1.24z" fill="#aaa6a3"/><path d="M638.02 0h1.24v18.09h-1.24z" fill="#958f8c"/><path d="M638.66 0h1.37v18.09h-1.37z" fill="#5c534e"/><path d="M639.42 0h1.37v18.09h-1.37z" fill="#7a736f"/><path d="M640.19 0h1.37v18.09h-1.37z" fill="#7a736f"/><path d="M640.96 0h1.37v18.09h-1.37z" fill="#4a403b"/><path d="M641.72 0h1.28v18.09h-1.28z" fill="#89827f"/><path d="M642.40 0h1.28v18.09h-1.28z" fill="#97918e"/><path d="M643.09 0h1.28v18.09h-1.28z" fill="#7c7571"/><path d="M643.77 0h1.24v18.09h-1.24z" fill="#dddcda"/><path d="M644.41 0h1.24v18.09h-1.24z" fill="#e0dedd"/><path d="M645.04 0h1.24v18.09h-1.24z" fill="#d3d1d0"/><path d="M645.68 0h1.24v18.09h-1.24z" fill="#b5b1af"/><path d="M646.32 0h1.28v18.09h-1.28z" fill="#776f6b"/><path d="M647.00 0h1.28v18.09h-1.28z" fill="#7a726e"/><path d="M647.68 0h1.28v18.09h-1.28z" fill="#827b77"/><path d="M648.36 0h1.28v18.09h-1.28z" fill="#79726e"/><path d="M649.05 0h1.28v18.09h-1.28z" fill="#736c67"/><path d="M649.73 0h1.28v18.09h-1.28z" fill="#9c9794"/><path d="M650.41 0h1.24v18.09h-1.24z" fill="#88817d"/><path d="M651.05 0h1.24v18.09h-1.24z" fill="#605752"/><path d="M651.69 0h1.24v18.09h-1.24z" fill="#534944"/><path d="M652.32 0h1.24v18.09h-1.24z" fill="#827b77"/><path d="M652.96 0h1.28v18.09h-1.28z" fill="#9d9794"/><path d="M653.64 0h1.28v18.09h-1.28z" fill="#938d89"/><path d="M654.33 0h1.28v18.09h-1.28z" fill="#afaba8"/><path d="M655.01 0h1.28v18.09h-1.28z" fill="#a9a5a2"/><path d="M655.69 0h1.28v18.09h-1.28z" fill="#b3afad"/><path d="M656.37 0h1.28v18.09h-1.28z" fill="#bebbb9"/><path d="M657.05 0h1.37v18.09h-1.37z" fill="#89837f"/><path d="M657.82 0h1.37v18.09h-1.37z" fill="#7e7773"/><path d="M658.58 0h1.37v18.09h-1.37z" fill="#9f9a97"/><path d="M659.35 0h1.37v18.09h-1.37z" fill="#97928f"/><path d="M660.12 0h1.37v18.09h-1.37z" fill="#f8f8f8"/><path d="M660.88 0h1.37v18.09h-1.37z" fill="#dddbda"/><path d="M661.65 0h1.28v18.09h-1.28z" fill="#867f7c"/><path d="M662.33 0h1.28v18.09h-1.28z" fill="#938d8a"/><path d="M663.01 0h1.28v18.09h-1.28z" fill="#7d7672"/><path d="M663.69 0h1.28v18.09h-1.28z" fill="#d9d7d6"/><path d="M664.37 0h1.28v18.09h-1.28z" fill="#b8b4b2"/><path d="M665.06 0h1.28v18.09h-1.28z" fill="#b9b5b3"/><path d="M665.74 0h1.32v18.09h-1.32z" fill="#413731"/><path d="M666.45 0h1.32v18.09h-1.32z" fill="#665e59"/><path d="M667.17 0h1.32v18.09h-1.32z" fill="#7d7672"/><path d="M667.88 0h1.32v18.09h-1.32z" fill="#807975"/><path d="M668.60 0h1.32v18.09h-1.32z" fill="#78716d"/><path d="M669.31 0h1.24v18.09h-1.24z" fill="#746d69"/><path d="M669.95 0h1.24v18.09h-1.24z" fill="#9e9895"/><path d="M670.59 0h1.24v18.09h-1.24z" fill="#6f6763"/><path d="M671.23 0h1.24v18.09h-1.24z" fill="#716965"/><path d="M671.87 0h1.24v18.09h-1.24z" fill="#b2aeab"/><path d="M672.51 0h1.24v18.09h-1.24z" fill="#c0bdbb"/><path d="M673.15 0h1.24v18.09h-1.24z" fill="#9d9794"/><path d="M673.78 0h1.24v18.09h-1.24z" fill="#bebbb9"/><path d="M674.42 0h1.24v18.09h-1.24z" fill="#c8c5c3"/><path d="M675.07 0h1.24v18.09h-1.24z" fill="#b5b1af"/><path d="M675.71 0h1.24v18.09h-1.24z" fill="#b3afac"/><path d="M676.36 0h0.64v18.09h-0.64z" fill="#918b88"/></g>
<g transform="translate(0,305.45)"><path d="M538.80 0h0.62v18.09h-0.62z" fill="#ffffff"/><path d="M538.82 0h1.21v18.09h-1.21z" fill="#e7e6e5"/><path d="M539.43 0h1.21v18.09h-1.21z" fill="#f1f1f0"/><path d="M540.04 0h1.32v18.09h-1.32z" fill="#7c7571"/><path d="M540.76 0h1.32v18.09h-1.32z" fill="#7b7470"/><path d="M541.47 0h1.32v18.09h-1.32z" fill="#6e6661"/><path d="M542.19 0h1.32v18.09h-1.32z" fill="#736c68"/><path d="M542.91 0h1.32v18.09h-1.32z" fill="#a7a2a0"/><path d="M543.62 0h1.37v18.09h-1.37z" fill="#bfbbb9"/><path d="M544.39 0h1.37v18.09h-1.37z" fill="#cccac8"/><path d="M545.15 0h1.37v18.09h-1.37z" fill="#7c7470"/><path d="M545.92 0h1.37v18.09h-1.37z" fill="#6e6662"/><path d="M546.69 0h1.28v18.09h-1.28z" fill="#d4d1d0"/><path d="M547.37 0h1.28v18.09h-1.28z" fill="#e6e5e4"/><path d="M548.05 0h1.28v18.09h-1.28z" fill="#d2d0ce"/><path d="M548.73 0h1.24v18.09h-1.24z" fill="#a49f9c"/><path d="M549.37 0h1.24v18.09h-1.24z" fill="#9f9a97"/><path d="M550.01 0h1.24v18.09h-1.24z" fill="#79716d"/><path d="M550.65 0h1.24v18.09h-1.24z" fill="#9a9491"/><path d="M551.28 0h1.28v18.09h-1.28z" fill="#79716d"/><path d="M551.97 0h1.28v18.09h-1.28z" fill="#97928f"/><path d="M552.65 0h1.28v18.09h-1.28z" fill="#584f4a"/><path d="M553.33 0h1.37v18.09h-1.37z" fill="#a5a09e"/><path d="M554.09 0h1.37v18.09h-1.37z" fill="#a9a5a2"/><path d="M554.86 0h1.32v18.09h-1.32z" fill="#5c534f"/><path d="M555.58 0h1.32v18.09h-1.32z" fill="#837d79"/><path d="M556.29 0h1.32v18.09h-1.32z" fill="#504641"/><path d="M557.01 0h1.32v18.09h-1.32z" fill="#615854"/><path d="M557.72 0h1.32v18.09h-1.32z" fill="#78716c"/><path d="M558.44 0h1.32v18.09h-1.32z" fill="#b3afad"/><path d="M559.15 0h1.32v18.09h-1.32z" fill="#9a9491"/><path d="M559.87 0h1.32v18.09h-1.32z" fill="#aca7a4"/><path d="M560.58 0h1.32v18.09h-1.32z" fill="#8d8683"/><path d="M561.30 0h1.32v18.09h-1.32z" fill="#a7a3a0"/><path d="M562.01 0h1.32v18.09h-1.32z" fill="#b0acaa"/><path d="M562.73 0h1.32v18.09h-1.32z" fill="#cdcbc9"/><path d="M563.45 0h1.32v18.09h-1.32z" fill="#97918e"/><path d="M564.16 0h1.32v18.09h-1.32z" fill="#c7c4c2"/><path d="M564.88 0h1.32v18.09h-1.32z" fill="#a9a5a2"/><path d="M565.59 0h1.37v18.09h-1.37z" fill="#95908d"/><path d="M566.36 0h1.37v18.09h-1.37z" fill="#9b9592"/><path d="M567.12 0h1.37v18.09h-1.37z" fill="#a39e9b"/><path d="M567.89 0h1.37v18.09h-1.37z" fill="#98938f"/><path d="M568.66 0h1.37v18.09h-1.37z" fill="#ceccca"/><path d="M569.42 0h1.37v18.09h-1.37z" fill="#d9d7d5"/><path d="M570.19 0h1.28v18.09h-1.28z" fill="#a8a3a1"/><path d="M570.87 0h1.28v18.09h-1.28z" fill="#b0acaa"/><path d="M571.55 0h1.28v18.09h-1.28z" fill="#9f9a97"/><path d="M572.23 0h1.28v18.09h-1.28z" fill="#77706c"/><path d="M572.91 0h1.28v18.09h-1.28z" fill="#655c58"/><path d="M573.60 0h1.28v18.09h-1.28z" fill="#807976"/><path d="M574.28 0h1.28v18.09h-1.28z" fill="#6f6762"/><path d="M574.96 0h1.28v18.09h-1.28z" fill="#564d48"/><path d="M575.64 0h1.28v18.09h-1.28z" fill="#9b9693"/><path d="M576.32 0h1.24v18.09h-1.24z" fill="#7b736f"/><path d="M576.96 0h1.24v18.09h-1.24z" fill="#87807c"/><path d="M577.60 0h1.24v18.09h-1.24z" fill="#a39e9b"/><path d="M578.24 0h1.24v18.09h-1.24z" fill="#7b7470"/><path d="M578.88 0h1.37v18.09h-1.37z" fill="#544a45"/><path d="M579.64 0h1.37v18.09h-1.37z" fill="#807975"/><path d="M580.41 0h1.37v18.09h-1.37z" fill="#837c78"/><path d="M581.18 0h1.37v18.09h-1.37z" fill="#685f5b"/><path d="M581.94 0h1.37v18.09h-1.37z" fill="#867f7b"/><path d="M582.71 0h1.37v18.09h-1.37z" fill="#a39e9b"/><path d="M583.47 0h1.24v18.09h-1.24z" fill="#615854"/><path d="M584.11 0h1.24v18.09h-1.24z" fill="#69615d"/><path d="M584.75 0h1.24v18.09h-1.24z" fill="#645c57"/><path d="M585.39 0h1.24v18.09h-1.24z" fill="#96918e"/><path d="M586.03 0h1.37v18.09h-1.37z" fill="#423732"/><path d="M586.80 0h1.37v18.09h-1.37z" fill="#746c68"/><path d="M587.56 0h1.37v18.09h-1.37z" fill="#5e5550"/><path d="M588.33 0h1.37v18.09h-1.37z" fill="#7f7874"/><path d="M589.09 0h1.28v18.09h-1.28z" fill="#605752"/><path d="M589.78 0h1.28v18.09h-1.28z" fill="#97918e"/><path d="M590.46 0h1.28v18.09h-1.28z" fill="#96908d"/><path d="M591.14 0h1.28v18.09h-1.28z" fill="#b8b4b2"/><path d="M591.82 0h1.28v18.09h-1.28z" fill="#a39e9c"/><path d="M592.50 0h1.28v18.09h-1.28z" fill="#fcfcfc"/><path d="M593.18 0h1.28v18.09h-1.28z" fill="#989390"/><path d="M593.86 0h1.28v18.09h-1.28z" fill="#857e7a"/><path d="M594.55 0h1.28v18.09h-1.28z" fill="#7e7773"/><path d="M595.23 0h1.28v18.09h-1.28z" fill="#a09b98"/><path d="M595.91 0h1.28v18.09h-1.28z" fill="#a49f9c"/><path d="M596.59 0h1.28v18.09h-1.28z" fill="#847d79"/><path d="M597.27 0h1.28v18.09h-1.28z" fill="#7a726e"/><path d="M597.95 0h1.28v18.09h-1.28z" fill="#948e8b"/><path d="M598.63 0h1.28v18.09h-1.28z" fill="#665e59"/><path d="M599.31 0h1.28v18.09h-1.28z" fill="#88817d"/><path d="M600.00 0h1.28v18.09h-1.28z" fill="#928c88"/><path d="M600.68 0h1.28v18.09h-1.28z" fill="#534a44"/><path d="M601.36 0h1.28v18.09h-1.28z" fill="#847e7a"/><path d="M602.04 0h1.28v18.09h-1.28z" fill="#c9c6c5"/><path d="M602.72 0h1.28v18.09h-1.28z" fill="#9b9592"/><path d="M603.40 0h1.37v18.09h-1.37z" fill="#8d8784"/><path d="M604.17 0h1.37v18.09h-1.37z" fill="#817a76"/><path d="M604.93 0h1.37v18.09h-1.37z" fill="#8c8683"/><path d="M605.70 0h1.37v18.09h-1.37z" fill="#958f8c"/><path d="M606.47 0h1.37v18.09h-1.37z" fill="#9a9592"/><path d="M607.23 0h1.37v18.09h-1.37z" fill="#8c8682"/><path d="M608.00 0h1.28v18.09h-1.28z" fill="#69615c"/><path d="M608.68 0h1.28v18.09h-1.28z" fill="#6b635f"/><path d="M609.36 0h1.28v18.09h-1.28z" fill="#a49f9c"/><path d="M610.04 0h1.28v18.09h-1.28z" fill="#544b46"/><path d="M610.73 0h1.28v18.09h-1.28z" fill="#5f5651"/><path d="M611.41 0h1.28v18.09h-1.28z" fill="#463c36"/><path d="M612.09 0h1.28v18.09h-1.28z" fill="#aba6a4"/><path d="M612.77 0h1.28v18.09h-1.28z" fill="#bbb7b5"/><path d="M613.45 0h1.28v18.09h-1.28z" fill="#cfcccb"/><path d="M614.13 0h1.28v18.09h-1.28z" fill="#77706c"/><path d="M614.81 0h1.28v18.09h-1.28z" fill="#6d6561"/><path d="M615.49 0h1.28v18.09h-1.28z" fill="#625954"/><path d="M616.18 0h1.28v18.09h-1.28z" fill="#392e28"/><path d="M616.86 0h1.28v18.09h-1.28z" fill="#69615c"/><path d="M617.54 0h1.28v18.09h-1.28z" fill="#453b35"/><path d="M618.22 0h1.37v18.09h-1.37z" fill="#a6a19f"/><path d="M618.99 0h1.37v18.09h-1.37z" fill="#9e9895"/><path d="M619.75 0h1.37v18.09h-1.37z" fill="#6d6561"/><path d="M620.52 0h1.37v18.09h-1.37z" fill="#948e8b"/><path d="M621.28 0h1.28v18.09h-1.28z" fill="#ffffff"/><path d="M621.97 0h1.28v18.09h-1.28z" fill="#ccc9c8"/><path d="M622.65 0h1.28v18.09h-1.28z" fill="#ebeaea"/><path d="M623.33 0h1.24v18.09h-1.24z" fill="#b5b1ae"/><path d="M623.97 0h1.24v18.09h-1.24z" fill="#b0acaa"/><path d="M624.61 0h1.24v18.09h-1.24z" fill="#aaa6a3"/><path d="M625.24 0h1.24v18.09h-1.24z" fill="#cdcac8"/><path d="M625.88 0h1.24v18.09h-1.24z" fill="#958f8c"/><path d="M626.52 0h1.24v18.09h-1.24z" fill="#7e7773"/><path d="M627.16 0h1.24v18.09h-1.24z" fill="#807975"/><path d="M627.80 0h1.24v18.09h-1.24z" fill="#847d79"/><path d="M628.44 0h1.24v18.09h-1.24z" fill="#4a403a"/><path d="M629.08 0h1.24v18.09h-1.24z" fill="#554c47"/><path d="M629.72 0h1.24v18.09h-1.24z" fill="#3d322d"/><path d="M630.35 0h1.24v18.09h-1.24z" fill="#837c78"/><path d="M630.99 0h1.28v18.09h-1.28z" fill="#b1adab"/><path d="M631.67 0h1.28v18.09h-1.28z" fill="#a39e9b"/><path d="M632.36 0h1.28v18.09h-1.28z" fill="#c7c4c2"/><path d="M633.04 0h1.28v18.09h-1.28z" fill="#a39e9b"/><path d="M633.72 0h1.28v18.09h-1.28z" fill="#6d6560"/><path d="M634.40 0h1.28v18.09h-1.28z" fill="#928c88"/><path d="M635.08 0h1.37v18.09h-1.37z" fill="#564c47"/><path d="M635.85 0h1.37v18.09h-1.37z" fill="#5b524d"/><path d="M636.61 0h1.37v18.09h-1.37z" fill="#756d69"/><path d="M637.38 0h1.37v18.09h-1.37z" fill="#655c58"/><path d="M638.15 0h1.24v18.09h-1.24z" fill="#88827e"/><path d="M638.78 0h1.24v18.09h-1.24z" fill="#726b66"/><path d="M639.42 0h1.24v18.09h-1.24z" fill="#8d8783"/><path d="M640.06 0h1.24v18.09h-1.24z" fill="#867f7c"/><path d="M640.70 0h1.28v18.09h-1.28z" fill="#cecbca"/><path d="M641.38 0h1.28v18.09h-1.28z" fill="#efeeed"/><path d="M642.06 0h1.28v18.09h-1.28z" fill="#c4c0bf"/><path d="M642.74 0h1.28v18.09h-1.28z" fill="#574d48"/><path d="M643.43 0h1.28v18.09h-1.28z" fill="#77706c"/><path d="M644.11 0h1.28v18.09h-1.28z" fill="#827b78"/><path d="M644.79 0h1.28v18.09h-1.28z" fill="#584f4a"/><path d="M645.47 0h1.28v18.09h-1.28z" fill="#645c57"/><path d="M646.15 0h1.28v18.09h-1.28z" fill="#68605b"/><path d="M646.83 0h1.28v18.09h-1.28z" fill="#5a514c"/><path d="M647.51 0h1.28v18.09h-1.28z" fill="#8c8682"/><path d="M648.19 0h1.28v18.09h-1.28z" fill="#857e7a"/><path d="M648.88 0h1.28v18.09h-1.28z" fill="#8a8380"/><path d="M649.56 0h1.28v18.09h-1.28z" fill="#807975"/><path d="M650.24 0h1.28v18.09h-1.28z" fill="#88827e"/><path d="M650.92 0h1.28v18.09h-1.28z" fill="#867f7b"/><path d="M651.60 0h1.28v18.09h-1.28z" fill="#7c7571"/><path d="M652.28 0h1.28v18.09h-1.28z" fill="#6e6662"/><path d="M652.96 0h1.24v18.09h-1.24z" fill="#9d9895"/><path d="M653.60 0h1.24v18.09h-1.24z" fill="#a8a3a1"/><path d="M654.24 0h1.24v18.09h-1.24z" fill="#9e9996"/><path d="M654.88 0h1.24v18.09h-1.24z" fill="#bcb8b6"/><path d="M655.52 0h1.37v18.09h-1.37z" fill="#9e9996"/><path d="M656.28 0h1.37v18.09h-1.37z" fill="#bab7b4"/><path d="M657.05 0h1.24v18.09h-1.24z" fill="#827b77"/><path d="M657.69 0h1.24v18.09h-1.24z" fill="#8d8784"/><path d="M658.33 0h1.24v18.09h-1.24z" fill="#736b67"/><path d="M658.97 0h1.24v18.09h-1.24z" fill="#7a736f"/><path d="M659.61 0h1.24v18.09h-1.24z" fill="#a39e9c"/><path d="M660.24 0h1.24v18.09h-1.24z" fill="#a9a4a1"/><path d="M660.88 0h1.24v18.09h-1.24z" fill="#a39e9b"/><path d="M661.52 0h1.24v18.09h-1.24z" fill="#a49f9d"/><path d="M662.16 0h1.28v18.09h-1.28z" fill="#87817d"/><path d="M662.84 0h1.28v18.09h-1.28z" fill="#726a66"/><path d="M663.52 0h1.28v18.09h-1.28z" fill="#766e6a"/><path d="M664.20 0h1.28v18.09h-1.28z" fill="#605752"/><path d="M664.89 0h1.28v18.09h-1.28z" fill="#665d59"/><path d="M665.57 0h1.28v18.09h-1.28z" fill="#746c68"/><path d="M666.25 0h1.37v18.09h-1.37z" fill="#958f8c"/><path d="M667.01 0h1.37v18.09h-1.37z" fill="#837c78"/><path d="M667.78 0h1.37v18.09h-1.37z" fill="#a9a5a2"/><path d="M668.55 0h1.37v18.09h-1.37z" fill="#7f7874"/><path d="M669.31 0h1.24v18.09h-1.24z" fill="#afaba9"/><path d="M669.95 0h1.24v18.09h-1.24z" fill="#a39e9b"/><path d="M670.59 0h1.24v18.09h-1.24z" fill="#c6c3c2"/><path d="M671.23 0h1.24v18.09h-1.24z" fill="#a7a2a0"/><path d="M671.87 0h1.24v18.09h-1.24z" fill="#f7f6f6"/><path d="M672.51 0h1.24v18.09h-1.24z" fill="#f8f8f8"/><path d="M673.15 0h1.24v18.09h-1.24z" fill="#f3f2f2"/><path d="M673.78 0h1.24v18.09h-1.24z" fill="#fcfcfc"/><path d="M674.42 0h1.42v18.09h-1.42z" fill="#655c58"/><path d="M675.24 0h1.42v18.09h-1.42z" fill="#2e221c"/><path d="M676.06 0h0.94v18.09h-0.94z" fill="#433933"/></g>
<text x="538.80" y="342.2" text-anchor="middle" font-size="14.2" fill="#4d4d4d" stroke="#4d4d4d" stroke-width="0.3">-1</text>
<text x="607.90" y="342.2" text-anchor="middle" font-size="14.2" fill="#4d4d4d" stroke="#4d4d4d" stroke-width="0.3">0</text>
<text x="677.00" y="342.2" text-anchor="middle" font-size="14.2" fill="#4d4d4d" stroke="#4d4d4d" stroke-width="0.3">1</text></g>
<g id="netb" class="t"><path d="M154.8 598.5L148.6 509.3M154.8 598.5L173.8 511.3M154.8 598.5L125.5 517.3M154.8 598.5L99.0 527.2M154.8 598.5L117.3 540.0M154.8 598.5L148.6 531.0M154.8 598.5L172.0 533.4M154.8 598.5L195.7 522.0M154.8 598.5L215.2 535.4M154.8 598.5L191.0 545.3M154.8 598.5L94.0 550.0M154.8 598.5L136.7 548.3M154.8 598.5L74.7 561.2M154.8 598.5L114.4 562.4M154.8 598.5L161.5 554.5M154.8 598.5L143.0 568.0M154.8 598.5L181.8 565.3M154.8 598.5L209.7 560.0M154.8 598.5L232.0 557.0M154.8 598.5L95.0 575.6M154.8 598.5L121.3 583.5M154.8 598.5L69.7 585.0M154.8 598.5L189.2 585.2M154.8 598.5L211.1 583.3M154.8 598.5L235.9 581.2M154.8 598.5L93.3 596.0M154.8 598.5L115.6 602.5M154.8 598.5L71.0 609.5M154.8 598.5L213.3 604.6M154.8 598.5L235.9 606.0M154.8 598.5L192.5 610.7M154.8 598.5L98.7 618.5M154.8 598.5L128.0 623.5M154.8 598.5L180.2 628.8M154.8 598.5L216.1 627.2M154.8 598.5L80.4 632.0M154.8 598.5L112.6 638.3M154.8 598.5L157.3 637.0M154.8 598.5L198.6 643.7M154.8 598.5L137.4 647.0M154.8 598.5L94.0 651.5M154.8 598.5L247.7 653.4M261.2 738.3L247.7 653.4M307.3 625.6L247.7 653.4M154.8 598.5L175.5 655.7M154.8 598.5L121.8 662.0M154.8 598.5L224.0 664.0M261.2 738.3L224.0 664.0M154.8 598.5L154.8 665.6M154.8 598.5L215.8 681.2M261.2 738.3L215.8 681.2M154.8 598.5L197.4 683.9M261.2 738.3L197.4 683.9M154.8 598.5L114.0 701.1M103.0 796.0L114.0 701.1M154.8 598.5L136.1 705.6M103.0 796.0L136.1 705.6M307.3 625.6L354.5 601.9M261.2 738.3L278.0 696.6M261.2 738.3L306.5 698.4M261.2 738.3L302.5 728.0M261.2 738.3L326.2 722.0M261.2 738.3L323.2 753.8M261.2 738.3L298.0 761.0M261.2 738.3L382.0 785.0M498.4 829.3L382.0 785.0M261.2 738.3L307.2 785.4M261.2 738.3L271.6 779.5M261.2 738.3L283.2 802.5M261.2 738.3L255.4 803.5M261.2 738.3L236.8 785.1M261.2 738.3L226.4 760.8M261.2 738.3L181.4 762.0M103.0 796.0L181.4 762.0M261.2 738.3L188.4 783.1M103.0 796.0L188.4 783.1M103.0 796.0L88.0 754.6M103.0 796.0L63.8 755.0M103.0 796.0L129.5 762.5M103.0 796.0L41.0 772.0M103.0 796.0L65.3 784.9M103.0 796.0L36.0 796.0M103.0 796.0L61.8 812.9M103.0 796.0L149.4 806.2M103.0 796.0L39.2 824.7M103.0 796.0L74.0 835.2M103.0 796.0L124.0 831.7M103.0 796.0L150.9 835.9M103.0 796.0L98.5 839.1M103.0 796.0L55.0 849.0M103.0 796.0L133.3 855.8M103.0 796.0L84.4 863.2M103.0 796.0L110.0 865.0M498.4 829.3L500.4 764.7M498.4 829.3L478.1 777.1M498.4 829.3L527.8 770.4M498.4 829.3L511.6 789.6M498.4 829.3L546.0 786.6M498.4 829.3L464.4 797.7M498.4 829.3L536.0 809.6M498.4 829.3L563.4 805.7M498.4 829.3L444.1 813.0M498.4 829.3L567.6 830.8M498.4 829.3L451.5 836.7M498.4 829.3L542.1 839.0M498.4 829.3L530.3 859.4M498.4 829.3L560.0 857.5M498.4 829.3L447.0 860.5M498.4 829.3L474.4 862.0M498.4 829.3L504.1 871.5M498.4 829.3L545.2 881.2M498.4 829.3L465.7 886.4M498.4 829.3L492.5 893.1M498.4 829.3L520.7 892.9" stroke="#565656" stroke-width="0.62" fill="none"/>
<circle cx="154.8" cy="598.5" r="7.0" fill="#cb2880"/>
<circle cx="307.3" cy="625.6" r="7.0" fill="#cb2880"/>
<circle cx="261.2" cy="738.3" r="7.0" fill="#cb2880"/>
<circle cx="103.0" cy="796.0" r="7.0" fill="#cb2880"/>
<circle cx="498.4" cy="829.3" r="7.0" fill="#cb2880"/>
<path d="M148.60 502.50L155.40 509.30L148.60 516.10L141.80 509.30Z" fill="#7e5fa3"/>
<text x="152.45" y="501.00" text-anchor="middle" font-size="10.25" fill="#000" stroke="#000" stroke-width="0.32">KLF7</text>
<path d="M173.80 504.50L180.60 511.30L173.80 518.10L167.00 511.30Z" fill="#7e5fa3"/>
<text x="186.75" y="502.90" text-anchor="middle" font-size="10.25" fill="#000" stroke="#000" stroke-width="0.32">ZNF641</text>
<path d="M125.50 510.50L132.30 517.30L125.50 524.10L118.70 517.30Z" fill="#7e5fa3"/>
<text x="122.65" y="510.90" text-anchor="middle" font-size="10.25" fill="#000" stroke="#000" stroke-width="0.32">ZNF239</text>
<path d="M99.00 520.40L105.80 527.20L99.00 534.00L92.20 527.20Z" fill="#7e5fa3"/>
<text x="88.10" y="526.30" text-anchor="middle" font-size="10.25" fill="#000" stroke="#000" stroke-width="0.32">ELF1</text>
<path d="M117.30 533.20L124.10 540.00L117.30 546.80L110.50 540.00Z" fill="#7e5fa3"/>
<text x="122.45" y="534.50" text-anchor="middle" font-size="10.25" fill="#000" stroke="#000" stroke-width="0.32">GFI1B</text>
<path d="M148.60 524.20L155.40 531.00L148.60 537.80L141.80 531.00Z" fill="#7e5fa3"/>
<text x="155.70" y="532.80" text-anchor="middle" font-size="10.25" fill="#000" stroke="#000" stroke-width="0.32">HDGF</text>
<path d="M172.00 526.60L178.80 533.40L172.00 540.20L165.20 533.40Z" fill="#7e5fa3"/>
<text x="181.90" y="535.30" text-anchor="middle" font-size="10.25" fill="#000" stroke="#000" stroke-width="0.32">ZNF146</text>
<path d="M195.70 515.20L202.50 522.00L195.70 528.80L188.90 522.00Z" fill="#7e5fa3"/>
<text x="204.10" y="517.90" font-size="10.25" fill="#000" stroke="#000" stroke-width="0.32">ZNF623</text>
<path d="M215.20 528.60L222.00 535.40L215.20 542.20L208.40 535.40Z" fill="#7e5fa3"/>
<text x="226.00" y="537.00" font-size="10.25" fill="#000" stroke="#000" stroke-width="0.32">TRIM22</text>
<path d="M191.00 538.50L197.80 545.30L191.00 552.10L184.20 545.30Z" fill="#7e5fa3"/>
<text x="197.40" y="547.60" font-size="10.25" fill="#000" stroke="#000" stroke-width="0.32">TSHZ1</text>
<path d="M94.00 543.20L100.80 550.00L94.00 556.80L87.20 550.00Z" fill="#7e5fa3"/>
<text x="81.60" y="548.20" text-anchor="middle" font-size="10.25" fill="#000" stroke="#000" stroke-width="0.32">ZFP37</text>
<path d="M136.70 541.50L143.50 548.30L136.70 555.10L129.90 548.30Z" fill="#7e5fa3"/>
<text x="142.65" y="549.90" text-anchor="middle" font-size="10.25" fill="#000" stroke="#000" stroke-width="0.32">ZBTB33</text>
<path d="M74.70 554.40L81.50 561.20L74.70 568.00L67.90 561.20Z" fill="#7e5fa3"/>
<text x="62.60" y="563.00" text-anchor="middle" font-size="10.25" fill="#000" stroke="#000" stroke-width="0.32">IRF4</text>
<path d="M114.40 555.60L121.20 562.40L114.40 569.20L107.60 562.40Z" fill="#7e5fa3"/>
<text x="112.55" y="565.00" text-anchor="middle" font-size="10.25" fill="#000" stroke="#000" stroke-width="0.32">NR2C2</text>
<path d="M161.50 547.70L168.30 554.50L161.50 561.30L154.70 554.50Z" fill="#7e5fa3"/>
<text x="168.55" y="560.10" text-anchor="middle" font-size="10.25" fill="#000" stroke="#000" stroke-width="0.32">ZNF610</text>
<path d="M143.00 561.20L149.80 568.00L143.00 574.80L136.20 568.00Z" fill="#7e5fa3"/>
<text x="145.75" y="573.50" text-anchor="middle" font-size="10.25" fill="#000" stroke="#000" stroke-width="0.32">TARDBP</text>
<path d="M181.80 558.50L188.60 565.30L181.80 572.10L175.00 565.30Z" fill="#7e5fa3"/>
<text x="186.50" y="570.00" text-anchor="middle" font-size="10.25" fill="#000" stroke="#000" stroke-width="0.32">HIC1</text>
<path d="M209.70 553.20L216.50 560.00L209.70 566.80L202.90 560.00Z" fill="#7e5fa3"/>
<text x="194.90" y="562.60" font-size="10.25" fill="#000" stroke="#000" stroke-width="0.32">FOXM1</text>
<path d="M232.00 550.20L238.80 557.00L232.00 563.80L225.20 557.00Z" fill="#7e5fa3"/>
<text x="256.35" y="559.80" text-anchor="middle" font-size="10.25" fill="#000" stroke="#000" stroke-width="0.32">CHD4</text>
<path d="M95.00 568.80L101.80 575.60L95.00 582.40L88.20 575.60Z" fill="#7e5fa3"/>
<text x="94.90" y="577.20" text-anchor="middle" font-size="10.25" fill="#000" stroke="#000" stroke-width="0.32">ZNF366</text>
<path d="M121.30 576.70L128.10 583.50L121.30 590.30L114.50 583.50Z" fill="#7e5fa3"/>
<text x="131.35" y="585.40" text-anchor="middle" font-size="10.25" fill="#000" stroke="#000" stroke-width="0.32">ZBTB7A</text>
<path d="M69.70 578.20L76.50 585.00L69.70 591.80L62.90 585.00Z" fill="#7e5fa3"/>
<text x="57.65" y="589.80" text-anchor="middle" font-size="10.25" fill="#000" stroke="#000" stroke-width="0.32">ZNF264</text>
<path d="M189.20 578.40L196.00 585.20L189.20 592.00L182.40 585.20Z" fill="#7e5fa3"/>
<text x="180.60" y="586.60" font-size="10.25" fill="#000" stroke="#000" stroke-width="0.32">ZBTB6</text>
<path d="M211.10 576.50L217.90 583.30L211.10 590.10L204.30 583.30Z" fill="#7e5fa3"/>
<text x="202.90" y="584.10" font-size="10.25" fill="#000" stroke="#000" stroke-width="0.32">BCL11B</text>
<path d="M235.90 574.40L242.70 581.20L235.90 588.00L229.10 581.20Z" fill="#7e5fa3"/>
<text x="266.95" y="583.60" text-anchor="middle" font-size="10.25" fill="#000" stroke="#000" stroke-width="0.32">ZNF121</text>
<path d="M93.30 589.20L100.10 596.00L93.30 602.80L86.50 596.00Z" fill="#7e5fa3"/>
<text x="92.40" y="598.60" text-anchor="middle" font-size="10.25" fill="#000" stroke="#000" stroke-width="0.32">EBF1</text>
<path d="M115.60 595.70L122.40 602.50L115.60 609.30L108.80 602.50Z" fill="#7e5fa3"/>
<text x="122.00" y="605.20" text-anchor="middle" font-size="10.25" fill="#000" stroke="#000" stroke-width="0.32">KLF8</text>
<path d="M71.00 602.70L77.80 609.50L71.00 616.30L64.20 609.50Z" fill="#7e5fa3"/>
<text x="62.00" y="614.60" text-anchor="middle" font-size="10.25" fill="#000" stroke="#000" stroke-width="0.32">EGR1</text>
<path d="M213.30 597.80L220.10 604.60L213.30 611.40L206.50 604.60Z" fill="#7e5fa3"/>
<text x="225.50" y="605.60" text-anchor="middle" font-size="10.25" fill="#000" stroke="#000" stroke-width="0.32">ZNF585B</text>
<path d="M235.90 599.20L242.70 606.00L235.90 612.80L229.10 606.00Z" fill="#7e5fa3"/>
<text x="268.20" y="608.60" text-anchor="middle" font-size="10.25" fill="#000" stroke="#000" stroke-width="0.32">TBX21</text>
<path d="M192.50 603.90L199.30 610.70L192.50 617.50L185.70 610.70Z" fill="#7e5fa3"/>
<text x="199.30" y="613.20" text-anchor="middle" font-size="10.25" fill="#000" stroke="#000" stroke-width="0.32">ZEB1</text>
<path d="M98.70 611.70L105.50 618.50L98.70 625.30L91.90 618.50Z" fill="#7e5fa3"/>
<text x="100.35" y="625.30" text-anchor="middle" font-size="10.25" fill="#000" stroke="#000" stroke-width="0.32">ZNF8</text>
<path d="M128.00 616.70L134.80 623.50L128.00 630.30L121.20 623.50Z" fill="#7e5fa3"/>
<text x="138.20" y="625.30" text-anchor="middle" font-size="10.25" fill="#000" stroke="#000" stroke-width="0.32">ZNF394</text>
<path d="M180.20 622.00L187.00 628.80L180.20 635.60L173.40 628.80Z" fill="#7e5fa3"/>
<text x="189.85" y="631.30" text-anchor="middle" font-size="10.25" fill="#000" stroke="#000" stroke-width="0.32">ZNF501</text>
<path d="M216.10 620.40L222.90 627.20L216.10 634.00L209.30 627.20Z" fill="#7e5fa3"/>
<text x="243.55" y="629.60" text-anchor="middle" font-size="10.25" fill="#000" stroke="#000" stroke-width="0.32">KLF9</text>
<path d="M80.40 625.20L87.20 632.00L80.40 638.80L73.60 632.00Z" fill="#7e5fa3"/>
<text x="67.35" y="639.00" text-anchor="middle" font-size="10.25" fill="#000" stroke="#000" stroke-width="0.32">ZNF18</text>
<path d="M112.60 631.50L119.40 638.30L112.60 645.10L105.80 638.30Z" fill="#7e5fa3"/>
<text x="116.45" y="643.60" text-anchor="middle" font-size="10.25" fill="#000" stroke="#000" stroke-width="0.32">ZNF24</text>
<path d="M157.30 630.20L164.10 637.00L157.30 643.80L150.50 637.00Z" fill="#7e5fa3"/>
<text x="165.70" y="639.00" text-anchor="middle" font-size="10.25" fill="#000" stroke="#000" stroke-width="0.32">INSM2</text>
<path d="M198.60 636.90L205.40 643.70L198.60 650.50L191.80 643.70Z" fill="#7e5fa3"/>
<text x="224.00" y="646.90" text-anchor="middle" font-size="10.25" fill="#000" stroke="#000" stroke-width="0.32">ZNF101</text>
<path d="M137.40 640.20L144.20 647.00L137.40 653.80L130.60 647.00Z" fill="#7e5fa3"/>
<text x="142.05" y="651.90" text-anchor="middle" font-size="10.25" fill="#000" stroke="#000" stroke-width="0.32">ZBTB1</text>
<path d="M94.00 644.70L100.80 651.50L94.00 658.30L87.20 651.50Z" fill="#7e5fa3"/>
<text x="81.15" y="657.60" text-anchor="middle" font-size="10.25" fill="#000" stroke="#000" stroke-width="0.32">ZNF423</text>
<path d="M247.70 646.60L254.50 653.40L247.70 660.20L240.90 653.40Z" fill="#7e5fa3"/>
<text x="257.50" y="654.90" text-anchor="middle" font-size="10.25" fill="#000" stroke="#000" stroke-width="0.32">ARID1B</text>
<path d="M175.50 648.90L182.30 655.70L175.50 662.50L168.70 655.70Z" fill="#7e5fa3"/>
<text x="192.80" y="664.30" text-anchor="middle" font-size="10.25" fill="#000" stroke="#000" stroke-width="0.32">HMGN3</text>
<path d="M121.80 655.20L128.60 662.00L121.80 668.80L115.00 662.00Z" fill="#7e5fa3"/>
<text x="114.15" y="674.60" text-anchor="middle" font-size="10.25" fill="#000" stroke="#000" stroke-width="0.32">ZNF547</text>
<path d="M224.00 657.20L230.80 664.00L224.00 670.80L217.20 664.00Z" fill="#7e5fa3"/>
<text x="231.40" y="666.30" text-anchor="middle" font-size="10.25" fill="#000" stroke="#000" stroke-width="0.32">MTA2</text>
<path d="M154.80 658.80L161.60 665.60L154.80 672.40L148.00 665.60Z" fill="#7e5fa3"/>
<text x="161.80" y="681.60" text-anchor="middle" font-size="10.25" fill="#000" stroke="#000" stroke-width="0.32">BCL11A</text>
<path d="M215.80 674.40L222.60 681.20L215.80 688.00L209.00 681.20Z" fill="#7e5fa3"/>
<text x="225.20" y="682.90" text-anchor="middle" font-size="10.25" fill="#000" stroke="#000" stroke-width="0.32">ZNF76</text>
<path d="M197.40 677.10L204.20 683.90L197.40 690.70L190.60 683.90Z" fill="#7e5fa3"/>
<text x="192.95" y="695.80" text-anchor="middle" font-size="10.25" fill="#000" stroke="#000" stroke-width="0.32">ATF1</text>
<path d="M114.00 694.30L120.80 701.10L114.00 707.90L107.20 701.10Z" fill="#7e5fa3"/>
<text x="108.15" y="705.20" text-anchor="middle" font-size="10.25" fill="#000" stroke="#000" stroke-width="0.32">CBFB</text>
<path d="M136.10 698.80L142.90 705.60L136.10 712.40L129.30 705.60Z" fill="#7e5fa3"/>
<text x="144.40" y="707.60" text-anchor="middle" font-size="10.25" fill="#000" stroke="#000" stroke-width="0.32">MYNN</text>
<path d="M354.50 595.10L361.30 601.90L354.50 608.70L347.70 601.90Z" fill="#7e5fa3"/>
<text x="362.60" y="604.00" text-anchor="middle" font-size="10.25" fill="#000" stroke="#000" stroke-width="0.32">BCOR</text>
<path d="M278.00 689.80L284.80 696.60L278.00 703.40L271.20 696.60Z" fill="#7e5fa3"/>
<text x="277.40" y="692.20" text-anchor="middle" font-size="10.25" fill="#000" stroke="#000" stroke-width="0.32">SMARCE1</text>
<path d="M306.50 691.60L313.30 698.40L306.50 705.20L299.70 698.40Z" fill="#7e5fa3"/>
<text x="334.10" y="701.90" text-anchor="middle" font-size="10.25" fill="#000" stroke="#000" stroke-width="0.32">DNMT1</text>
<path d="M302.50 721.20L309.30 728.00L302.50 734.80L295.70 728.00Z" fill="#7e5fa3"/>
<text x="312.90" y="740.90" text-anchor="middle" font-size="10.25" fill="#000" stroke="#000" stroke-width="0.32">CREB3</text>
<path d="M326.20 715.20L333.00 722.00L326.20 728.80L319.40 722.00Z" fill="#7e5fa3"/>
<text x="353.60" y="725.10" text-anchor="middle" font-size="10.25" fill="#000" stroke="#000" stroke-width="0.32">POLR2A</text>
<path d="M323.20 747.00L330.00 753.80L323.20 760.60L316.40 753.80Z" fill="#7e5fa3"/>
<text x="332.55" y="755.90" text-anchor="middle" font-size="10.25" fill="#000" stroke="#000" stroke-width="0.32">CDC5L</text>
<path d="M298.00 754.20L304.80 761.00L298.00 767.80L291.20 761.00Z" fill="#7e5fa3"/>
<text x="308.40" y="769.80" text-anchor="middle" font-size="10.25" fill="#000" stroke="#000" stroke-width="0.32">ZNF407</text>
<path d="M382.00 778.20L388.80 785.00L382.00 791.80L375.20 785.00Z" fill="#7e5fa3"/>
<text x="385.20" y="788.50" text-anchor="middle" font-size="10.25" fill="#000" stroke="#000" stroke-width="0.32">ID3</text>
<path d="M307.20 778.60L314.00 785.40L307.20 792.20L300.40 785.40Z" fill="#7e5fa3"/>
<text x="317.65" y="787.40" text-anchor="middle" font-size="10.25" fill="#000" stroke="#000" stroke-width="0.32">ZBTB40</text>
<path d="M271.60 772.70L278.40 779.50L271.60 786.30L264.80 779.50Z" fill="#7e5fa3"/>
<text x="279.30" y="781.30" text-anchor="middle" font-size="10.25" fill="#000" stroke="#000" stroke-width="0.32">IKZF1</text>
<path d="M283.20 795.70L290.00 802.50L283.20 809.30L276.40 802.50Z" fill="#7e5fa3"/>
<text x="283.30" y="814.00" font-size="10.25" fill="#000" stroke="#000" stroke-width="0.32">PTRF</text>
<path d="M255.40 796.70L262.20 803.50L255.40 810.30L248.60 803.50Z" fill="#7e5fa3"/>
<text x="255.75" y="818.20" text-anchor="middle" font-size="10.25" fill="#000" stroke="#000" stroke-width="0.32">NR4A1</text>
<path d="M236.80 778.30L243.60 785.10L236.80 791.90L230.00 785.10Z" fill="#7e5fa3"/>
<text x="246.70" y="787.20" text-anchor="middle" font-size="10.25" fill="#000" stroke="#000" stroke-width="0.32">MEF2D</text>
<path d="M226.40 754.00L233.20 760.80L226.40 767.60L219.60 760.80Z" fill="#7e5fa3"/>
<text x="233.65" y="763.20" text-anchor="middle" font-size="10.25" fill="#000" stroke="#000" stroke-width="0.32">ARNT</text>
<path d="M181.40 755.20L188.20 762.00L181.40 768.80L174.60 762.00Z" fill="#7e5fa3"/>
<text x="187.05" y="763.90" text-anchor="middle" font-size="10.25" fill="#000" stroke="#000" stroke-width="0.32">IRF1</text>
<path d="M188.40 776.30L195.20 783.10L188.40 789.90L181.60 783.10Z" fill="#7e5fa3"/>
<text x="198.05" y="784.70" text-anchor="middle" font-size="10.25" fill="#000" stroke="#000" stroke-width="0.32">NFRKB</text>
<path d="M88.00 747.80L94.80 754.60L88.00 761.40L81.20 754.60Z" fill="#7e5fa3"/>
<text x="91.05" y="748.30" text-anchor="middle" font-size="10.25" fill="#000" stroke="#000" stroke-width="0.32">CEBPD</text>
<path d="M63.80 748.20L70.60 755.00L63.80 761.80L57.00 755.00Z" fill="#7e5fa3"/>
<text x="42.80" y="757.60" text-anchor="middle" font-size="10.25" fill="#000" stroke="#000" stroke-width="0.32">SPI1</text>
<path d="M129.50 755.70L136.30 762.50L129.50 769.30L122.70 762.50Z" fill="#7e5fa3"/>
<text x="139.40" y="764.40" text-anchor="middle" font-size="10.25" fill="#000" stroke="#000" stroke-width="0.32">GABPA</text>
<path d="M41.00 765.20L47.80 772.00L41.00 778.80L34.20 772.00Z" fill="#7e5fa3"/>
<text x="22.95" y="780.60" text-anchor="middle" font-size="10.25" fill="#000" stroke="#000" stroke-width="0.32">TCF7</text>
<path d="M65.30 778.10L72.10 784.90L65.30 791.70L58.50 784.90Z" fill="#7e5fa3"/>
<text x="79.05" y="778.00" text-anchor="middle" font-size="10.25" fill="#000" stroke="#000" stroke-width="0.32">POLR2H</text>
<path d="M36.00 789.20L42.80 796.00L36.00 802.80L29.20 796.00Z" fill="#7e5fa3"/>
<text x="20.45" y="807.80" text-anchor="middle" font-size="10.25" fill="#000" stroke="#000" stroke-width="0.32">GTF2E2</text>
<path d="M61.80 806.10L68.60 812.90L61.80 819.70L55.00 812.90Z" fill="#7e5fa3"/>
<text x="70.10" y="807.80" text-anchor="middle" font-size="10.25" fill="#000" stroke="#000" stroke-width="0.32">MLLT1</text>
<path d="M149.40 799.40L156.20 806.20L149.40 813.00L142.60 806.20Z" fill="#7e5fa3"/>
<text x="158.85" y="807.80" text-anchor="middle" font-size="10.25" fill="#000" stroke="#000" stroke-width="0.32">TEAD4</text>
<path d="M39.20 817.90L46.00 824.70L39.20 831.50L32.40 824.70Z" fill="#7e5fa3"/>
<text x="27.50" y="835.00" text-anchor="middle" font-size="10.25" fill="#000" stroke="#000" stroke-width="0.32">NFIC</text>
<path d="M74.00 828.40L80.80 835.20L74.00 842.00L67.20 835.20Z" fill="#7e5fa3"/>
<text x="76.65" y="829.60" text-anchor="middle" font-size="10.25" fill="#000" stroke="#000" stroke-width="0.32">FOXA2</text>
<path d="M124.00 824.90L130.80 831.70L124.00 838.50L117.20 831.70Z" fill="#7e5fa3"/>
<text x="121.60" y="824.60" text-anchor="middle" font-size="10.25" fill="#000" stroke="#000" stroke-width="0.32">HMBOX1</text>
<path d="M150.90 829.10L157.70 835.90L150.90 842.70L144.10 835.90Z" fill="#7e5fa3"/>
<text x="155.00" y="842.00" font-size="10.25" fill="#000" stroke="#000" stroke-width="0.32">ZNF589</text>
<path d="M98.50 832.30L105.30 839.10L98.50 845.90L91.70 839.10Z" fill="#7e5fa3"/>
<text x="98.35" y="853.20" text-anchor="middle" font-size="10.25" fill="#000" stroke="#000" stroke-width="0.32">ZNF175</text>
<path d="M55.00 842.20L61.80 849.00L55.00 855.80L48.20 849.00Z" fill="#7e5fa3"/>
<text x="45.80" y="863.10" text-anchor="middle" font-size="10.25" fill="#000" stroke="#000" stroke-width="0.32">ELK1</text>
<path d="M133.30 849.00L140.10 855.80L133.30 862.60L126.50 855.80Z" fill="#7e5fa3"/>
<text x="146.50" y="861.10" font-size="10.25" fill="#000" stroke="#000" stroke-width="0.32">JUNB</text>
<path d="M84.40 856.40L91.20 863.20L84.40 870.00L77.60 863.20Z" fill="#7e5fa3"/>
<text x="70.65" y="878.70" text-anchor="middle" font-size="10.25" fill="#000" stroke="#000" stroke-width="0.32">RUNX3</text>
<path d="M110.00 858.20L116.80 865.00L110.00 871.80L103.20 865.00Z" fill="#7e5fa3"/>
<text x="119.45" y="882.40" text-anchor="middle" font-size="10.25" fill="#000" stroke="#000" stroke-width="0.32">ZNF639</text>
<path d="M500.40 757.90L507.20 764.70L500.40 771.50L493.60 764.70Z" fill="#7e5fa3"/>
<text x="502.55" y="757.90" text-anchor="middle" font-size="10.25" fill="#000" stroke="#000" stroke-width="0.32">MXD4</text>
<path d="M478.10 770.30L484.90 777.10L478.10 783.90L471.30 777.10Z" fill="#7e5fa3"/>
<text x="472.75" y="769.60" text-anchor="middle" font-size="10.25" fill="#000" stroke="#000" stroke-width="0.32">GATAD1</text>
<path d="M527.80 763.60L534.60 770.40L527.80 777.20L521.00 770.40Z" fill="#7e5fa3"/>
<text x="552.80" y="770.30" text-anchor="middle" font-size="10.25" fill="#000" stroke="#000" stroke-width="0.32">HHEX</text>
<path d="M511.60 782.80L518.40 789.60L511.60 796.40L504.80 789.60Z" fill="#7e5fa3"/>
<text x="520.90" y="791.90" text-anchor="middle" font-size="10.25" fill="#000" stroke="#000" stroke-width="0.32">KDM1A</text>
<path d="M546.00 779.80L552.80 786.60L546.00 793.40L539.20 786.60Z" fill="#7e5fa3"/>
<text x="576.05" y="787.40" text-anchor="middle" font-size="10.25" fill="#000" stroke="#000" stroke-width="0.32">KDM5A</text>
<path d="M464.40 790.90L471.20 797.70L464.40 804.50L457.60 797.70Z" fill="#7e5fa3"/>
<text x="455.55" y="793.20" text-anchor="middle" font-size="10.25" fill="#000" stroke="#000" stroke-width="0.32">ZNF7</text>
<path d="M536.00 802.80L542.80 809.60L536.00 816.40L529.20 809.60Z" fill="#7e5fa3"/>
<text x="543.15" y="811.80" text-anchor="middle" font-size="10.25" fill="#000" stroke="#000" stroke-width="0.32">ZBTB2</text>
<path d="M563.40 798.90L570.20 805.70L563.40 812.50L556.60 805.70Z" fill="#7e5fa3"/>
<text x="589.80" y="807.30" text-anchor="middle" font-size="10.25" fill="#000" stroke="#000" stroke-width="0.32">MXD3</text>
<path d="M444.10 806.20L450.90 813.00L444.10 819.80L437.30 813.00Z" fill="#7e5fa3"/>
<text x="426.00" y="817.50" text-anchor="middle" font-size="10.25" fill="#000" stroke="#000" stroke-width="0.32">RFXANK</text>
<path d="M567.60 824.00L574.40 830.80L567.60 837.60L560.80 830.80Z" fill="#7e5fa3"/>
<text x="595.65" y="832.40" text-anchor="middle" font-size="10.25" fill="#000" stroke="#000" stroke-width="0.32">ZNF341</text>
<path d="M451.50 829.90L458.30 836.70L451.50 843.50L444.70 836.70Z" fill="#7e5fa3"/>
<text x="438.75" y="839.10" text-anchor="middle" font-size="10.25" fill="#000" stroke="#000" stroke-width="0.32">CTCF</text>
<path d="M542.10 832.20L548.90 839.00L542.10 845.80L535.30 839.00Z" fill="#7e5fa3"/>
<text x="549.35" y="840.30" text-anchor="middle" font-size="10.25" fill="#000" stroke="#000" stroke-width="0.32">EZH2</text>
<path d="M530.30 852.60L537.10 859.40L530.30 866.20L523.50 859.40Z" fill="#7e5fa3"/>
<text x="539.05" y="860.90" text-anchor="middle" font-size="10.25" fill="#000" stroke="#000" stroke-width="0.32">DRAP1</text>
<path d="M560.00 850.70L566.80 857.50L560.00 864.30L553.20 857.50Z" fill="#7e5fa3"/>
<text x="591.10" y="859.90" text-anchor="middle" font-size="10.25" fill="#000" stroke="#000" stroke-width="0.32">ZKSCAN1</text>
<path d="M447.00 853.70L453.80 860.50L447.00 867.30L440.20 860.50Z" fill="#7e5fa3"/>
<text x="429.60" y="863.90" text-anchor="middle" font-size="10.25" fill="#000" stroke="#000" stroke-width="0.32">TFAP4</text>
<path d="M474.40 855.20L481.20 862.00L474.40 868.80L467.60 862.00Z" fill="#7e5fa3"/>
<text x="467.30" y="868.60" text-anchor="middle" font-size="10.25" fill="#000" stroke="#000" stroke-width="0.32">MAZ</text>
<path d="M504.10 864.70L510.90 871.50L504.10 878.30L497.30 871.50Z" fill="#7e5fa3"/>
<text x="513.35" y="873.10" text-anchor="middle" font-size="10.25" fill="#000" stroke="#000" stroke-width="0.32">CTBP2</text>
<path d="M545.20 874.40L552.00 881.20L545.20 888.00L538.40 881.20Z" fill="#7e5fa3"/>
<text x="566.45" y="884.90" text-anchor="middle" font-size="10.25" fill="#000" stroke="#000" stroke-width="0.32">KLF16</text>
<path d="M465.70 879.60L472.50 886.40L465.70 893.20L458.90 886.40Z" fill="#7e5fa3"/>
<text x="455.50" y="890.90" text-anchor="middle" font-size="10.25" fill="#000" stroke="#000" stroke-width="0.32">CUX1</text>
<path d="M492.50 886.30L499.30 893.10L492.50 899.90L485.70 893.10Z" fill="#7e5fa3"/>
<text x="482.20" y="901.60" text-anchor="middle" font-size="10.25" fill="#000" stroke="#000" stroke-width="0.32">MTA1</text>
<path d="M520.70 886.10L527.50 892.90L520.70 899.70L513.90 892.90Z" fill="#7e5fa3"/>
<text x="535.25" y="905.80" text-anchor="middle" font-size="10.25" fill="#000" stroke="#000" stroke-width="0.32">SSRP1</text>
<text x="159.60" y="600.30" text-anchor="middle" font-size="10.25" fill="#000" stroke="#000" stroke-width="0.32">TYROBP</text>
<text x="311.40" y="640.90" text-anchor="middle" font-size="10.25" fill="#000" stroke="#000" stroke-width="0.32">FPR1</text>
<text x="269.00" y="740.40" text-anchor="middle" font-size="10.25" fill="#000" stroke="#000" stroke-width="0.32">FCGR3B</text>
<text x="108.65" y="798.00" text-anchor="middle" font-size="10.25" fill="#000" stroke="#000" stroke-width="0.32">PTPRC</text>
<text x="503.15" y="831.60" text-anchor="middle" font-size="10.25" fill="#000" stroke="#000" stroke-width="0.32">MMP9</text></g>
<g id="netc" class="t"><line x1="563.9" y1="597.0" x2="561.2" y2="534.2" stroke="#808080" stroke-width="1.6"/>
<line x1="563.9" y1="597.0" x2="452.1" y2="611.7" stroke="#808080" stroke-width="1.6"/>
<line x1="563.9" y1="597.0" x2="577.2" y2="688.8" stroke="#808080" stroke-width="1.6"/>
<line x1="665.3" y1="620.0" x2="577.2" y2="688.8" stroke="#808080" stroke-width="1.6"/>
<circle cx="563.9" cy="597.0" r="14.4" fill="#cb2880"/>
<circle cx="665.3" cy="620.0" r="14.2" fill="#cb2880"/>
<path d="M561.20 520.10L575.30 534.20L561.20 548.30L547.10 534.20Z" fill="#868abe"/>
<path d="M452.10 597.60L466.20 611.70L452.10 625.80L438.00 611.70Z" fill="#868abe"/>
<path d="M577.20 674.70L591.30 688.80L577.20 702.90L563.10 688.80Z" fill="#868abe"/>
<text x="561.65" y="537.50" text-anchor="middle" font-size="10.25" fill="#000" stroke="#000" stroke-width="0.1">FOS</text>
<text x="452.20" y="615.00" text-anchor="middle" font-size="10.25" fill="#000" stroke="#000" stroke-width="0.1">CEBPG</text>
<text x="563.20" y="600.50" text-anchor="middle" font-size="10.25" fill="#000" stroke="#000" stroke-width="0.1">S100A12</text>
<text x="671.75" y="623.50" text-anchor="middle" font-size="10.25" fill="#000" stroke="#000" stroke-width="0.1">TLR2</text>
<text x="578.20" y="692.00" text-anchor="middle" font-size="10.25" fill="#000" stroke="#000" stroke-width="0.1">STAT3</text></g>
<text x="0.9" y="10.8" font-size="17.6" fill="#000" stroke="#000" stroke-width="0.2">a</text>
<text x="1.0" y="497.8" font-size="17.6" fill="#000" stroke="#000" stroke-width="0.2">b</text>
<text x="421.8" y="497.8" font-size="17.6" fill="#000" stroke="#000" stroke-width="0.2">c</text>
</svg>
</body></html>
